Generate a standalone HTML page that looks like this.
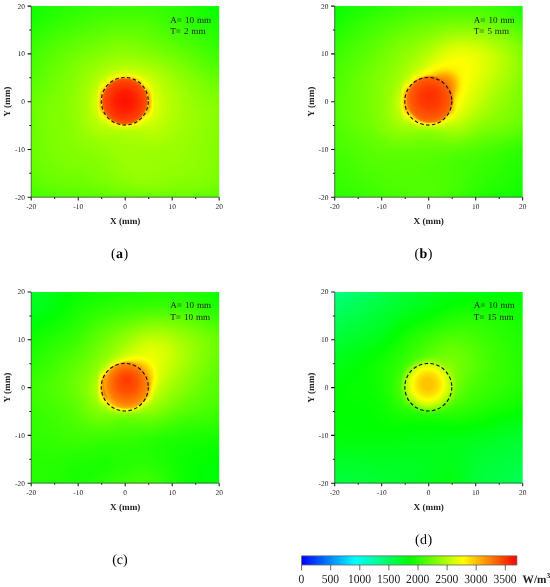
<!DOCTYPE html>
<html><head><meta charset="utf-8"><title>Figure</title>
<style>
html,body{margin:0;padding:0;background:#fff}
svg{display:block}
text{font-family:"Liberation Serif","DejaVu Serif",serif;fill:#222;text-rendering:geometricPrecision}
.tk text{font-size:7.4px}
.ax{font-size:9.2px;font-weight:bold}
.an{font-size:9.1px;word-spacing:0.65px}
.cap{font-size:14px;fill:#000;letter-spacing:0.5px}
.cbt text{font-size:12.4px}
.cbu{font-size:11.3px;font-weight:bold}
</style></head><body>
<svg width="550" height="587" viewBox="0 0 550 587">
<defs><filter id="cm" x="-20" y="-20" width="240" height="240" filterUnits="userSpaceOnUse" color-interpolation-filters="sRGB">
<feComponentTransfer>
<feFuncR type="table" tableValues="0 0 0 0 0 0 0 0 0 0 0 0 0 0 0 0 0 0 0 0.02703 0.05405 0.08108 0.1081 0.1351 0.1622 0.1892 0.2162 0.2432 0.2703 0.2973 0.3243 0.3514 0.3784 0.4054 0.4324 0.4595 0.4865 0.5135 0.5405 0.5676 0.5946 0.6216 0.6486 0.6757 0.7027 0.7297 0.7568 0.7838 0.8108 0.8378 0.8649 0.8919 0.9189 0.9459 0.973 1 1 1 1 1 1 1 1 1 1 1 1 1 1 1 1 1 1 1 1 1 1 1 1 1 1 1 1 1 1 1 1 1 1 1 1 1 1"/>
<feFuncG type="table" tableValues="1 1 1 1 1 1 1 1 1 1 1 1 1 1 1 1 1 1 1 1 1 1 1 1 1 1 1 1 1 1 1 1 1 1 1 1 1 1 1 1 1 1 1 1 1 1 1 1 1 1 1 1 1 1 1 1 0.973 0.9459 0.9189 0.8919 0.8649 0.8378 0.8108 0.7838 0.7568 0.7297 0.7027 0.6757 0.6486 0.6216 0.5946 0.5676 0.5405 0.5135 0.4865 0.4595 0.4324 0.4054 0.3784 0.3514 0.3243 0.2973 0.2703 0.2432 0.2162 0.1892 0.1622 0.1351 0.1081 0.08108 0.05405 0.02703 0"/>
<feFuncB type="table" tableValues="0.4865 0.4595 0.4324 0.4054 0.3784 0.3514 0.3243 0.2973 0.2703 0.2432 0.2162 0.1892 0.1622 0.1351 0.1081 0.08108 0.05405 0.02703 0 0 0 0 0 0 0 0 0 0 0 0 0 0 0 0 0 0 0 0 0 0 0 0 0 0 0 0 0 0 0 0 0 0 0 0 0 0 0 0 0 0 0 0 0 0 0 0 0 0 0 0 0 0 0 0 0 0 0 0 0 0 0 0 0 0 0 0 0 0 0 0 0 0 0"/>
</feComponentTransfer></filter>
<filter id="bl" x="-20" y="-20" width="240" height="240" filterUnits="userSpaceOnUse" color-interpolation-filters="sRGB"><feGaussianBlur stdDeviation="0 3"/></filter>
</defs>
<rect width="550" height="587" fill="#fff"/>
<defs><linearGradient id="g7" gradientUnits="userSpaceOnUse" x1="-9.4" x2="197.4" y1="0" y2="0"><stop offset="0" stop-color="#353535"/><stop offset="0.04545" stop-color="#353535"/><stop offset="0.09091" stop-color="#3a3a3a"/><stop offset="0.1364" stop-color="#3d3d3d"/><stop offset="0.1818" stop-color="#3f3f3f"/><stop offset="0.2273" stop-color="#414141"/><stop offset="0.2727" stop-color="#434343"/><stop offset="0.3182" stop-color="#444444"/><stop offset="0.3636" stop-color="#454545"/><stop offset="0.4091" stop-color="#474747"/><stop offset="0.4545" stop-color="#484848"/><stop offset="0.5" stop-color="#484848"/><stop offset="0.5455" stop-color="#484848"/><stop offset="0.5909" stop-color="#464646"/><stop offset="0.6364" stop-color="#454545"/><stop offset="0.6818" stop-color="#444444"/><stop offset="0.7273" stop-color="#434343"/><stop offset="0.7727" stop-color="#404040"/><stop offset="0.8182" stop-color="#3d3d3d"/><stop offset="0.8636" stop-color="#393939"/><stop offset="0.9091" stop-color="#363636"/><stop offset="0.9545" stop-color="#333333"/><stop offset="1" stop-color="#333333"/></linearGradient><linearGradient id="g8" gradientUnits="userSpaceOnUse" x1="-9.4" x2="197.4" y1="0" y2="0"><stop offset="0" stop-color="#363636"/><stop offset="0.04545" stop-color="#363636"/><stop offset="0.09091" stop-color="#3a3a3a"/><stop offset="0.1364" stop-color="#3e3e3e"/><stop offset="0.1818" stop-color="#404040"/><stop offset="0.2273" stop-color="#424242"/><stop offset="0.2727" stop-color="#444444"/><stop offset="0.3182" stop-color="#454545"/><stop offset="0.3636" stop-color="#474747"/><stop offset="0.4091" stop-color="#484848"/><stop offset="0.4545" stop-color="#494949"/><stop offset="0.5" stop-color="#4a4a4a"/><stop offset="0.5455" stop-color="#494949"/><stop offset="0.5909" stop-color="#484848"/><stop offset="0.6364" stop-color="#474747"/><stop offset="0.6818" stop-color="#464646"/><stop offset="0.7273" stop-color="#444444"/><stop offset="0.7727" stop-color="#414141"/><stop offset="0.8182" stop-color="#3e3e3e"/><stop offset="0.8636" stop-color="#3a3a3a"/><stop offset="0.9091" stop-color="#373737"/><stop offset="0.9545" stop-color="#343434"/><stop offset="1" stop-color="#343434"/></linearGradient><linearGradient id="g9" gradientUnits="userSpaceOnUse" x1="-9.4" x2="197.4" y1="0" y2="0"><stop offset="0" stop-color="#383838"/><stop offset="0.04545" stop-color="#383838"/><stop offset="0.09091" stop-color="#3c3c3c"/><stop offset="0.1364" stop-color="#3f3f3f"/><stop offset="0.1818" stop-color="#424242"/><stop offset="0.2273" stop-color="#444444"/><stop offset="0.2727" stop-color="#464646"/><stop offset="0.3182" stop-color="#484848"/><stop offset="0.3636" stop-color="#4a4a4a"/><stop offset="0.4091" stop-color="#4b4b4b"/><stop offset="0.4545" stop-color="#4c4c4c"/><stop offset="0.5" stop-color="#4d4d4d"/><stop offset="0.5455" stop-color="#4d4d4d"/><stop offset="0.5909" stop-color="#4c4c4c"/><stop offset="0.6364" stop-color="#4b4b4b"/><stop offset="0.6818" stop-color="#484848"/><stop offset="0.7273" stop-color="#464646"/><stop offset="0.7727" stop-color="#434343"/><stop offset="0.8182" stop-color="#404040"/><stop offset="0.8636" stop-color="#3d3d3d"/><stop offset="0.9091" stop-color="#3a3a3a"/><stop offset="0.9545" stop-color="#373737"/><stop offset="1" stop-color="#373737"/></linearGradient><linearGradient id="g10" gradientUnits="userSpaceOnUse" x1="-9.4" x2="197.4" y1="0" y2="0"><stop offset="0" stop-color="#3b3b3b"/><stop offset="0.04545" stop-color="#3b3b3b"/><stop offset="0.09091" stop-color="#3e3e3e"/><stop offset="0.1364" stop-color="#424242"/><stop offset="0.1818" stop-color="#444444"/><stop offset="0.2273" stop-color="#474747"/><stop offset="0.2727" stop-color="#494949"/><stop offset="0.3182" stop-color="#4b4b4b"/><stop offset="0.3636" stop-color="#4d4d4d"/><stop offset="0.4091" stop-color="#4f4f4f"/><stop offset="0.4545" stop-color="#505050"/><stop offset="0.5" stop-color="#505050"/><stop offset="0.5455" stop-color="#505050"/><stop offset="0.5909" stop-color="#4f4f4f"/><stop offset="0.6364" stop-color="#4e4e4e"/><stop offset="0.6818" stop-color="#4b4b4b"/><stop offset="0.7273" stop-color="#484848"/><stop offset="0.7727" stop-color="#454545"/><stop offset="0.8182" stop-color="#424242"/><stop offset="0.8636" stop-color="#3f3f3f"/><stop offset="0.9091" stop-color="#3c3c3c"/><stop offset="0.9545" stop-color="#393939"/><stop offset="1" stop-color="#393939"/></linearGradient><linearGradient id="g11" gradientUnits="userSpaceOnUse" x1="-9.4" x2="197.4" y1="0" y2="0"><stop offset="0" stop-color="#3d3d3d"/><stop offset="0.04545" stop-color="#3d3d3d"/><stop offset="0.09091" stop-color="#414141"/><stop offset="0.1364" stop-color="#444444"/><stop offset="0.1818" stop-color="#474747"/><stop offset="0.2273" stop-color="#494949"/><stop offset="0.2727" stop-color="#4c4c4c"/><stop offset="0.3182" stop-color="#4e4e4e"/><stop offset="0.3636" stop-color="#505050"/><stop offset="0.4091" stop-color="#525252"/><stop offset="0.4545" stop-color="#535353"/><stop offset="0.5" stop-color="#545454"/><stop offset="0.5455" stop-color="#545454"/><stop offset="0.5909" stop-color="#535353"/><stop offset="0.6364" stop-color="#505050"/><stop offset="0.6818" stop-color="#4d4d4d"/><stop offset="0.7273" stop-color="#4a4a4a"/><stop offset="0.7727" stop-color="#474747"/><stop offset="0.8182" stop-color="#444444"/><stop offset="0.8636" stop-color="#414141"/><stop offset="0.9091" stop-color="#3f3f3f"/><stop offset="0.9545" stop-color="#3b3b3b"/><stop offset="1" stop-color="#3b3b3b"/></linearGradient><linearGradient id="g12" gradientUnits="userSpaceOnUse" x1="-9.4" x2="197.4" y1="0" y2="0"><stop offset="0" stop-color="#404040"/><stop offset="0.04545" stop-color="#404040"/><stop offset="0.09091" stop-color="#434343"/><stop offset="0.1364" stop-color="#474747"/><stop offset="0.1818" stop-color="#4a4a4a"/><stop offset="0.2273" stop-color="#4c4c4c"/><stop offset="0.2727" stop-color="#4f4f4f"/><stop offset="0.3182" stop-color="#515151"/><stop offset="0.3636" stop-color="#535353"/><stop offset="0.4091" stop-color="#555555"/><stop offset="0.4545" stop-color="#575757"/><stop offset="0.5" stop-color="#585858"/><stop offset="0.5455" stop-color="#575757"/><stop offset="0.5909" stop-color="#565656"/><stop offset="0.6364" stop-color="#535353"/><stop offset="0.6818" stop-color="#505050"/><stop offset="0.7273" stop-color="#4d4d4d"/><stop offset="0.7727" stop-color="#4a4a4a"/><stop offset="0.8182" stop-color="#474747"/><stop offset="0.8636" stop-color="#444444"/><stop offset="0.9091" stop-color="#414141"/><stop offset="0.9545" stop-color="#3e3e3e"/><stop offset="1" stop-color="#3e3e3e"/></linearGradient><linearGradient id="g13" gradientUnits="userSpaceOnUse" x1="-9.4" x2="197.4" y1="0" y2="0"><stop offset="0" stop-color="#424242"/><stop offset="0.04545" stop-color="#424242"/><stop offset="0.09091" stop-color="#464646"/><stop offset="0.1364" stop-color="#4a4a4a"/><stop offset="0.1818" stop-color="#4d4d4d"/><stop offset="0.2273" stop-color="#505050"/><stop offset="0.2727" stop-color="#525252"/><stop offset="0.3182" stop-color="#555555"/><stop offset="0.3636" stop-color="#575757"/><stop offset="0.4091" stop-color="#595959"/><stop offset="0.4545" stop-color="#5b5b5b"/><stop offset="0.5" stop-color="#5b5b5b"/><stop offset="0.5455" stop-color="#5b5b5b"/><stop offset="0.5909" stop-color="#595959"/><stop offset="0.6364" stop-color="#565656"/><stop offset="0.6818" stop-color="#535353"/><stop offset="0.7273" stop-color="#505050"/><stop offset="0.7727" stop-color="#4c4c4c"/><stop offset="0.8182" stop-color="#494949"/><stop offset="0.8636" stop-color="#464646"/><stop offset="0.9091" stop-color="#434343"/><stop offset="0.9545" stop-color="#404040"/><stop offset="1" stop-color="#404040"/></linearGradient><linearGradient id="g14" gradientUnits="userSpaceOnUse" x1="-9.4" x2="197.4" y1="0" y2="0"><stop offset="0" stop-color="#454545"/><stop offset="0.04545" stop-color="#454545"/><stop offset="0.09091" stop-color="#494949"/><stop offset="0.1364" stop-color="#4d4d4d"/><stop offset="0.1818" stop-color="#505050"/><stop offset="0.2273" stop-color="#535353"/><stop offset="0.2727" stop-color="#565656"/><stop offset="0.3182" stop-color="#585858"/><stop offset="0.3636" stop-color="#5a5a5a"/><stop offset="0.4091" stop-color="#5d5d5d"/><stop offset="0.4545" stop-color="#5f5f5f"/><stop offset="0.5" stop-color="#5f5f5f"/><stop offset="0.5455" stop-color="#5e5e5e"/><stop offset="0.5909" stop-color="#5c5c5c"/><stop offset="0.6364" stop-color="#595959"/><stop offset="0.6818" stop-color="#565656"/><stop offset="0.7273" stop-color="#535353"/><stop offset="0.7727" stop-color="#4f4f4f"/><stop offset="0.8182" stop-color="#4c4c4c"/><stop offset="0.8636" stop-color="#484848"/><stop offset="0.9091" stop-color="#454545"/><stop offset="0.9545" stop-color="#424242"/><stop offset="1" stop-color="#424242"/></linearGradient><linearGradient id="g15" gradientUnits="userSpaceOnUse" x1="-9.4" x2="197.4" y1="0" y2="0"><stop offset="0" stop-color="#474747"/><stop offset="0.04545" stop-color="#474747"/><stop offset="0.09091" stop-color="#4b4b4b"/><stop offset="0.1364" stop-color="#4f4f4f"/><stop offset="0.1818" stop-color="#535353"/><stop offset="0.2273" stop-color="#565656"/><stop offset="0.2727" stop-color="#595959"/><stop offset="0.3182" stop-color="#5b5b5b"/><stop offset="0.3636" stop-color="#5e5e5e"/><stop offset="0.4091" stop-color="#606060"/><stop offset="0.4545" stop-color="#636363"/><stop offset="0.5" stop-color="#646464"/><stop offset="0.5455" stop-color="#626262"/><stop offset="0.5909" stop-color="#606060"/><stop offset="0.6364" stop-color="#5d5d5d"/><stop offset="0.6818" stop-color="#5a5a5a"/><stop offset="0.7273" stop-color="#565656"/><stop offset="0.7727" stop-color="#535353"/><stop offset="0.8182" stop-color="#4f4f4f"/><stop offset="0.8636" stop-color="#4b4b4b"/><stop offset="0.9091" stop-color="#474747"/><stop offset="0.9545" stop-color="#444444"/><stop offset="1" stop-color="#444444"/></linearGradient><linearGradient id="g16" gradientUnits="userSpaceOnUse" x1="-9.4" x2="197.4" y1="0" y2="0"><stop offset="0" stop-color="#494949"/><stop offset="0.04545" stop-color="#494949"/><stop offset="0.09091" stop-color="#4e4e4e"/><stop offset="0.1364" stop-color="#525252"/><stop offset="0.1818" stop-color="#565656"/><stop offset="0.2273" stop-color="#595959"/><stop offset="0.2727" stop-color="#5c5c5c"/><stop offset="0.3182" stop-color="#5f5f5f"/><stop offset="0.3636" stop-color="#626262"/><stop offset="0.4091" stop-color="#646464"/><stop offset="0.4545" stop-color="#676767"/><stop offset="0.5" stop-color="#686868"/><stop offset="0.5455" stop-color="#676767"/><stop offset="0.5909" stop-color="#646464"/><stop offset="0.6364" stop-color="#616161"/><stop offset="0.6818" stop-color="#5d5d5d"/><stop offset="0.7273" stop-color="#5a5a5a"/><stop offset="0.7727" stop-color="#565656"/><stop offset="0.8182" stop-color="#525252"/><stop offset="0.8636" stop-color="#4e4e4e"/><stop offset="0.9091" stop-color="#4a4a4a"/><stop offset="0.9545" stop-color="#464646"/><stop offset="1" stop-color="#464646"/></linearGradient><linearGradient id="g17" gradientUnits="userSpaceOnUse" x1="-9.4" x2="197.4" y1="0" y2="0"><stop offset="0" stop-color="#4b4b4b"/><stop offset="0.04545" stop-color="#4b4b4b"/><stop offset="0.09091" stop-color="#505050"/><stop offset="0.1364" stop-color="#545454"/><stop offset="0.1818" stop-color="#585858"/><stop offset="0.2273" stop-color="#5c5c5c"/><stop offset="0.2727" stop-color="#5f5f5f"/><stop offset="0.3182" stop-color="#626262"/><stop offset="0.3636" stop-color="#656565"/><stop offset="0.4091" stop-color="#686868"/><stop offset="0.4545" stop-color="#6b6b6b"/><stop offset="0.5" stop-color="#6c6c6c"/><stop offset="0.5455" stop-color="#6b6b6b"/><stop offset="0.5909" stop-color="#686868"/><stop offset="0.6364" stop-color="#656565"/><stop offset="0.6818" stop-color="#626262"/><stop offset="0.7273" stop-color="#5e5e5e"/><stop offset="0.7727" stop-color="#5a5a5a"/><stop offset="0.8182" stop-color="#555555"/><stop offset="0.8636" stop-color="#515151"/><stop offset="0.9091" stop-color="#4d4d4d"/><stop offset="0.9545" stop-color="#494949"/><stop offset="1" stop-color="#494949"/></linearGradient><linearGradient id="g18" gradientUnits="userSpaceOnUse" x1="-9.4" x2="197.4" y1="0" y2="0"><stop offset="0" stop-color="#4d4d4d"/><stop offset="0.04545" stop-color="#4d4d4d"/><stop offset="0.09091" stop-color="#525252"/><stop offset="0.1364" stop-color="#565656"/><stop offset="0.1818" stop-color="#5a5a5a"/><stop offset="0.2273" stop-color="#5e5e5e"/><stop offset="0.2727" stop-color="#626262"/><stop offset="0.3182" stop-color="#666666"/><stop offset="0.3636" stop-color="#696969"/><stop offset="0.4091" stop-color="#6d6d6d"/><stop offset="0.4545" stop-color="#707070"/><stop offset="0.5" stop-color="#717171"/><stop offset="0.5455" stop-color="#707070"/><stop offset="0.5909" stop-color="#6e6e6e"/><stop offset="0.6364" stop-color="#6a6a6a"/><stop offset="0.6818" stop-color="#676767"/><stop offset="0.7273" stop-color="#626262"/><stop offset="0.7727" stop-color="#5e5e5e"/><stop offset="0.8182" stop-color="#595959"/><stop offset="0.8636" stop-color="#545454"/><stop offset="0.9091" stop-color="#505050"/><stop offset="0.9545" stop-color="#4c4c4c"/><stop offset="1" stop-color="#4c4c4c"/></linearGradient><linearGradient id="g19" gradientUnits="userSpaceOnUse" x1="-9.4" x2="197.4" y1="0" y2="0"><stop offset="0" stop-color="#4f4f4f"/><stop offset="0.04545" stop-color="#4f4f4f"/><stop offset="0.09091" stop-color="#545454"/><stop offset="0.1364" stop-color="#585858"/><stop offset="0.1818" stop-color="#5c5c5c"/><stop offset="0.2273" stop-color="#606060"/><stop offset="0.2727" stop-color="#656565"/><stop offset="0.3182" stop-color="#696969"/><stop offset="0.3636" stop-color="#6d6d6d"/><stop offset="0.4091" stop-color="#717171"/><stop offset="0.4545" stop-color="#757575"/><stop offset="0.5" stop-color="#777777"/><stop offset="0.5455" stop-color="#767676"/><stop offset="0.5909" stop-color="#747474"/><stop offset="0.6364" stop-color="#707070"/><stop offset="0.6818" stop-color="#6c6c6c"/><stop offset="0.7273" stop-color="#676767"/><stop offset="0.7727" stop-color="#626262"/><stop offset="0.8182" stop-color="#5d5d5d"/><stop offset="0.8636" stop-color="#585858"/><stop offset="0.9091" stop-color="#535353"/><stop offset="0.9545" stop-color="#4f4f4f"/><stop offset="1" stop-color="#4f4f4f"/></linearGradient><linearGradient id="g20" gradientUnits="userSpaceOnUse" x1="-9.4" x2="197.4" y1="0" y2="0"><stop offset="0" stop-color="#505050"/><stop offset="0.04545" stop-color="#505050"/><stop offset="0.09091" stop-color="#555555"/><stop offset="0.1364" stop-color="#5a5a5a"/><stop offset="0.1818" stop-color="#5e5e5e"/><stop offset="0.2273" stop-color="#626262"/><stop offset="0.2727" stop-color="#676767"/><stop offset="0.3182" stop-color="#6c6c6c"/><stop offset="0.3636" stop-color="#717171"/><stop offset="0.4091" stop-color="#767676"/><stop offset="0.4545" stop-color="#7b7b7b"/><stop offset="0.5" stop-color="#7d7d7d"/><stop offset="0.5455" stop-color="#7d7d7d"/><stop offset="0.5909" stop-color="#7a7a7a"/><stop offset="0.6364" stop-color="#767676"/><stop offset="0.6818" stop-color="#717171"/><stop offset="0.7273" stop-color="#6b6b6b"/><stop offset="0.7727" stop-color="#666666"/><stop offset="0.8182" stop-color="#606060"/><stop offset="0.8636" stop-color="#5b5b5b"/><stop offset="0.9091" stop-color="#565656"/><stop offset="0.9545" stop-color="#525252"/><stop offset="1" stop-color="#525252"/></linearGradient><linearGradient id="g21" gradientUnits="userSpaceOnUse" x1="-9.4" x2="197.4" y1="0" y2="0"><stop offset="0" stop-color="#525252"/><stop offset="0.04545" stop-color="#525252"/><stop offset="0.09091" stop-color="#565656"/><stop offset="0.1364" stop-color="#5b5b5b"/><stop offset="0.1818" stop-color="#5f5f5f"/><stop offset="0.2273" stop-color="#646464"/><stop offset="0.2727" stop-color="#696969"/><stop offset="0.3182" stop-color="#6f6f6f"/><stop offset="0.3636" stop-color="#757575"/><stop offset="0.4091" stop-color="#7b7b7b"/><stop offset="0.4545" stop-color="#848484"/><stop offset="0.5" stop-color="#8a8a8a"/><stop offset="0.5455" stop-color="#868686"/><stop offset="0.5909" stop-color="#818181"/><stop offset="0.6364" stop-color="#7b7b7b"/><stop offset="0.6818" stop-color="#757575"/><stop offset="0.7273" stop-color="#6f6f6f"/><stop offset="0.7727" stop-color="#696969"/><stop offset="0.8182" stop-color="#646464"/><stop offset="0.8636" stop-color="#5f5f5f"/><stop offset="0.9091" stop-color="#5a5a5a"/><stop offset="0.9545" stop-color="#565656"/><stop offset="1" stop-color="#565656"/></linearGradient><linearGradient id="g22" gradientUnits="userSpaceOnUse" x1="-9.4" x2="197.4" y1="0" y2="0"><stop offset="0" stop-color="#535353"/><stop offset="0.04545" stop-color="#535353"/><stop offset="0.09091" stop-color="#585858"/><stop offset="0.1364" stop-color="#5c5c5c"/><stop offset="0.1818" stop-color="#616161"/><stop offset="0.2273" stop-color="#656565"/><stop offset="0.2727" stop-color="#6b6b6b"/><stop offset="0.3182" stop-color="#717171"/><stop offset="0.3636" stop-color="#787878"/><stop offset="0.4091" stop-color="#848484"/><stop offset="0.4545" stop-color="#9d9d9d"/><stop offset="0.5" stop-color="#b3b3b3"/><stop offset="0.5455" stop-color="#9e9e9e"/><stop offset="0.5909" stop-color="#898989"/><stop offset="0.6364" stop-color="#808080"/><stop offset="0.6818" stop-color="#797979"/><stop offset="0.7273" stop-color="#737373"/><stop offset="0.7727" stop-color="#6d6d6d"/><stop offset="0.8182" stop-color="#676767"/><stop offset="0.8636" stop-color="#626262"/><stop offset="0.9091" stop-color="#5d5d5d"/><stop offset="0.9545" stop-color="#595959"/><stop offset="1" stop-color="#595959"/></linearGradient><linearGradient id="g23" gradientUnits="userSpaceOnUse" x1="-9.4" x2="197.4" y1="0" y2="0"><stop offset="0" stop-color="#555555"/><stop offset="0.04545" stop-color="#555555"/><stop offset="0.09091" stop-color="#5a5a5a"/><stop offset="0.1364" stop-color="#5e5e5e"/><stop offset="0.1818" stop-color="#626262"/><stop offset="0.2273" stop-color="#666666"/><stop offset="0.2727" stop-color="#6c6c6c"/><stop offset="0.3182" stop-color="#737373"/><stop offset="0.3636" stop-color="#7c7c7c"/><stop offset="0.4091" stop-color="#949494"/><stop offset="0.4545" stop-color="#f4f4f4"/><stop offset="0.5" stop-color="#f5f5f5"/><stop offset="0.5455" stop-color="#f1f1f1"/><stop offset="0.5909" stop-color="#979797"/><stop offset="0.6364" stop-color="#848484"/><stop offset="0.6818" stop-color="#7c7c7c"/><stop offset="0.7273" stop-color="#757575"/><stop offset="0.7727" stop-color="#6f6f6f"/><stop offset="0.8182" stop-color="#6a6a6a"/><stop offset="0.8636" stop-color="#656565"/><stop offset="0.9091" stop-color="#606060"/><stop offset="0.9545" stop-color="#5d5d5d"/><stop offset="1" stop-color="#5d5d5d"/></linearGradient><linearGradient id="g24" gradientUnits="userSpaceOnUse" x1="-9.4" x2="197.4" y1="0" y2="0"><stop offset="0" stop-color="#575757"/><stop offset="0.04545" stop-color="#575757"/><stop offset="0.09091" stop-color="#5b5b5b"/><stop offset="0.1364" stop-color="#5f5f5f"/><stop offset="0.1818" stop-color="#636363"/><stop offset="0.2273" stop-color="#676767"/><stop offset="0.2727" stop-color="#6d6d6d"/><stop offset="0.3182" stop-color="#757575"/><stop offset="0.3636" stop-color="#818181"/><stop offset="0.4091" stop-color="#b8b8b8"/><stop offset="0.4545" stop-color="#f5f5f5"/><stop offset="0.5" stop-color="#f6f6f6"/><stop offset="0.5455" stop-color="#f8f8f8"/><stop offset="0.5909" stop-color="#b4b4b4"/><stop offset="0.6364" stop-color="#888888"/><stop offset="0.6818" stop-color="#7e7e7e"/><stop offset="0.7273" stop-color="#777777"/><stop offset="0.7727" stop-color="#717171"/><stop offset="0.8182" stop-color="#6c6c6c"/><stop offset="0.8636" stop-color="#676767"/><stop offset="0.9091" stop-color="#636363"/><stop offset="0.9545" stop-color="#606060"/><stop offset="1" stop-color="#606060"/></linearGradient><linearGradient id="g25" gradientUnits="userSpaceOnUse" x1="-9.4" x2="197.4" y1="0" y2="0"><stop offset="0" stop-color="#595959"/><stop offset="0.04545" stop-color="#595959"/><stop offset="0.09091" stop-color="#5d5d5d"/><stop offset="0.1364" stop-color="#616161"/><stop offset="0.1818" stop-color="#646464"/><stop offset="0.2273" stop-color="#686868"/><stop offset="0.2727" stop-color="#6e6e6e"/><stop offset="0.3182" stop-color="#767676"/><stop offset="0.3636" stop-color="#858585"/><stop offset="0.4091" stop-color="#f4f4f4"/><stop offset="0.4545" stop-color="#f6f6f6"/><stop offset="0.5" stop-color="#f7f7f7"/><stop offset="0.5455" stop-color="#f9f9f9"/><stop offset="0.5909" stop-color="#e4e4e4"/><stop offset="0.6364" stop-color="#8c8c8c"/><stop offset="0.6818" stop-color="#808080"/><stop offset="0.7273" stop-color="#797979"/><stop offset="0.7727" stop-color="#737373"/><stop offset="0.8182" stop-color="#6e6e6e"/><stop offset="0.8636" stop-color="#696969"/><stop offset="0.9091" stop-color="#666666"/><stop offset="0.9545" stop-color="#636363"/><stop offset="1" stop-color="#636363"/></linearGradient><linearGradient id="g26" gradientUnits="userSpaceOnUse" x1="-9.4" x2="197.4" y1="0" y2="0"><stop offset="0" stop-color="#5a5a5a"/><stop offset="0.04545" stop-color="#5a5a5a"/><stop offset="0.09091" stop-color="#5f5f5f"/><stop offset="0.1364" stop-color="#626262"/><stop offset="0.1818" stop-color="#656565"/><stop offset="0.2273" stop-color="#696969"/><stop offset="0.2727" stop-color="#6f6f6f"/><stop offset="0.3182" stop-color="#777777"/><stop offset="0.3636" stop-color="#898989"/><stop offset="0.4091" stop-color="#f6f6f6"/><stop offset="0.4545" stop-color="#f7f7f7"/><stop offset="0.5" stop-color="#f8f8f8"/><stop offset="0.5455" stop-color="#fafafa"/><stop offset="0.5909" stop-color="#fbfbfb"/><stop offset="0.6364" stop-color="#8f8f8f"/><stop offset="0.6818" stop-color="#818181"/><stop offset="0.7273" stop-color="#7a7a7a"/><stop offset="0.7727" stop-color="#747474"/><stop offset="0.8182" stop-color="#6f6f6f"/><stop offset="0.8636" stop-color="#6b6b6b"/><stop offset="0.9091" stop-color="#686868"/><stop offset="0.9545" stop-color="#656565"/><stop offset="1" stop-color="#656565"/></linearGradient><linearGradient id="g27" gradientUnits="userSpaceOnUse" x1="-9.4" x2="197.4" y1="0" y2="0"><stop offset="0" stop-color="#5b5b5b"/><stop offset="0.04545" stop-color="#5b5b5b"/><stop offset="0.09091" stop-color="#606060"/><stop offset="0.1364" stop-color="#636363"/><stop offset="0.1818" stop-color="#656565"/><stop offset="0.2273" stop-color="#696969"/><stop offset="0.2727" stop-color="#6f6f6f"/><stop offset="0.3182" stop-color="#787878"/><stop offset="0.3636" stop-color="#8b8b8b"/><stop offset="0.4091" stop-color="#f7f7f7"/><stop offset="0.4545" stop-color="#f7f7f7"/><stop offset="0.5" stop-color="#dedede"/><stop offset="0.5455" stop-color="#f9f9f9"/><stop offset="0.5909" stop-color="#fbfbfb"/><stop offset="0.6364" stop-color="#909090"/><stop offset="0.6818" stop-color="#828282"/><stop offset="0.7273" stop-color="#7a7a7a"/><stop offset="0.7727" stop-color="#747474"/><stop offset="0.8182" stop-color="#707070"/><stop offset="0.8636" stop-color="#6c6c6c"/><stop offset="0.9091" stop-color="#696969"/><stop offset="0.9545" stop-color="#676767"/><stop offset="1" stop-color="#676767"/></linearGradient><linearGradient id="g28" gradientUnits="userSpaceOnUse" x1="-9.4" x2="197.4" y1="0" y2="0"><stop offset="0" stop-color="#5c5c5c"/><stop offset="0.04545" stop-color="#5c5c5c"/><stop offset="0.09091" stop-color="#606060"/><stop offset="0.1364" stop-color="#636363"/><stop offset="0.1818" stop-color="#666666"/><stop offset="0.2273" stop-color="#696969"/><stop offset="0.2727" stop-color="#6f6f6f"/><stop offset="0.3182" stop-color="#787878"/><stop offset="0.3636" stop-color="#888888"/><stop offset="0.4091" stop-color="#f5f5f5"/><stop offset="0.4545" stop-color="#efefef"/><stop offset="0.5" stop-color="#dedede"/><stop offset="0.5455" stop-color="#f2f2f2"/><stop offset="0.5909" stop-color="#e7e7e7"/><stop offset="0.6364" stop-color="#8e8e8e"/><stop offset="0.6818" stop-color="#828282"/><stop offset="0.7273" stop-color="#7a7a7a"/><stop offset="0.7727" stop-color="#757575"/><stop offset="0.8182" stop-color="#717171"/><stop offset="0.8636" stop-color="#6d6d6d"/><stop offset="0.9091" stop-color="#6b6b6b"/><stop offset="0.9545" stop-color="#686868"/><stop offset="1" stop-color="#686868"/></linearGradient><linearGradient id="g29" gradientUnits="userSpaceOnUse" x1="-9.4" x2="197.4" y1="0" y2="0"><stop offset="0" stop-color="#5c5c5c"/><stop offset="0.04545" stop-color="#5c5c5c"/><stop offset="0.09091" stop-color="#616161"/><stop offset="0.1364" stop-color="#646464"/><stop offset="0.1818" stop-color="#666666"/><stop offset="0.2273" stop-color="#6a6a6a"/><stop offset="0.2727" stop-color="#6f6f6f"/><stop offset="0.3182" stop-color="#787878"/><stop offset="0.3636" stop-color="#848484"/><stop offset="0.4091" stop-color="#bababa"/><stop offset="0.4545" stop-color="#e9e9e9"/><stop offset="0.5" stop-color="#e0e0e0"/><stop offset="0.5455" stop-color="#ececec"/><stop offset="0.5909" stop-color="#b4b4b4"/><stop offset="0.6364" stop-color="#8a8a8a"/><stop offset="0.6818" stop-color="#818181"/><stop offset="0.7273" stop-color="#7a7a7a"/><stop offset="0.7727" stop-color="#757575"/><stop offset="0.8182" stop-color="#717171"/><stop offset="0.8636" stop-color="#6e6e6e"/><stop offset="0.9091" stop-color="#6b6b6b"/><stop offset="0.9545" stop-color="#686868"/><stop offset="1" stop-color="#686868"/></linearGradient><linearGradient id="g30" gradientUnits="userSpaceOnUse" x1="-9.4" x2="197.4" y1="0" y2="0"><stop offset="0" stop-color="#5c5c5c"/><stop offset="0.04545" stop-color="#5c5c5c"/><stop offset="0.09091" stop-color="#616161"/><stop offset="0.1364" stop-color="#646464"/><stop offset="0.1818" stop-color="#666666"/><stop offset="0.2273" stop-color="#696969"/><stop offset="0.2727" stop-color="#6f6f6f"/><stop offset="0.3182" stop-color="#777777"/><stop offset="0.3636" stop-color="#808080"/><stop offset="0.4091" stop-color="#949494"/><stop offset="0.4545" stop-color="#e7e7e7"/><stop offset="0.5" stop-color="#e1e1e1"/><stop offset="0.5455" stop-color="#eaeaea"/><stop offset="0.5909" stop-color="#959595"/><stop offset="0.6364" stop-color="#878787"/><stop offset="0.6818" stop-color="#808080"/><stop offset="0.7273" stop-color="#797979"/><stop offset="0.7727" stop-color="#747474"/><stop offset="0.8182" stop-color="#717171"/><stop offset="0.8636" stop-color="#6e6e6e"/><stop offset="0.9091" stop-color="#6b6b6b"/><stop offset="0.9545" stop-color="#686868"/><stop offset="1" stop-color="#686868"/></linearGradient><linearGradient id="g31" gradientUnits="userSpaceOnUse" x1="-9.4" x2="197.4" y1="0" y2="0"><stop offset="0" stop-color="#5c5c5c"/><stop offset="0.04545" stop-color="#5c5c5c"/><stop offset="0.09091" stop-color="#616161"/><stop offset="0.1364" stop-color="#646464"/><stop offset="0.1818" stop-color="#666666"/><stop offset="0.2273" stop-color="#696969"/><stop offset="0.2727" stop-color="#6e6e6e"/><stop offset="0.3182" stop-color="#757575"/><stop offset="0.3636" stop-color="#7c7c7c"/><stop offset="0.4091" stop-color="#838383"/><stop offset="0.4545" stop-color="#959595"/><stop offset="0.5" stop-color="#a8a8a8"/><stop offset="0.5455" stop-color="#959595"/><stop offset="0.5909" stop-color="#878787"/><stop offset="0.6364" stop-color="#838383"/><stop offset="0.6818" stop-color="#7e7e7e"/><stop offset="0.7273" stop-color="#787878"/><stop offset="0.7727" stop-color="#747474"/><stop offset="0.8182" stop-color="#707070"/><stop offset="0.8636" stop-color="#6e6e6e"/><stop offset="0.9091" stop-color="#6b6b6b"/><stop offset="0.9545" stop-color="#686868"/><stop offset="1" stop-color="#686868"/></linearGradient><linearGradient id="g32" gradientUnits="userSpaceOnUse" x1="-9.4" x2="197.4" y1="0" y2="0"><stop offset="0" stop-color="#5c5c5c"/><stop offset="0.04545" stop-color="#5c5c5c"/><stop offset="0.09091" stop-color="#616161"/><stop offset="0.1364" stop-color="#646464"/><stop offset="0.1818" stop-color="#666666"/><stop offset="0.2273" stop-color="#696969"/><stop offset="0.2727" stop-color="#6d6d6d"/><stop offset="0.3182" stop-color="#737373"/><stop offset="0.3636" stop-color="#797979"/><stop offset="0.4091" stop-color="#7b7b7b"/><stop offset="0.4545" stop-color="#7d7d7d"/><stop offset="0.5" stop-color="#808080"/><stop offset="0.5455" stop-color="#7f7f7f"/><stop offset="0.5909" stop-color="#808080"/><stop offset="0.6364" stop-color="#7f7f7f"/><stop offset="0.6818" stop-color="#7c7c7c"/><stop offset="0.7273" stop-color="#777777"/><stop offset="0.7727" stop-color="#737373"/><stop offset="0.8182" stop-color="#707070"/><stop offset="0.8636" stop-color="#6d6d6d"/><stop offset="0.9091" stop-color="#6b6b6b"/><stop offset="0.9545" stop-color="#686868"/><stop offset="1" stop-color="#686868"/></linearGradient><linearGradient id="g33" gradientUnits="userSpaceOnUse" x1="-9.4" x2="197.4" y1="0" y2="0"><stop offset="0" stop-color="#5c5c5c"/><stop offset="0.04545" stop-color="#5c5c5c"/><stop offset="0.09091" stop-color="#616161"/><stop offset="0.1364" stop-color="#636363"/><stop offset="0.1818" stop-color="#666666"/><stop offset="0.2273" stop-color="#686868"/><stop offset="0.2727" stop-color="#6c6c6c"/><stop offset="0.3182" stop-color="#717171"/><stop offset="0.3636" stop-color="#757575"/><stop offset="0.4091" stop-color="#777777"/><stop offset="0.4545" stop-color="#777777"/><stop offset="0.5" stop-color="#777777"/><stop offset="0.5455" stop-color="#797979"/><stop offset="0.5909" stop-color="#7b7b7b"/><stop offset="0.6364" stop-color="#7c7c7c"/><stop offset="0.6818" stop-color="#797979"/><stop offset="0.7273" stop-color="#757575"/><stop offset="0.7727" stop-color="#727272"/><stop offset="0.8182" stop-color="#6f6f6f"/><stop offset="0.8636" stop-color="#6d6d6d"/><stop offset="0.9091" stop-color="#6a6a6a"/><stop offset="0.9545" stop-color="#686868"/><stop offset="1" stop-color="#686868"/></linearGradient><linearGradient id="g34" gradientUnits="userSpaceOnUse" x1="-9.4" x2="197.4" y1="0" y2="0"><stop offset="0" stop-color="#5c5c5c"/><stop offset="0.04545" stop-color="#5c5c5c"/><stop offset="0.09091" stop-color="#606060"/><stop offset="0.1364" stop-color="#636363"/><stop offset="0.1818" stop-color="#666666"/><stop offset="0.2273" stop-color="#686868"/><stop offset="0.2727" stop-color="#6b6b6b"/><stop offset="0.3182" stop-color="#6e6e6e"/><stop offset="0.3636" stop-color="#727272"/><stop offset="0.4091" stop-color="#747474"/><stop offset="0.4545" stop-color="#747474"/><stop offset="0.5" stop-color="#757575"/><stop offset="0.5455" stop-color="#767676"/><stop offset="0.5909" stop-color="#787878"/><stop offset="0.6364" stop-color="#787878"/><stop offset="0.6818" stop-color="#767676"/><stop offset="0.7273" stop-color="#747474"/><stop offset="0.7727" stop-color="#717171"/><stop offset="0.8182" stop-color="#6f6f6f"/><stop offset="0.8636" stop-color="#6c6c6c"/><stop offset="0.9091" stop-color="#6a6a6a"/><stop offset="0.9545" stop-color="#676767"/><stop offset="1" stop-color="#676767"/></linearGradient><linearGradient id="g35" gradientUnits="userSpaceOnUse" x1="-9.4" x2="197.4" y1="0" y2="0"><stop offset="0" stop-color="#5c5c5c"/><stop offset="0.04545" stop-color="#5c5c5c"/><stop offset="0.09091" stop-color="#606060"/><stop offset="0.1364" stop-color="#636363"/><stop offset="0.1818" stop-color="#656565"/><stop offset="0.2273" stop-color="#676767"/><stop offset="0.2727" stop-color="#6a6a6a"/><stop offset="0.3182" stop-color="#6c6c6c"/><stop offset="0.3636" stop-color="#6f6f6f"/><stop offset="0.4091" stop-color="#717171"/><stop offset="0.4545" stop-color="#727272"/><stop offset="0.5" stop-color="#737373"/><stop offset="0.5455" stop-color="#747474"/><stop offset="0.5909" stop-color="#757575"/><stop offset="0.6364" stop-color="#757575"/><stop offset="0.6818" stop-color="#747474"/><stop offset="0.7273" stop-color="#727272"/><stop offset="0.7727" stop-color="#717171"/><stop offset="0.8182" stop-color="#6e6e6e"/><stop offset="0.8636" stop-color="#6c6c6c"/><stop offset="0.9091" stop-color="#696969"/><stop offset="0.9545" stop-color="#666666"/><stop offset="1" stop-color="#666666"/></linearGradient><linearGradient id="g36" gradientUnits="userSpaceOnUse" x1="-9.4" x2="197.4" y1="0" y2="0"><stop offset="0" stop-color="#5c5c5c"/><stop offset="0.04545" stop-color="#5c5c5c"/><stop offset="0.09091" stop-color="#606060"/><stop offset="0.1364" stop-color="#636363"/><stop offset="0.1818" stop-color="#656565"/><stop offset="0.2273" stop-color="#676767"/><stop offset="0.2727" stop-color="#686868"/><stop offset="0.3182" stop-color="#6a6a6a"/><stop offset="0.3636" stop-color="#6c6c6c"/><stop offset="0.4091" stop-color="#6e6e6e"/><stop offset="0.4545" stop-color="#717171"/><stop offset="0.5" stop-color="#727272"/><stop offset="0.5455" stop-color="#737373"/><stop offset="0.5909" stop-color="#737373"/><stop offset="0.6364" stop-color="#727272"/><stop offset="0.6818" stop-color="#727272"/><stop offset="0.7273" stop-color="#717171"/><stop offset="0.7727" stop-color="#707070"/><stop offset="0.8182" stop-color="#6e6e6e"/><stop offset="0.8636" stop-color="#6b6b6b"/><stop offset="0.9091" stop-color="#696969"/><stop offset="0.9545" stop-color="#666666"/><stop offset="1" stop-color="#666666"/></linearGradient><linearGradient id="g37" gradientUnits="userSpaceOnUse" x1="-9.4" x2="197.4" y1="0" y2="0"><stop offset="0" stop-color="#5c5c5c"/><stop offset="0.04545" stop-color="#5c5c5c"/><stop offset="0.09091" stop-color="#606060"/><stop offset="0.1364" stop-color="#626262"/><stop offset="0.1818" stop-color="#646464"/><stop offset="0.2273" stop-color="#666666"/><stop offset="0.2727" stop-color="#676767"/><stop offset="0.3182" stop-color="#686868"/><stop offset="0.3636" stop-color="#6a6a6a"/><stop offset="0.4091" stop-color="#6c6c6c"/><stop offset="0.4545" stop-color="#6f6f6f"/><stop offset="0.5" stop-color="#727272"/><stop offset="0.5455" stop-color="#727272"/><stop offset="0.5909" stop-color="#717171"/><stop offset="0.6364" stop-color="#717171"/><stop offset="0.6818" stop-color="#717171"/><stop offset="0.7273" stop-color="#707070"/><stop offset="0.7727" stop-color="#6f6f6f"/><stop offset="0.8182" stop-color="#6d6d6d"/><stop offset="0.8636" stop-color="#6b6b6b"/><stop offset="0.9091" stop-color="#696969"/><stop offset="0.9545" stop-color="#666666"/><stop offset="1" stop-color="#666666"/></linearGradient><linearGradient id="g38" gradientUnits="userSpaceOnUse" x1="-9.4" x2="197.4" y1="0" y2="0"><stop offset="0" stop-color="#5b5b5b"/><stop offset="0.04545" stop-color="#5b5b5b"/><stop offset="0.09091" stop-color="#5f5f5f"/><stop offset="0.1364" stop-color="#626262"/><stop offset="0.1818" stop-color="#646464"/><stop offset="0.2273" stop-color="#656565"/><stop offset="0.2727" stop-color="#666666"/><stop offset="0.3182" stop-color="#676767"/><stop offset="0.3636" stop-color="#686868"/><stop offset="0.4091" stop-color="#6b6b6b"/><stop offset="0.4545" stop-color="#6e6e6e"/><stop offset="0.5" stop-color="#717171"/><stop offset="0.5455" stop-color="#727272"/><stop offset="0.5909" stop-color="#717171"/><stop offset="0.6364" stop-color="#707070"/><stop offset="0.6818" stop-color="#707070"/><stop offset="0.7273" stop-color="#707070"/><stop offset="0.7727" stop-color="#6f6f6f"/><stop offset="0.8182" stop-color="#6d6d6d"/><stop offset="0.8636" stop-color="#6b6b6b"/><stop offset="0.9091" stop-color="#696969"/><stop offset="0.9545" stop-color="#656565"/><stop offset="1" stop-color="#656565"/></linearGradient><linearGradient id="g39" gradientUnits="userSpaceOnUse" x1="-9.4" x2="197.4" y1="0" y2="0"><stop offset="0" stop-color="#5b5b5b"/><stop offset="0.04545" stop-color="#5b5b5b"/><stop offset="0.09091" stop-color="#5e5e5e"/><stop offset="0.1364" stop-color="#616161"/><stop offset="0.1818" stop-color="#636363"/><stop offset="0.2273" stop-color="#646464"/><stop offset="0.2727" stop-color="#656565"/><stop offset="0.3182" stop-color="#666666"/><stop offset="0.3636" stop-color="#676767"/><stop offset="0.4091" stop-color="#6a6a6a"/><stop offset="0.4545" stop-color="#6d6d6d"/><stop offset="0.5" stop-color="#707070"/><stop offset="0.5455" stop-color="#717171"/><stop offset="0.5909" stop-color="#717171"/><stop offset="0.6364" stop-color="#707070"/><stop offset="0.6818" stop-color="#707070"/><stop offset="0.7273" stop-color="#6f6f6f"/><stop offset="0.7727" stop-color="#6e6e6e"/><stop offset="0.8182" stop-color="#6d6d6d"/><stop offset="0.8636" stop-color="#6b6b6b"/><stop offset="0.9091" stop-color="#696969"/><stop offset="0.9545" stop-color="#656565"/><stop offset="1" stop-color="#656565"/></linearGradient><linearGradient id="g40" gradientUnits="userSpaceOnUse" x1="-9.4" x2="197.4" y1="0" y2="0"><stop offset="0" stop-color="#5a5a5a"/><stop offset="0.04545" stop-color="#5a5a5a"/><stop offset="0.09091" stop-color="#5e5e5e"/><stop offset="0.1364" stop-color="#606060"/><stop offset="0.1818" stop-color="#616161"/><stop offset="0.2273" stop-color="#626262"/><stop offset="0.2727" stop-color="#636363"/><stop offset="0.3182" stop-color="#646464"/><stop offset="0.3636" stop-color="#666666"/><stop offset="0.4091" stop-color="#696969"/><stop offset="0.4545" stop-color="#6c6c6c"/><stop offset="0.5" stop-color="#6f6f6f"/><stop offset="0.5455" stop-color="#717171"/><stop offset="0.5909" stop-color="#717171"/><stop offset="0.6364" stop-color="#707070"/><stop offset="0.6818" stop-color="#6f6f6f"/><stop offset="0.7273" stop-color="#6e6e6e"/><stop offset="0.7727" stop-color="#6d6d6d"/><stop offset="0.8182" stop-color="#6c6c6c"/><stop offset="0.8636" stop-color="#6b6b6b"/><stop offset="0.9091" stop-color="#686868"/><stop offset="0.9545" stop-color="#656565"/><stop offset="1" stop-color="#656565"/></linearGradient><linearGradient id="g41" gradientUnits="userSpaceOnUse" x1="-9.4" x2="197.4" y1="0" y2="0"><stop offset="0" stop-color="#595959"/><stop offset="0.04545" stop-color="#595959"/><stop offset="0.09091" stop-color="#5c5c5c"/><stop offset="0.1364" stop-color="#5f5f5f"/><stop offset="0.1818" stop-color="#606060"/><stop offset="0.2273" stop-color="#616161"/><stop offset="0.2727" stop-color="#616161"/><stop offset="0.3182" stop-color="#636363"/><stop offset="0.3636" stop-color="#656565"/><stop offset="0.4091" stop-color="#676767"/><stop offset="0.4545" stop-color="#6b6b6b"/><stop offset="0.5" stop-color="#6e6e6e"/><stop offset="0.5455" stop-color="#6f6f6f"/><stop offset="0.5909" stop-color="#707070"/><stop offset="0.6364" stop-color="#6f6f6f"/><stop offset="0.6818" stop-color="#6e6e6e"/><stop offset="0.7273" stop-color="#6d6d6d"/><stop offset="0.7727" stop-color="#6c6c6c"/><stop offset="0.8182" stop-color="#6b6b6b"/><stop offset="0.8636" stop-color="#6a6a6a"/><stop offset="0.9091" stop-color="#686868"/><stop offset="0.9545" stop-color="#646464"/><stop offset="1" stop-color="#646464"/></linearGradient><linearGradient id="g42" gradientUnits="userSpaceOnUse" x1="-9.4" x2="197.4" y1="0" y2="0"><stop offset="0" stop-color="#575757"/><stop offset="0.04545" stop-color="#575757"/><stop offset="0.09091" stop-color="#5b5b5b"/><stop offset="0.1364" stop-color="#5d5d5d"/><stop offset="0.1818" stop-color="#5e5e5e"/><stop offset="0.2273" stop-color="#5f5f5f"/><stop offset="0.2727" stop-color="#606060"/><stop offset="0.3182" stop-color="#616161"/><stop offset="0.3636" stop-color="#636363"/><stop offset="0.4091" stop-color="#666666"/><stop offset="0.4545" stop-color="#696969"/><stop offset="0.5" stop-color="#6b6b6b"/><stop offset="0.5455" stop-color="#6e6e6e"/><stop offset="0.5909" stop-color="#6f6f6f"/><stop offset="0.6364" stop-color="#6e6e6e"/><stop offset="0.6818" stop-color="#6d6d6d"/><stop offset="0.7273" stop-color="#6b6b6b"/><stop offset="0.7727" stop-color="#6a6a6a"/><stop offset="0.8182" stop-color="#696969"/><stop offset="0.8636" stop-color="#686868"/><stop offset="0.9091" stop-color="#666666"/><stop offset="0.9545" stop-color="#626262"/><stop offset="1" stop-color="#626262"/></linearGradient><linearGradient id="g43" gradientUnits="userSpaceOnUse" x1="-9.4" x2="197.4" y1="0" y2="0"><stop offset="0" stop-color="#555555"/><stop offset="0.04545" stop-color="#555555"/><stop offset="0.09091" stop-color="#585858"/><stop offset="0.1364" stop-color="#5a5a5a"/><stop offset="0.1818" stop-color="#5c5c5c"/><stop offset="0.2273" stop-color="#5c5c5c"/><stop offset="0.2727" stop-color="#5d5d5d"/><stop offset="0.3182" stop-color="#5f5f5f"/><stop offset="0.3636" stop-color="#616161"/><stop offset="0.4091" stop-color="#636363"/><stop offset="0.4545" stop-color="#666666"/><stop offset="0.5" stop-color="#686868"/><stop offset="0.5455" stop-color="#6b6b6b"/><stop offset="0.5909" stop-color="#6c6c6c"/><stop offset="0.6364" stop-color="#6c6c6c"/><stop offset="0.6818" stop-color="#6a6a6a"/><stop offset="0.7273" stop-color="#686868"/><stop offset="0.7727" stop-color="#676767"/><stop offset="0.8182" stop-color="#676767"/><stop offset="0.8636" stop-color="#666666"/><stop offset="0.9091" stop-color="#646464"/><stop offset="0.9545" stop-color="#616161"/><stop offset="1" stop-color="#616161"/></linearGradient><linearGradient id="g44" gradientUnits="userSpaceOnUse" x1="-9.4" x2="197.4" y1="0" y2="0"><stop offset="0" stop-color="#525252"/><stop offset="0.04545" stop-color="#525252"/><stop offset="0.09091" stop-color="#565656"/><stop offset="0.1364" stop-color="#585858"/><stop offset="0.1818" stop-color="#595959"/><stop offset="0.2273" stop-color="#5a5a5a"/><stop offset="0.2727" stop-color="#5b5b5b"/><stop offset="0.3182" stop-color="#5c5c5c"/><stop offset="0.3636" stop-color="#5e5e5e"/><stop offset="0.4091" stop-color="#606060"/><stop offset="0.4545" stop-color="#626262"/><stop offset="0.5" stop-color="#646464"/><stop offset="0.5455" stop-color="#666666"/><stop offset="0.5909" stop-color="#686868"/><stop offset="0.6364" stop-color="#686868"/><stop offset="0.6818" stop-color="#676767"/><stop offset="0.7273" stop-color="#656565"/><stop offset="0.7727" stop-color="#646464"/><stop offset="0.8182" stop-color="#646464"/><stop offset="0.8636" stop-color="#636363"/><stop offset="0.9091" stop-color="#616161"/><stop offset="0.9545" stop-color="#5e5e5e"/><stop offset="1" stop-color="#5e5e5e"/></linearGradient><linearGradient id="g45" gradientUnits="userSpaceOnUse" x1="-9.4" x2="197.4" y1="0" y2="0"><stop offset="0" stop-color="#4f4f4f"/><stop offset="0.04545" stop-color="#4f4f4f"/><stop offset="0.09091" stop-color="#525252"/><stop offset="0.1364" stop-color="#545454"/><stop offset="0.1818" stop-color="#565656"/><stop offset="0.2273" stop-color="#575757"/><stop offset="0.2727" stop-color="#585858"/><stop offset="0.3182" stop-color="#595959"/><stop offset="0.3636" stop-color="#5a5a5a"/><stop offset="0.4091" stop-color="#5c5c5c"/><stop offset="0.4545" stop-color="#5d5d5d"/><stop offset="0.5" stop-color="#5f5f5f"/><stop offset="0.5455" stop-color="#606060"/><stop offset="0.5909" stop-color="#626262"/><stop offset="0.6364" stop-color="#626262"/><stop offset="0.6818" stop-color="#626262"/><stop offset="0.7273" stop-color="#616161"/><stop offset="0.7727" stop-color="#606060"/><stop offset="0.8182" stop-color="#606060"/><stop offset="0.8636" stop-color="#5f5f5f"/><stop offset="0.9091" stop-color="#5d5d5d"/><stop offset="0.9545" stop-color="#5b5b5b"/><stop offset="1" stop-color="#5b5b5b"/></linearGradient><linearGradient id="g46" gradientUnits="userSpaceOnUse" x1="-9.4" x2="197.4" y1="0" y2="0"><stop offset="0" stop-color="#4c4c4c"/><stop offset="0.04545" stop-color="#4c4c4c"/><stop offset="0.09091" stop-color="#4f4f4f"/><stop offset="0.1364" stop-color="#515151"/><stop offset="0.1818" stop-color="#535353"/><stop offset="0.2273" stop-color="#545454"/><stop offset="0.2727" stop-color="#555555"/><stop offset="0.3182" stop-color="#565656"/><stop offset="0.3636" stop-color="#575757"/><stop offset="0.4091" stop-color="#585858"/><stop offset="0.4545" stop-color="#595959"/><stop offset="0.5" stop-color="#5a5a5a"/><stop offset="0.5455" stop-color="#5b5b5b"/><stop offset="0.5909" stop-color="#5c5c5c"/><stop offset="0.6364" stop-color="#5c5c5c"/><stop offset="0.6818" stop-color="#5d5d5d"/><stop offset="0.7273" stop-color="#5d5d5d"/><stop offset="0.7727" stop-color="#5d5d5d"/><stop offset="0.8182" stop-color="#5c5c5c"/><stop offset="0.8636" stop-color="#5b5b5b"/><stop offset="0.9091" stop-color="#5a5a5a"/><stop offset="0.9545" stop-color="#585858"/><stop offset="1" stop-color="#585858"/></linearGradient><linearGradient id="g47" gradientUnits="userSpaceOnUse" x1="-9.4" x2="197.4" y1="0" y2="0"><stop offset="0" stop-color="#4c4c4c"/><stop offset="0.04545" stop-color="#4c4c4c"/><stop offset="0.09091" stop-color="#4f4f4f"/><stop offset="0.1364" stop-color="#515151"/><stop offset="0.1818" stop-color="#535353"/><stop offset="0.2273" stop-color="#545454"/><stop offset="0.2727" stop-color="#555555"/><stop offset="0.3182" stop-color="#565656"/><stop offset="0.3636" stop-color="#575757"/><stop offset="0.4091" stop-color="#585858"/><stop offset="0.4545" stop-color="#595959"/><stop offset="0.5" stop-color="#5a5a5a"/><stop offset="0.5455" stop-color="#5b5b5b"/><stop offset="0.5909" stop-color="#5c5c5c"/><stop offset="0.6364" stop-color="#5c5c5c"/><stop offset="0.6818" stop-color="#5d5d5d"/><stop offset="0.7273" stop-color="#5d5d5d"/><stop offset="0.7727" stop-color="#5d5d5d"/><stop offset="0.8182" stop-color="#5c5c5c"/><stop offset="0.8636" stop-color="#5b5b5b"/><stop offset="0.9091" stop-color="#5a5a5a"/><stop offset="0.9545" stop-color="#585858"/><stop offset="1" stop-color="#585858"/></linearGradient><linearGradient id="g48" gradientUnits="userSpaceOnUse" x1="-9.4" x2="197.4" y1="0" y2="0"><stop offset="0" stop-color="#4c4c4c"/><stop offset="0.04545" stop-color="#4c4c4c"/><stop offset="0.09091" stop-color="#4f4f4f"/><stop offset="0.1364" stop-color="#515151"/><stop offset="0.1818" stop-color="#535353"/><stop offset="0.2273" stop-color="#545454"/><stop offset="0.2727" stop-color="#555555"/><stop offset="0.3182" stop-color="#565656"/><stop offset="0.3636" stop-color="#575757"/><stop offset="0.4091" stop-color="#585858"/><stop offset="0.4545" stop-color="#595959"/><stop offset="0.5" stop-color="#5a5a5a"/><stop offset="0.5455" stop-color="#5b5b5b"/><stop offset="0.5909" stop-color="#5c5c5c"/><stop offset="0.6364" stop-color="#5c5c5c"/><stop offset="0.6818" stop-color="#5d5d5d"/><stop offset="0.7273" stop-color="#5d5d5d"/><stop offset="0.7727" stop-color="#5d5d5d"/><stop offset="0.8182" stop-color="#5c5c5c"/><stop offset="0.8636" stop-color="#5b5b5b"/><stop offset="0.9091" stop-color="#5a5a5a"/><stop offset="0.9545" stop-color="#585858"/><stop offset="1" stop-color="#585858"/></linearGradient><linearGradient id="eda" x1="0" x2="0" y1="0" y2="1"><stop offset="0" stop-color="#535353" stop-opacity="0"/><stop offset="0.55" stop-color="#535353" stop-opacity="0.15"/><stop offset="1" stop-color="#535353" stop-opacity="0.5"/></linearGradient><radialGradient id="g1"><stop offset="0" stop-color="#f9f9f9" stop-opacity="1"/><stop offset="0.411523" stop-color="#f2f2f2" stop-opacity="1"/><stop offset="0.781893" stop-color="#e5e5e5" stop-opacity="1"/><stop offset="0.90535" stop-color="#dcdcdc" stop-opacity="1"/><stop offset="0.946502" stop-color="#bababa" stop-opacity="1"/><stop offset="0.975309" stop-color="#999999" stop-opacity="0.9"/><stop offset="1" stop-color="#999999" stop-opacity="0"/></radialGradient><clipPath id="cpa"><rect x="0" y="0" width="188" height="191.1"/></clipPath></defs>
<g transform="translate(31.2 6.1)"><g clip-path="url(#cpa)"><g filter="url(#cm)">
<g filter="url(#bl)">
<rect x="-9.4" y="-5" width="206.8" height="5.6" fill="url(#g7)"/>
<rect x="-9.4" y="0" width="206.8" height="5.6" fill="url(#g8)"/>
<rect x="-9.4" y="5" width="206.8" height="5.6" fill="url(#g9)"/>
<rect x="-9.4" y="10" width="206.8" height="5.6" fill="url(#g10)"/>
<rect x="-9.4" y="15" width="206.8" height="5.6" fill="url(#g11)"/>
<rect x="-9.4" y="20" width="206.8" height="5.6" fill="url(#g12)"/>
<rect x="-9.4" y="25" width="206.8" height="5.6" fill="url(#g13)"/>
<rect x="-9.4" y="30" width="206.8" height="5.6" fill="url(#g14)"/>
<rect x="-9.4" y="35" width="206.8" height="5.6" fill="url(#g15)"/>
<rect x="-9.4" y="40" width="206.8" height="5.6" fill="url(#g16)"/>
<rect x="-9.4" y="45" width="206.8" height="5.6" fill="url(#g17)"/>
<rect x="-9.4" y="50" width="206.8" height="5.6" fill="url(#g18)"/>
<rect x="-9.4" y="55" width="206.8" height="5.6" fill="url(#g19)"/>
<rect x="-9.4" y="60" width="206.8" height="5.6" fill="url(#g20)"/>
<rect x="-9.4" y="65" width="206.8" height="5.6" fill="url(#g21)"/>
<rect x="-9.4" y="70" width="206.8" height="5.6" fill="url(#g22)"/>
<rect x="-9.4" y="75" width="206.8" height="5.6" fill="url(#g23)"/>
<rect x="-9.4" y="80" width="206.8" height="5.6" fill="url(#g24)"/>
<rect x="-9.4" y="85" width="206.8" height="5.6" fill="url(#g25)"/>
<rect x="-9.4" y="90" width="206.8" height="5.6" fill="url(#g26)"/>
<rect x="-9.4" y="95" width="206.8" height="5.6" fill="url(#g27)"/>
<rect x="-9.4" y="100" width="206.8" height="5.6" fill="url(#g28)"/>
<rect x="-9.4" y="105" width="206.8" height="5.6" fill="url(#g29)"/>
<rect x="-9.4" y="110" width="206.8" height="5.6" fill="url(#g30)"/>
<rect x="-9.4" y="115" width="206.8" height="5.6" fill="url(#g31)"/>
<rect x="-9.4" y="120" width="206.8" height="5.6" fill="url(#g32)"/>
<rect x="-9.4" y="125" width="206.8" height="5.6" fill="url(#g33)"/>
<rect x="-9.4" y="130" width="206.8" height="5.6" fill="url(#g34)"/>
<rect x="-9.4" y="135" width="206.8" height="5.6" fill="url(#g35)"/>
<rect x="-9.4" y="140" width="206.8" height="5.6" fill="url(#g36)"/>
<rect x="-9.4" y="145" width="206.8" height="5.6" fill="url(#g37)"/>
<rect x="-9.4" y="150" width="206.8" height="5.6" fill="url(#g38)"/>
<rect x="-9.4" y="155" width="206.8" height="5.6" fill="url(#g39)"/>
<rect x="-9.4" y="160" width="206.8" height="5.6" fill="url(#g40)"/>
<rect x="-9.4" y="165" width="206.8" height="5.6" fill="url(#g41)"/>
<rect x="-9.4" y="170" width="206.8" height="5.6" fill="url(#g42)"/>
<rect x="-9.4" y="175" width="206.8" height="5.6" fill="url(#g43)"/>
<rect x="-9.4" y="180" width="206.8" height="5.6" fill="url(#g44)"/>
<rect x="-9.4" y="185" width="206.8" height="5.6" fill="url(#g45)"/>
<rect x="-9.4" y="190" width="206.8" height="5.6" fill="url(#g46)"/>
<rect x="-9.4" y="195" width="206.8" height="5.6" fill="url(#g47)"/>
<rect x="-9.4" y="200" width="206.8" height="5.6" fill="url(#g48)"/>
</g>
<rect x="-5" y="182.6" width="198" height="9" fill="url(#eda)"/>
<ellipse cx="93.6" cy="95.15" rx="24.3" ry="24.6" fill="url(#g1)"/>
</g></g>
<ellipse cx="93.6" cy="95.15" rx="23.5" ry="23.8" fill="none" stroke="#141414" stroke-width="1.15" stroke-dasharray="3.6 2.34"/>
</g>
<g stroke="#151515" stroke-width="1.05" fill="none">
<path stroke-width="0.6" d="M31.2 6.1V197.2H219.2"/>
<path d="M31.2 6.1h-3.6M31.2 197.2v3.2M31.2 29.987h-1.9M54.7 197.2v1.7M31.2 53.875h-3.6M78.2 197.2v3.2M31.2 77.762h-1.9M101.7 197.2v1.7M31.2 101.65h-3.6M125.2 197.2v3.2M31.2 125.54h-1.9M148.7 197.2v1.7M31.2 149.42h-3.6M172.2 197.2v3.2M31.2 173.31h-1.9M195.7 197.2v1.7M31.2 197.2h-3.6M219.2 197.2v3.2"/>
</g>
<g class="tk">
<text x="24.9" y="8.5" text-anchor="end">20</text>
<text x="24.9" y="56.275" text-anchor="end">10</text>
<text x="24.9" y="104.05" text-anchor="end">0</text>
<text x="24.9" y="151.82" text-anchor="end">-10</text>
<text x="24.9" y="199.6" text-anchor="end">-20</text>
<text x="31.2" y="209.2" text-anchor="middle">-20</text>
<text x="78.2" y="209.2" text-anchor="middle">-10</text>
<text x="125.2" y="209.2" text-anchor="middle">0</text>
<text x="172.2" y="209.2" text-anchor="middle">10</text>
<text x="219.2" y="209.2" text-anchor="middle">20</text>
</g>
<text class="ax" x="125.2" y="223.75" text-anchor="middle">X (mm)</text>
<text class="ax" x="10.2" y="101.65" text-anchor="middle" transform="rotate(-90 10.2 101.65)">Y (mm)</text>
<text class="an" x="170.3" y="22.5">A= 10 mm</text>
<text class="an" x="170.3" y="34.1">T= 2 mm</text>
<text class="cap" x="119.8" y="257.5" text-anchor="middle">(<tspan font-weight="bold">a</tspan>)</text>
<defs><linearGradient id="g49" gradientUnits="userSpaceOnUse" x1="-9.4" x2="197.4" y1="0" y2="0"><stop offset="0" stop-color="#333333"/><stop offset="0.04545" stop-color="#333333"/><stop offset="0.09091" stop-color="#373737"/><stop offset="0.1364" stop-color="#3a3a3a"/><stop offset="0.1818" stop-color="#3c3c3c"/><stop offset="0.2273" stop-color="#3e3e3e"/><stop offset="0.2727" stop-color="#404040"/><stop offset="0.3182" stop-color="#434343"/><stop offset="0.3636" stop-color="#454545"/><stop offset="0.4091" stop-color="#474747"/><stop offset="0.4545" stop-color="#484848"/><stop offset="0.5" stop-color="#494949"/><stop offset="0.5455" stop-color="#4b4b4b"/><stop offset="0.5909" stop-color="#4c4c4c"/><stop offset="0.6364" stop-color="#4d4d4d"/><stop offset="0.6818" stop-color="#4d4d4d"/><stop offset="0.7273" stop-color="#4c4c4c"/><stop offset="0.7727" stop-color="#4b4b4b"/><stop offset="0.8182" stop-color="#494949"/><stop offset="0.8636" stop-color="#454545"/><stop offset="0.9091" stop-color="#414141"/><stop offset="0.9545" stop-color="#3b3b3b"/><stop offset="1" stop-color="#3b3b3b"/></linearGradient><linearGradient id="g50" gradientUnits="userSpaceOnUse" x1="-9.4" x2="197.4" y1="0" y2="0"><stop offset="0" stop-color="#343434"/><stop offset="0.04545" stop-color="#343434"/><stop offset="0.09091" stop-color="#383838"/><stop offset="0.1364" stop-color="#3b3b3b"/><stop offset="0.1818" stop-color="#3e3e3e"/><stop offset="0.2273" stop-color="#404040"/><stop offset="0.2727" stop-color="#434343"/><stop offset="0.3182" stop-color="#454545"/><stop offset="0.3636" stop-color="#474747"/><stop offset="0.4091" stop-color="#494949"/><stop offset="0.4545" stop-color="#4b4b4b"/><stop offset="0.5" stop-color="#4c4c4c"/><stop offset="0.5455" stop-color="#4d4d4d"/><stop offset="0.5909" stop-color="#4e4e4e"/><stop offset="0.6364" stop-color="#4f4f4f"/><stop offset="0.6818" stop-color="#4f4f4f"/><stop offset="0.7273" stop-color="#4e4e4e"/><stop offset="0.7727" stop-color="#4d4d4d"/><stop offset="0.8182" stop-color="#4a4a4a"/><stop offset="0.8636" stop-color="#474747"/><stop offset="0.9091" stop-color="#424242"/><stop offset="0.9545" stop-color="#3c3c3c"/><stop offset="1" stop-color="#3c3c3c"/></linearGradient><linearGradient id="g51" gradientUnits="userSpaceOnUse" x1="-9.4" x2="197.4" y1="0" y2="0"><stop offset="0" stop-color="#353535"/><stop offset="0.04545" stop-color="#353535"/><stop offset="0.09091" stop-color="#3a3a3a"/><stop offset="0.1364" stop-color="#3d3d3d"/><stop offset="0.1818" stop-color="#414141"/><stop offset="0.2273" stop-color="#444444"/><stop offset="0.2727" stop-color="#474747"/><stop offset="0.3182" stop-color="#494949"/><stop offset="0.3636" stop-color="#4c4c4c"/><stop offset="0.4091" stop-color="#4e4e4e"/><stop offset="0.4545" stop-color="#505050"/><stop offset="0.5" stop-color="#515151"/><stop offset="0.5455" stop-color="#525252"/><stop offset="0.5909" stop-color="#535353"/><stop offset="0.6364" stop-color="#535353"/><stop offset="0.6818" stop-color="#535353"/><stop offset="0.7273" stop-color="#535353"/><stop offset="0.7727" stop-color="#515151"/><stop offset="0.8182" stop-color="#4e4e4e"/><stop offset="0.8636" stop-color="#4b4b4b"/><stop offset="0.9091" stop-color="#464646"/><stop offset="0.9545" stop-color="#404040"/><stop offset="1" stop-color="#404040"/></linearGradient><linearGradient id="g52" gradientUnits="userSpaceOnUse" x1="-9.4" x2="197.4" y1="0" y2="0"><stop offset="0" stop-color="#373737"/><stop offset="0.04545" stop-color="#373737"/><stop offset="0.09091" stop-color="#3c3c3c"/><stop offset="0.1364" stop-color="#404040"/><stop offset="0.1818" stop-color="#444444"/><stop offset="0.2273" stop-color="#474747"/><stop offset="0.2727" stop-color="#4b4b4b"/><stop offset="0.3182" stop-color="#4d4d4d"/><stop offset="0.3636" stop-color="#505050"/><stop offset="0.4091" stop-color="#525252"/><stop offset="0.4545" stop-color="#555555"/><stop offset="0.5" stop-color="#575757"/><stop offset="0.5455" stop-color="#585858"/><stop offset="0.5909" stop-color="#595959"/><stop offset="0.6364" stop-color="#5a5a5a"/><stop offset="0.6818" stop-color="#5a5a5a"/><stop offset="0.7273" stop-color="#595959"/><stop offset="0.7727" stop-color="#575757"/><stop offset="0.8182" stop-color="#545454"/><stop offset="0.8636" stop-color="#505050"/><stop offset="0.9091" stop-color="#4b4b4b"/><stop offset="0.9545" stop-color="#454545"/><stop offset="1" stop-color="#454545"/></linearGradient><linearGradient id="g53" gradientUnits="userSpaceOnUse" x1="-9.4" x2="197.4" y1="0" y2="0"><stop offset="0" stop-color="#3a3a3a"/><stop offset="0.04545" stop-color="#3a3a3a"/><stop offset="0.09091" stop-color="#3e3e3e"/><stop offset="0.1364" stop-color="#434343"/><stop offset="0.1818" stop-color="#474747"/><stop offset="0.2273" stop-color="#4b4b4b"/><stop offset="0.2727" stop-color="#4e4e4e"/><stop offset="0.3182" stop-color="#515151"/><stop offset="0.3636" stop-color="#545454"/><stop offset="0.4091" stop-color="#575757"/><stop offset="0.4545" stop-color="#5a5a5a"/><stop offset="0.5" stop-color="#5c5c5c"/><stop offset="0.5455" stop-color="#5e5e5e"/><stop offset="0.5909" stop-color="#606060"/><stop offset="0.6364" stop-color="#616161"/><stop offset="0.6818" stop-color="#616161"/><stop offset="0.7273" stop-color="#606060"/><stop offset="0.7727" stop-color="#5e5e5e"/><stop offset="0.8182" stop-color="#5b5b5b"/><stop offset="0.8636" stop-color="#565656"/><stop offset="0.9091" stop-color="#515151"/><stop offset="0.9545" stop-color="#4a4a4a"/><stop offset="1" stop-color="#4a4a4a"/></linearGradient><linearGradient id="g54" gradientUnits="userSpaceOnUse" x1="-9.4" x2="197.4" y1="0" y2="0"><stop offset="0" stop-color="#3c3c3c"/><stop offset="0.04545" stop-color="#3c3c3c"/><stop offset="0.09091" stop-color="#414141"/><stop offset="0.1364" stop-color="#454545"/><stop offset="0.1818" stop-color="#494949"/><stop offset="0.2273" stop-color="#4d4d4d"/><stop offset="0.2727" stop-color="#515151"/><stop offset="0.3182" stop-color="#555555"/><stop offset="0.3636" stop-color="#585858"/><stop offset="0.4091" stop-color="#5b5b5b"/><stop offset="0.4545" stop-color="#5e5e5e"/><stop offset="0.5" stop-color="#616161"/><stop offset="0.5455" stop-color="#646464"/><stop offset="0.5909" stop-color="#676767"/><stop offset="0.6364" stop-color="#696969"/><stop offset="0.6818" stop-color="#696969"/><stop offset="0.7273" stop-color="#686868"/><stop offset="0.7727" stop-color="#666666"/><stop offset="0.8182" stop-color="#626262"/><stop offset="0.8636" stop-color="#5d5d5d"/><stop offset="0.9091" stop-color="#575757"/><stop offset="0.9545" stop-color="#4f4f4f"/><stop offset="1" stop-color="#4f4f4f"/></linearGradient><linearGradient id="g55" gradientUnits="userSpaceOnUse" x1="-9.4" x2="197.4" y1="0" y2="0"><stop offset="0" stop-color="#3f3f3f"/><stop offset="0.04545" stop-color="#3f3f3f"/><stop offset="0.09091" stop-color="#434343"/><stop offset="0.1364" stop-color="#484848"/><stop offset="0.1818" stop-color="#4c4c4c"/><stop offset="0.2273" stop-color="#505050"/><stop offset="0.2727" stop-color="#545454"/><stop offset="0.3182" stop-color="#585858"/><stop offset="0.3636" stop-color="#5c5c5c"/><stop offset="0.4091" stop-color="#5f5f5f"/><stop offset="0.4545" stop-color="#636363"/><stop offset="0.5" stop-color="#666666"/><stop offset="0.5455" stop-color="#6b6b6b"/><stop offset="0.5909" stop-color="#6f6f6f"/><stop offset="0.6364" stop-color="#727272"/><stop offset="0.6818" stop-color="#727272"/><stop offset="0.7273" stop-color="#717171"/><stop offset="0.7727" stop-color="#6e6e6e"/><stop offset="0.8182" stop-color="#696969"/><stop offset="0.8636" stop-color="#646464"/><stop offset="0.9091" stop-color="#5d5d5d"/><stop offset="0.9545" stop-color="#555555"/><stop offset="1" stop-color="#555555"/></linearGradient><linearGradient id="g56" gradientUnits="userSpaceOnUse" x1="-9.4" x2="197.4" y1="0" y2="0"><stop offset="0" stop-color="#424242"/><stop offset="0.04545" stop-color="#424242"/><stop offset="0.09091" stop-color="#464646"/><stop offset="0.1364" stop-color="#4a4a4a"/><stop offset="0.1818" stop-color="#4e4e4e"/><stop offset="0.2273" stop-color="#535353"/><stop offset="0.2727" stop-color="#575757"/><stop offset="0.3182" stop-color="#5b5b5b"/><stop offset="0.3636" stop-color="#606060"/><stop offset="0.4091" stop-color="#636363"/><stop offset="0.4545" stop-color="#676767"/><stop offset="0.5" stop-color="#6c6c6c"/><stop offset="0.5455" stop-color="#717171"/><stop offset="0.5909" stop-color="#777777"/><stop offset="0.6364" stop-color="#7a7a7a"/><stop offset="0.6818" stop-color="#7b7b7b"/><stop offset="0.7273" stop-color="#797979"/><stop offset="0.7727" stop-color="#767676"/><stop offset="0.8182" stop-color="#717171"/><stop offset="0.8636" stop-color="#6b6b6b"/><stop offset="0.9091" stop-color="#636363"/><stop offset="0.9545" stop-color="#5a5a5a"/><stop offset="1" stop-color="#5a5a5a"/></linearGradient><linearGradient id="g57" gradientUnits="userSpaceOnUse" x1="-9.4" x2="197.4" y1="0" y2="0"><stop offset="0" stop-color="#444444"/><stop offset="0.04545" stop-color="#444444"/><stop offset="0.09091" stop-color="#494949"/><stop offset="0.1364" stop-color="#4d4d4d"/><stop offset="0.1818" stop-color="#515151"/><stop offset="0.2273" stop-color="#555555"/><stop offset="0.2727" stop-color="#595959"/><stop offset="0.3182" stop-color="#5e5e5e"/><stop offset="0.3636" stop-color="#636363"/><stop offset="0.4091" stop-color="#676767"/><stop offset="0.4545" stop-color="#6c6c6c"/><stop offset="0.5" stop-color="#717171"/><stop offset="0.5455" stop-color="#787878"/><stop offset="0.5909" stop-color="#7f7f7f"/><stop offset="0.6364" stop-color="#838383"/><stop offset="0.6818" stop-color="#848484"/><stop offset="0.7273" stop-color="#818181"/><stop offset="0.7727" stop-color="#7d7d7d"/><stop offset="0.8182" stop-color="#777777"/><stop offset="0.8636" stop-color="#717171"/><stop offset="0.9091" stop-color="#696969"/><stop offset="0.9545" stop-color="#5f5f5f"/><stop offset="1" stop-color="#5f5f5f"/></linearGradient><linearGradient id="g58" gradientUnits="userSpaceOnUse" x1="-9.4" x2="197.4" y1="0" y2="0"><stop offset="0" stop-color="#474747"/><stop offset="0.04545" stop-color="#474747"/><stop offset="0.09091" stop-color="#4b4b4b"/><stop offset="0.1364" stop-color="#4f4f4f"/><stop offset="0.1818" stop-color="#535353"/><stop offset="0.2273" stop-color="#575757"/><stop offset="0.2727" stop-color="#5c5c5c"/><stop offset="0.3182" stop-color="#616161"/><stop offset="0.3636" stop-color="#666666"/><stop offset="0.4091" stop-color="#6b6b6b"/><stop offset="0.4545" stop-color="#707070"/><stop offset="0.5" stop-color="#777777"/><stop offset="0.5455" stop-color="#7f7f7f"/><stop offset="0.5909" stop-color="#868686"/><stop offset="0.6364" stop-color="#8b8b8b"/><stop offset="0.6818" stop-color="#8b8b8b"/><stop offset="0.7273" stop-color="#888888"/><stop offset="0.7727" stop-color="#838383"/><stop offset="0.8182" stop-color="#7d7d7d"/><stop offset="0.8636" stop-color="#767676"/><stop offset="0.9091" stop-color="#6d6d6d"/><stop offset="0.9545" stop-color="#636363"/><stop offset="1" stop-color="#636363"/></linearGradient><linearGradient id="g59" gradientUnits="userSpaceOnUse" x1="-9.4" x2="197.4" y1="0" y2="0"><stop offset="0" stop-color="#494949"/><stop offset="0.04545" stop-color="#494949"/><stop offset="0.09091" stop-color="#4d4d4d"/><stop offset="0.1364" stop-color="#515151"/><stop offset="0.1818" stop-color="#555555"/><stop offset="0.2273" stop-color="#595959"/><stop offset="0.2727" stop-color="#5e5e5e"/><stop offset="0.3182" stop-color="#636363"/><stop offset="0.3636" stop-color="#696969"/><stop offset="0.4091" stop-color="#6e6e6e"/><stop offset="0.4545" stop-color="#747474"/><stop offset="0.5" stop-color="#7c7c7c"/><stop offset="0.5455" stop-color="#858585"/><stop offset="0.5909" stop-color="#8d8d8d"/><stop offset="0.6364" stop-color="#929292"/><stop offset="0.6818" stop-color="#919191"/><stop offset="0.7273" stop-color="#8e8e8e"/><stop offset="0.7727" stop-color="#888888"/><stop offset="0.8182" stop-color="#818181"/><stop offset="0.8636" stop-color="#797979"/><stop offset="0.9091" stop-color="#707070"/><stop offset="0.9545" stop-color="#666666"/><stop offset="1" stop-color="#666666"/></linearGradient><linearGradient id="g60" gradientUnits="userSpaceOnUse" x1="-9.4" x2="197.4" y1="0" y2="0"><stop offset="0" stop-color="#4b4b4b"/><stop offset="0.04545" stop-color="#4b4b4b"/><stop offset="0.09091" stop-color="#4f4f4f"/><stop offset="0.1364" stop-color="#535353"/><stop offset="0.1818" stop-color="#575757"/><stop offset="0.2273" stop-color="#5c5c5c"/><stop offset="0.2727" stop-color="#606060"/><stop offset="0.3182" stop-color="#656565"/><stop offset="0.3636" stop-color="#6b6b6b"/><stop offset="0.4091" stop-color="#717171"/><stop offset="0.4545" stop-color="#797979"/><stop offset="0.5" stop-color="#818181"/><stop offset="0.5455" stop-color="#8a8a8a"/><stop offset="0.5909" stop-color="#929292"/><stop offset="0.6364" stop-color="#969696"/><stop offset="0.6818" stop-color="#969696"/><stop offset="0.7273" stop-color="#919191"/><stop offset="0.7727" stop-color="#8a8a8a"/><stop offset="0.8182" stop-color="#838383"/><stop offset="0.8636" stop-color="#7b7b7b"/><stop offset="0.9091" stop-color="#727272"/><stop offset="0.9545" stop-color="#676767"/><stop offset="1" stop-color="#676767"/></linearGradient><linearGradient id="g61" gradientUnits="userSpaceOnUse" x1="-9.4" x2="197.4" y1="0" y2="0"><stop offset="0" stop-color="#4d4d4d"/><stop offset="0.04545" stop-color="#4d4d4d"/><stop offset="0.09091" stop-color="#515151"/><stop offset="0.1364" stop-color="#555555"/><stop offset="0.1818" stop-color="#595959"/><stop offset="0.2273" stop-color="#5e5e5e"/><stop offset="0.2727" stop-color="#626262"/><stop offset="0.3182" stop-color="#686868"/><stop offset="0.3636" stop-color="#6d6d6d"/><stop offset="0.4091" stop-color="#747474"/><stop offset="0.4545" stop-color="#7d7d7d"/><stop offset="0.5" stop-color="#878787"/><stop offset="0.5455" stop-color="#909090"/><stop offset="0.5909" stop-color="#979797"/><stop offset="0.6364" stop-color="#9a9a9a"/><stop offset="0.6818" stop-color="#989898"/><stop offset="0.7273" stop-color="#929292"/><stop offset="0.7727" stop-color="#8b8b8b"/><stop offset="0.8182" stop-color="#838383"/><stop offset="0.8636" stop-color="#7b7b7b"/><stop offset="0.9091" stop-color="#737373"/><stop offset="0.9545" stop-color="#686868"/><stop offset="1" stop-color="#686868"/></linearGradient><linearGradient id="g62" gradientUnits="userSpaceOnUse" x1="-9.4" x2="197.4" y1="0" y2="0"><stop offset="0" stop-color="#4e4e4e"/><stop offset="0.04545" stop-color="#4e4e4e"/><stop offset="0.09091" stop-color="#525252"/><stop offset="0.1364" stop-color="#565656"/><stop offset="0.1818" stop-color="#5b5b5b"/><stop offset="0.2273" stop-color="#606060"/><stop offset="0.2727" stop-color="#646464"/><stop offset="0.3182" stop-color="#696969"/><stop offset="0.3636" stop-color="#707070"/><stop offset="0.4091" stop-color="#787878"/><stop offset="0.4545" stop-color="#828282"/><stop offset="0.5" stop-color="#8d8d8d"/><stop offset="0.5455" stop-color="#959595"/><stop offset="0.5909" stop-color="#9a9a9a"/><stop offset="0.6364" stop-color="#9b9b9b"/><stop offset="0.6818" stop-color="#989898"/><stop offset="0.7273" stop-color="#929292"/><stop offset="0.7727" stop-color="#8a8a8a"/><stop offset="0.8182" stop-color="#838383"/><stop offset="0.8636" stop-color="#7b7b7b"/><stop offset="0.9091" stop-color="#727272"/><stop offset="0.9545" stop-color="#686868"/><stop offset="1" stop-color="#686868"/></linearGradient><linearGradient id="g63" gradientUnits="userSpaceOnUse" x1="-9.4" x2="197.4" y1="0" y2="0"><stop offset="0" stop-color="#4f4f4f"/><stop offset="0.04545" stop-color="#4f4f4f"/><stop offset="0.09091" stop-color="#535353"/><stop offset="0.1364" stop-color="#585858"/><stop offset="0.1818" stop-color="#5c5c5c"/><stop offset="0.2273" stop-color="#616161"/><stop offset="0.2727" stop-color="#666666"/><stop offset="0.3182" stop-color="#6b6b6b"/><stop offset="0.3636" stop-color="#727272"/><stop offset="0.4091" stop-color="#7c7c7c"/><stop offset="0.4545" stop-color="#8b8b8b"/><stop offset="0.5" stop-color="#999999"/><stop offset="0.5455" stop-color="#9d9d9d"/><stop offset="0.5909" stop-color="#9d9d9d"/><stop offset="0.6364" stop-color="#9c9c9c"/><stop offset="0.6818" stop-color="#989898"/><stop offset="0.7273" stop-color="#919191"/><stop offset="0.7727" stop-color="#898989"/><stop offset="0.8182" stop-color="#818181"/><stop offset="0.8636" stop-color="#797979"/><stop offset="0.9091" stop-color="#717171"/><stop offset="0.9545" stop-color="#676767"/><stop offset="1" stop-color="#676767"/></linearGradient><linearGradient id="g64" gradientUnits="userSpaceOnUse" x1="-9.4" x2="197.4" y1="0" y2="0"><stop offset="0" stop-color="#505050"/><stop offset="0.04545" stop-color="#505050"/><stop offset="0.09091" stop-color="#545454"/><stop offset="0.1364" stop-color="#595959"/><stop offset="0.1818" stop-color="#5d5d5d"/><stop offset="0.2273" stop-color="#626262"/><stop offset="0.2727" stop-color="#676767"/><stop offset="0.3182" stop-color="#6d6d6d"/><stop offset="0.3636" stop-color="#757575"/><stop offset="0.4091" stop-color="#848484"/><stop offset="0.4545" stop-color="#a4a4a4"/><stop offset="0.5" stop-color="#c2c2c2"/><stop offset="0.5455" stop-color="#b3b3b3"/><stop offset="0.5909" stop-color="#a2a2a2"/><stop offset="0.6364" stop-color="#9c9c9c"/><stop offset="0.6818" stop-color="#969696"/><stop offset="0.7273" stop-color="#8f8f8f"/><stop offset="0.7727" stop-color="#868686"/><stop offset="0.8182" stop-color="#7e7e7e"/><stop offset="0.8636" stop-color="#777777"/><stop offset="0.9091" stop-color="#6f6f6f"/><stop offset="0.9545" stop-color="#666666"/><stop offset="1" stop-color="#666666"/></linearGradient><linearGradient id="g65" gradientUnits="userSpaceOnUse" x1="-9.4" x2="197.4" y1="0" y2="0"><stop offset="0" stop-color="#515151"/><stop offset="0.04545" stop-color="#515151"/><stop offset="0.09091" stop-color="#555555"/><stop offset="0.1364" stop-color="#5a5a5a"/><stop offset="0.1818" stop-color="#5e5e5e"/><stop offset="0.2273" stop-color="#636363"/><stop offset="0.2727" stop-color="#686868"/><stop offset="0.3182" stop-color="#6e6e6e"/><stop offset="0.3636" stop-color="#787878"/><stop offset="0.4091" stop-color="#949494"/><stop offset="0.4545" stop-color="#f9f9f9"/><stop offset="0.5" stop-color="#ffffff"/><stop offset="0.5455" stop-color="#ffffff"/><stop offset="0.5909" stop-color="#adadad"/><stop offset="0.6364" stop-color="#9c9c9c"/><stop offset="0.6818" stop-color="#959595"/><stop offset="0.7273" stop-color="#8d8d8d"/><stop offset="0.7727" stop-color="#848484"/><stop offset="0.8182" stop-color="#7c7c7c"/><stop offset="0.8636" stop-color="#757575"/><stop offset="0.9091" stop-color="#6d6d6d"/><stop offset="0.9545" stop-color="#656565"/><stop offset="1" stop-color="#656565"/></linearGradient><linearGradient id="g66" gradientUnits="userSpaceOnUse" x1="-9.4" x2="197.4" y1="0" y2="0"><stop offset="0" stop-color="#515151"/><stop offset="0.04545" stop-color="#515151"/><stop offset="0.09091" stop-color="#565656"/><stop offset="0.1364" stop-color="#5a5a5a"/><stop offset="0.1818" stop-color="#5f5f5f"/><stop offset="0.2273" stop-color="#636363"/><stop offset="0.2727" stop-color="#696969"/><stop offset="0.3182" stop-color="#707070"/><stop offset="0.3636" stop-color="#7d7d7d"/><stop offset="0.4091" stop-color="#b7b7b7"/><stop offset="0.4545" stop-color="#fafafa"/><stop offset="0.5" stop-color="#ffffff"/><stop offset="0.5455" stop-color="#ffffff"/><stop offset="0.5909" stop-color="#c7c7c7"/><stop offset="0.6364" stop-color="#9d9d9d"/><stop offset="0.6818" stop-color="#939393"/><stop offset="0.7273" stop-color="#8b8b8b"/><stop offset="0.7727" stop-color="#828282"/><stop offset="0.8182" stop-color="#7a7a7a"/><stop offset="0.8636" stop-color="#727272"/><stop offset="0.9091" stop-color="#6b6b6b"/><stop offset="0.9545" stop-color="#646464"/><stop offset="1" stop-color="#646464"/></linearGradient><linearGradient id="g67" gradientUnits="userSpaceOnUse" x1="-9.4" x2="197.4" y1="0" y2="0"><stop offset="0" stop-color="#525252"/><stop offset="0.04545" stop-color="#525252"/><stop offset="0.09091" stop-color="#575757"/><stop offset="0.1364" stop-color="#5b5b5b"/><stop offset="0.1818" stop-color="#5f5f5f"/><stop offset="0.2273" stop-color="#636363"/><stop offset="0.2727" stop-color="#696969"/><stop offset="0.3182" stop-color="#717171"/><stop offset="0.3636" stop-color="#828282"/><stop offset="0.4091" stop-color="#f4f4f4"/><stop offset="0.4545" stop-color="#fafafa"/><stop offset="0.5" stop-color="#ffffff"/><stop offset="0.5455" stop-color="#ffffff"/><stop offset="0.5909" stop-color="#f5f5f5"/><stop offset="0.6364" stop-color="#9d9d9d"/><stop offset="0.6818" stop-color="#919191"/><stop offset="0.7273" stop-color="#888888"/><stop offset="0.7727" stop-color="#808080"/><stop offset="0.8182" stop-color="#777777"/><stop offset="0.8636" stop-color="#707070"/><stop offset="0.9091" stop-color="#696969"/><stop offset="0.9545" stop-color="#636363"/><stop offset="1" stop-color="#636363"/></linearGradient><linearGradient id="g68" gradientUnits="userSpaceOnUse" x1="-9.4" x2="197.4" y1="0" y2="0"><stop offset="0" stop-color="#525252"/><stop offset="0.04545" stop-color="#525252"/><stop offset="0.09091" stop-color="#575757"/><stop offset="0.1364" stop-color="#5b5b5b"/><stop offset="0.1818" stop-color="#5f5f5f"/><stop offset="0.2273" stop-color="#636363"/><stop offset="0.2727" stop-color="#696969"/><stop offset="0.3182" stop-color="#727272"/><stop offset="0.3636" stop-color="#868686"/><stop offset="0.4091" stop-color="#f5f5f5"/><stop offset="0.4545" stop-color="#fafafa"/><stop offset="0.5" stop-color="#ffffff"/><stop offset="0.5455" stop-color="#ffffff"/><stop offset="0.5909" stop-color="#ffffff"/><stop offset="0.6364" stop-color="#9d9d9d"/><stop offset="0.6818" stop-color="#8f8f8f"/><stop offset="0.7273" stop-color="#868686"/><stop offset="0.7727" stop-color="#7d7d7d"/><stop offset="0.8182" stop-color="#757575"/><stop offset="0.8636" stop-color="#6e6e6e"/><stop offset="0.9091" stop-color="#686868"/><stop offset="0.9545" stop-color="#626262"/><stop offset="1" stop-color="#626262"/></linearGradient><linearGradient id="g69" gradientUnits="userSpaceOnUse" x1="-9.4" x2="197.4" y1="0" y2="0"><stop offset="0" stop-color="#525252"/><stop offset="0.04545" stop-color="#525252"/><stop offset="0.09091" stop-color="#585858"/><stop offset="0.1364" stop-color="#5b5b5b"/><stop offset="0.1818" stop-color="#5f5f5f"/><stop offset="0.2273" stop-color="#636363"/><stop offset="0.2727" stop-color="#696969"/><stop offset="0.3182" stop-color="#737373"/><stop offset="0.3636" stop-color="#878787"/><stop offset="0.4091" stop-color="#f5f5f5"/><stop offset="0.4545" stop-color="#f8f8f8"/><stop offset="0.5" stop-color="#dfdfdf"/><stop offset="0.5455" stop-color="#ffffff"/><stop offset="0.5909" stop-color="#ffffff"/><stop offset="0.6364" stop-color="#9b9b9b"/><stop offset="0.6818" stop-color="#8c8c8c"/><stop offset="0.7273" stop-color="#838383"/><stop offset="0.7727" stop-color="#7a7a7a"/><stop offset="0.8182" stop-color="#737373"/><stop offset="0.8636" stop-color="#6c6c6c"/><stop offset="0.9091" stop-color="#666666"/><stop offset="0.9545" stop-color="#616161"/><stop offset="1" stop-color="#616161"/></linearGradient><linearGradient id="g70" gradientUnits="userSpaceOnUse" x1="-9.4" x2="197.4" y1="0" y2="0"><stop offset="0" stop-color="#525252"/><stop offset="0.04545" stop-color="#525252"/><stop offset="0.09091" stop-color="#585858"/><stop offset="0.1364" stop-color="#5b5b5b"/><stop offset="0.1818" stop-color="#5f5f5f"/><stop offset="0.2273" stop-color="#636363"/><stop offset="0.2727" stop-color="#6a6a6a"/><stop offset="0.3182" stop-color="#747474"/><stop offset="0.3636" stop-color="#858585"/><stop offset="0.4091" stop-color="#f3f3f3"/><stop offset="0.4545" stop-color="#ededed"/><stop offset="0.5" stop-color="#dcdcdc"/><stop offset="0.5455" stop-color="#f6f6f6"/><stop offset="0.5909" stop-color="#efefef"/><stop offset="0.6364" stop-color="#969696"/><stop offset="0.6818" stop-color="#898989"/><stop offset="0.7273" stop-color="#7f7f7f"/><stop offset="0.7727" stop-color="#777777"/><stop offset="0.8182" stop-color="#707070"/><stop offset="0.8636" stop-color="#6a6a6a"/><stop offset="0.9091" stop-color="#656565"/><stop offset="0.9545" stop-color="#606060"/><stop offset="1" stop-color="#606060"/></linearGradient><linearGradient id="g71" gradientUnits="userSpaceOnUse" x1="-9.4" x2="197.4" y1="0" y2="0"><stop offset="0" stop-color="#525252"/><stop offset="0.04545" stop-color="#525252"/><stop offset="0.09091" stop-color="#585858"/><stop offset="0.1364" stop-color="#5b5b5b"/><stop offset="0.1818" stop-color="#5e5e5e"/><stop offset="0.2273" stop-color="#636363"/><stop offset="0.2727" stop-color="#696969"/><stop offset="0.3182" stop-color="#737373"/><stop offset="0.3636" stop-color="#808080"/><stop offset="0.4091" stop-color="#b6b6b6"/><stop offset="0.4545" stop-color="#e4e4e4"/><stop offset="0.5" stop-color="#dbdbdb"/><stop offset="0.5455" stop-color="#ececec"/><stop offset="0.5909" stop-color="#b8b8b8"/><stop offset="0.6364" stop-color="#8f8f8f"/><stop offset="0.6818" stop-color="#848484"/><stop offset="0.7273" stop-color="#7b7b7b"/><stop offset="0.7727" stop-color="#737373"/><stop offset="0.8182" stop-color="#6d6d6d"/><stop offset="0.8636" stop-color="#686868"/><stop offset="0.9091" stop-color="#646464"/><stop offset="0.9545" stop-color="#5f5f5f"/><stop offset="1" stop-color="#5f5f5f"/></linearGradient><linearGradient id="g72" gradientUnits="userSpaceOnUse" x1="-9.4" x2="197.4" y1="0" y2="0"><stop offset="0" stop-color="#525252"/><stop offset="0.04545" stop-color="#525252"/><stop offset="0.09091" stop-color="#575757"/><stop offset="0.1364" stop-color="#5b5b5b"/><stop offset="0.1818" stop-color="#5e5e5e"/><stop offset="0.2273" stop-color="#626262"/><stop offset="0.2727" stop-color="#686868"/><stop offset="0.3182" stop-color="#717171"/><stop offset="0.3636" stop-color="#7b7b7b"/><stop offset="0.4091" stop-color="#8e8e8e"/><stop offset="0.4545" stop-color="#dfdfdf"/><stop offset="0.5" stop-color="#d9d9d9"/><stop offset="0.5455" stop-color="#e6e6e6"/><stop offset="0.5909" stop-color="#969696"/><stop offset="0.6364" stop-color="#888888"/><stop offset="0.6818" stop-color="#7f7f7f"/><stop offset="0.7273" stop-color="#767676"/><stop offset="0.7727" stop-color="#6f6f6f"/><stop offset="0.8182" stop-color="#6a6a6a"/><stop offset="0.8636" stop-color="#666666"/><stop offset="0.9091" stop-color="#626262"/><stop offset="0.9545" stop-color="#5d5d5d"/><stop offset="1" stop-color="#5d5d5d"/></linearGradient><linearGradient id="g73" gradientUnits="userSpaceOnUse" x1="-9.4" x2="197.4" y1="0" y2="0"><stop offset="0" stop-color="#515151"/><stop offset="0.04545" stop-color="#515151"/><stop offset="0.09091" stop-color="#565656"/><stop offset="0.1364" stop-color="#5a5a5a"/><stop offset="0.1818" stop-color="#5d5d5d"/><stop offset="0.2273" stop-color="#616161"/><stop offset="0.2727" stop-color="#676767"/><stop offset="0.3182" stop-color="#6f6f6f"/><stop offset="0.3636" stop-color="#767676"/><stop offset="0.4091" stop-color="#7b7b7b"/><stop offset="0.4545" stop-color="#8b8b8b"/><stop offset="0.5" stop-color="#9d9d9d"/><stop offset="0.5455" stop-color="#8e8e8e"/><stop offset="0.5909" stop-color="#838383"/><stop offset="0.6364" stop-color="#808080"/><stop offset="0.6818" stop-color="#797979"/><stop offset="0.7273" stop-color="#707070"/><stop offset="0.7727" stop-color="#6a6a6a"/><stop offset="0.8182" stop-color="#666666"/><stop offset="0.8636" stop-color="#636363"/><stop offset="0.9091" stop-color="#5f5f5f"/><stop offset="0.9545" stop-color="#5a5a5a"/><stop offset="1" stop-color="#5a5a5a"/></linearGradient><linearGradient id="g74" gradientUnits="userSpaceOnUse" x1="-9.4" x2="197.4" y1="0" y2="0"><stop offset="0" stop-color="#515151"/><stop offset="0.04545" stop-color="#515151"/><stop offset="0.09091" stop-color="#555555"/><stop offset="0.1364" stop-color="#595959"/><stop offset="0.1818" stop-color="#5c5c5c"/><stop offset="0.2273" stop-color="#5f5f5f"/><stop offset="0.2727" stop-color="#656565"/><stop offset="0.3182" stop-color="#6b6b6b"/><stop offset="0.3636" stop-color="#707070"/><stop offset="0.4091" stop-color="#717171"/><stop offset="0.4545" stop-color="#717171"/><stop offset="0.5" stop-color="#727272"/><stop offset="0.5455" stop-color="#757575"/><stop offset="0.5909" stop-color="#787878"/><stop offset="0.6364" stop-color="#787878"/><stop offset="0.6818" stop-color="#727272"/><stop offset="0.7273" stop-color="#6a6a6a"/><stop offset="0.7727" stop-color="#656565"/><stop offset="0.8182" stop-color="#616161"/><stop offset="0.8636" stop-color="#5f5f5f"/><stop offset="0.9091" stop-color="#5c5c5c"/><stop offset="0.9545" stop-color="#565656"/><stop offset="1" stop-color="#565656"/></linearGradient><linearGradient id="g75" gradientUnits="userSpaceOnUse" x1="-9.4" x2="197.4" y1="0" y2="0"><stop offset="0" stop-color="#505050"/><stop offset="0.04545" stop-color="#505050"/><stop offset="0.09091" stop-color="#545454"/><stop offset="0.1364" stop-color="#575757"/><stop offset="0.1818" stop-color="#5a5a5a"/><stop offset="0.2273" stop-color="#5d5d5d"/><stop offset="0.2727" stop-color="#626262"/><stop offset="0.3182" stop-color="#676767"/><stop offset="0.3636" stop-color="#6a6a6a"/><stop offset="0.4091" stop-color="#6a6a6a"/><stop offset="0.4545" stop-color="#686868"/><stop offset="0.5" stop-color="#676767"/><stop offset="0.5455" stop-color="#6a6a6a"/><stop offset="0.5909" stop-color="#6f6f6f"/><stop offset="0.6364" stop-color="#6f6f6f"/><stop offset="0.6818" stop-color="#6a6a6a"/><stop offset="0.7273" stop-color="#646464"/><stop offset="0.7727" stop-color="#5f5f5f"/><stop offset="0.8182" stop-color="#5c5c5c"/><stop offset="0.8636" stop-color="#5a5a5a"/><stop offset="0.9091" stop-color="#575757"/><stop offset="0.9545" stop-color="#525252"/><stop offset="1" stop-color="#525252"/></linearGradient><linearGradient id="g76" gradientUnits="userSpaceOnUse" x1="-9.4" x2="197.4" y1="0" y2="0"><stop offset="0" stop-color="#4f4f4f"/><stop offset="0.04545" stop-color="#4f4f4f"/><stop offset="0.09091" stop-color="#525252"/><stop offset="0.1364" stop-color="#555555"/><stop offset="0.1818" stop-color="#585858"/><stop offset="0.2273" stop-color="#5b5b5b"/><stop offset="0.2727" stop-color="#5f5f5f"/><stop offset="0.3182" stop-color="#626262"/><stop offset="0.3636" stop-color="#646464"/><stop offset="0.4091" stop-color="#646464"/><stop offset="0.4545" stop-color="#626262"/><stop offset="0.5" stop-color="#616161"/><stop offset="0.5455" stop-color="#636363"/><stop offset="0.5909" stop-color="#666666"/><stop offset="0.6364" stop-color="#666666"/><stop offset="0.6818" stop-color="#626262"/><stop offset="0.7273" stop-color="#5d5d5d"/><stop offset="0.7727" stop-color="#595959"/><stop offset="0.8182" stop-color="#575757"/><stop offset="0.8636" stop-color="#545454"/><stop offset="0.9091" stop-color="#525252"/><stop offset="0.9545" stop-color="#4d4d4d"/><stop offset="1" stop-color="#4d4d4d"/></linearGradient><linearGradient id="g77" gradientUnits="userSpaceOnUse" x1="-9.4" x2="197.4" y1="0" y2="0"><stop offset="0" stop-color="#4f4f4f"/><stop offset="0.04545" stop-color="#4f4f4f"/><stop offset="0.09091" stop-color="#515151"/><stop offset="0.1364" stop-color="#545454"/><stop offset="0.1818" stop-color="#565656"/><stop offset="0.2273" stop-color="#595959"/><stop offset="0.2727" stop-color="#5c5c5c"/><stop offset="0.3182" stop-color="#5e5e5e"/><stop offset="0.3636" stop-color="#5f5f5f"/><stop offset="0.4091" stop-color="#5f5f5f"/><stop offset="0.4545" stop-color="#5d5d5d"/><stop offset="0.5" stop-color="#5d5d5d"/><stop offset="0.5455" stop-color="#5d5d5d"/><stop offset="0.5909" stop-color="#5e5e5e"/><stop offset="0.6364" stop-color="#5d5d5d"/><stop offset="0.6818" stop-color="#5b5b5b"/><stop offset="0.7273" stop-color="#585858"/><stop offset="0.7727" stop-color="#545454"/><stop offset="0.8182" stop-color="#525252"/><stop offset="0.8636" stop-color="#4f4f4f"/><stop offset="0.9091" stop-color="#4c4c4c"/><stop offset="0.9545" stop-color="#494949"/><stop offset="1" stop-color="#494949"/></linearGradient><linearGradient id="g78" gradientUnits="userSpaceOnUse" x1="-9.4" x2="197.4" y1="0" y2="0"><stop offset="0" stop-color="#4e4e4e"/><stop offset="0.04545" stop-color="#4e4e4e"/><stop offset="0.09091" stop-color="#505050"/><stop offset="0.1364" stop-color="#525252"/><stop offset="0.1818" stop-color="#555555"/><stop offset="0.2273" stop-color="#575757"/><stop offset="0.2727" stop-color="#595959"/><stop offset="0.3182" stop-color="#5a5a5a"/><stop offset="0.3636" stop-color="#5b5b5b"/><stop offset="0.4091" stop-color="#5a5a5a"/><stop offset="0.4545" stop-color="#5a5a5a"/><stop offset="0.5" stop-color="#595959"/><stop offset="0.5455" stop-color="#595959"/><stop offset="0.5909" stop-color="#585858"/><stop offset="0.6364" stop-color="#575757"/><stop offset="0.6818" stop-color="#555555"/><stop offset="0.7273" stop-color="#535353"/><stop offset="0.7727" stop-color="#505050"/><stop offset="0.8182" stop-color="#4d4d4d"/><stop offset="0.8636" stop-color="#4b4b4b"/><stop offset="0.9091" stop-color="#484848"/><stop offset="0.9545" stop-color="#454545"/><stop offset="1" stop-color="#454545"/></linearGradient><linearGradient id="g79" gradientUnits="userSpaceOnUse" x1="-9.4" x2="197.4" y1="0" y2="0"><stop offset="0" stop-color="#4d4d4d"/><stop offset="0.04545" stop-color="#4d4d4d"/><stop offset="0.09091" stop-color="#4f4f4f"/><stop offset="0.1364" stop-color="#515151"/><stop offset="0.1818" stop-color="#535353"/><stop offset="0.2273" stop-color="#555555"/><stop offset="0.2727" stop-color="#575757"/><stop offset="0.3182" stop-color="#575757"/><stop offset="0.3636" stop-color="#575757"/><stop offset="0.4091" stop-color="#575757"/><stop offset="0.4545" stop-color="#575757"/><stop offset="0.5" stop-color="#565656"/><stop offset="0.5455" stop-color="#555555"/><stop offset="0.5909" stop-color="#545454"/><stop offset="0.6364" stop-color="#525252"/><stop offset="0.6818" stop-color="#515151"/><stop offset="0.7273" stop-color="#4f4f4f"/><stop offset="0.7727" stop-color="#4d4d4d"/><stop offset="0.8182" stop-color="#4a4a4a"/><stop offset="0.8636" stop-color="#474747"/><stop offset="0.9091" stop-color="#454545"/><stop offset="0.9545" stop-color="#424242"/><stop offset="1" stop-color="#424242"/></linearGradient><linearGradient id="g80" gradientUnits="userSpaceOnUse" x1="-9.4" x2="197.4" y1="0" y2="0"><stop offset="0" stop-color="#4c4c4c"/><stop offset="0.04545" stop-color="#4c4c4c"/><stop offset="0.09091" stop-color="#4d4d4d"/><stop offset="0.1364" stop-color="#505050"/><stop offset="0.1818" stop-color="#525252"/><stop offset="0.2273" stop-color="#545454"/><stop offset="0.2727" stop-color="#555555"/><stop offset="0.3182" stop-color="#565656"/><stop offset="0.3636" stop-color="#555555"/><stop offset="0.4091" stop-color="#555555"/><stop offset="0.4545" stop-color="#555555"/><stop offset="0.5" stop-color="#555555"/><stop offset="0.5455" stop-color="#535353"/><stop offset="0.5909" stop-color="#515151"/><stop offset="0.6364" stop-color="#4f4f4f"/><stop offset="0.6818" stop-color="#4e4e4e"/><stop offset="0.7273" stop-color="#4d4d4d"/><stop offset="0.7727" stop-color="#4a4a4a"/><stop offset="0.8182" stop-color="#484848"/><stop offset="0.8636" stop-color="#454545"/><stop offset="0.9091" stop-color="#424242"/><stop offset="0.9545" stop-color="#414141"/><stop offset="1" stop-color="#414141"/></linearGradient><linearGradient id="g81" gradientUnits="userSpaceOnUse" x1="-9.4" x2="197.4" y1="0" y2="0"><stop offset="0" stop-color="#4b4b4b"/><stop offset="0.04545" stop-color="#4b4b4b"/><stop offset="0.09091" stop-color="#4c4c4c"/><stop offset="0.1364" stop-color="#4e4e4e"/><stop offset="0.1818" stop-color="#515151"/><stop offset="0.2273" stop-color="#535353"/><stop offset="0.2727" stop-color="#545454"/><stop offset="0.3182" stop-color="#545454"/><stop offset="0.3636" stop-color="#545454"/><stop offset="0.4091" stop-color="#545454"/><stop offset="0.4545" stop-color="#545454"/><stop offset="0.5" stop-color="#535353"/><stop offset="0.5455" stop-color="#525252"/><stop offset="0.5909" stop-color="#505050"/><stop offset="0.6364" stop-color="#4e4e4e"/><stop offset="0.6818" stop-color="#4d4d4d"/><stop offset="0.7273" stop-color="#4b4b4b"/><stop offset="0.7727" stop-color="#494949"/><stop offset="0.8182" stop-color="#464646"/><stop offset="0.8636" stop-color="#434343"/><stop offset="0.9091" stop-color="#414141"/><stop offset="0.9545" stop-color="#3f3f3f"/><stop offset="1" stop-color="#3f3f3f"/></linearGradient><linearGradient id="g82" gradientUnits="userSpaceOnUse" x1="-9.4" x2="197.4" y1="0" y2="0"><stop offset="0" stop-color="#4a4a4a"/><stop offset="0.04545" stop-color="#4a4a4a"/><stop offset="0.09091" stop-color="#4c4c4c"/><stop offset="0.1364" stop-color="#4e4e4e"/><stop offset="0.1818" stop-color="#505050"/><stop offset="0.2273" stop-color="#525252"/><stop offset="0.2727" stop-color="#535353"/><stop offset="0.3182" stop-color="#535353"/><stop offset="0.3636" stop-color="#535353"/><stop offset="0.4091" stop-color="#535353"/><stop offset="0.4545" stop-color="#535353"/><stop offset="0.5" stop-color="#525252"/><stop offset="0.5455" stop-color="#515151"/><stop offset="0.5909" stop-color="#4f4f4f"/><stop offset="0.6364" stop-color="#4e4e4e"/><stop offset="0.6818" stop-color="#4c4c4c"/><stop offset="0.7273" stop-color="#4a4a4a"/><stop offset="0.7727" stop-color="#474747"/><stop offset="0.8182" stop-color="#454545"/><stop offset="0.8636" stop-color="#424242"/><stop offset="0.9091" stop-color="#404040"/><stop offset="0.9545" stop-color="#3f3f3f"/><stop offset="1" stop-color="#3f3f3f"/></linearGradient><linearGradient id="g83" gradientUnits="userSpaceOnUse" x1="-9.4" x2="197.4" y1="0" y2="0"><stop offset="0" stop-color="#494949"/><stop offset="0.04545" stop-color="#494949"/><stop offset="0.09091" stop-color="#4b4b4b"/><stop offset="0.1364" stop-color="#4d4d4d"/><stop offset="0.1818" stop-color="#4f4f4f"/><stop offset="0.2273" stop-color="#505050"/><stop offset="0.2727" stop-color="#525252"/><stop offset="0.3182" stop-color="#535353"/><stop offset="0.3636" stop-color="#535353"/><stop offset="0.4091" stop-color="#535353"/><stop offset="0.4545" stop-color="#535353"/><stop offset="0.5" stop-color="#525252"/><stop offset="0.5455" stop-color="#515151"/><stop offset="0.5909" stop-color="#505050"/><stop offset="0.6364" stop-color="#4e4e4e"/><stop offset="0.6818" stop-color="#4c4c4c"/><stop offset="0.7273" stop-color="#494949"/><stop offset="0.7727" stop-color="#464646"/><stop offset="0.8182" stop-color="#444444"/><stop offset="0.8636" stop-color="#414141"/><stop offset="0.9091" stop-color="#3f3f3f"/><stop offset="0.9545" stop-color="#3e3e3e"/><stop offset="1" stop-color="#3e3e3e"/></linearGradient><linearGradient id="g84" gradientUnits="userSpaceOnUse" x1="-9.4" x2="197.4" y1="0" y2="0"><stop offset="0" stop-color="#484848"/><stop offset="0.04545" stop-color="#484848"/><stop offset="0.09091" stop-color="#4a4a4a"/><stop offset="0.1364" stop-color="#4b4b4b"/><stop offset="0.1818" stop-color="#4d4d4d"/><stop offset="0.2273" stop-color="#4f4f4f"/><stop offset="0.2727" stop-color="#515151"/><stop offset="0.3182" stop-color="#525252"/><stop offset="0.3636" stop-color="#535353"/><stop offset="0.4091" stop-color="#535353"/><stop offset="0.4545" stop-color="#535353"/><stop offset="0.5" stop-color="#525252"/><stop offset="0.5455" stop-color="#515151"/><stop offset="0.5909" stop-color="#505050"/><stop offset="0.6364" stop-color="#4e4e4e"/><stop offset="0.6818" stop-color="#4b4b4b"/><stop offset="0.7273" stop-color="#484848"/><stop offset="0.7727" stop-color="#454545"/><stop offset="0.8182" stop-color="#434343"/><stop offset="0.8636" stop-color="#404040"/><stop offset="0.9091" stop-color="#3f3f3f"/><stop offset="0.9545" stop-color="#3d3d3d"/><stop offset="1" stop-color="#3d3d3d"/></linearGradient><linearGradient id="g85" gradientUnits="userSpaceOnUse" x1="-9.4" x2="197.4" y1="0" y2="0"><stop offset="0" stop-color="#474747"/><stop offset="0.04545" stop-color="#474747"/><stop offset="0.09091" stop-color="#484848"/><stop offset="0.1364" stop-color="#4a4a4a"/><stop offset="0.1818" stop-color="#4c4c4c"/><stop offset="0.2273" stop-color="#4e4e4e"/><stop offset="0.2727" stop-color="#505050"/><stop offset="0.3182" stop-color="#515151"/><stop offset="0.3636" stop-color="#525252"/><stop offset="0.4091" stop-color="#535353"/><stop offset="0.4545" stop-color="#535353"/><stop offset="0.5" stop-color="#525252"/><stop offset="0.5455" stop-color="#515151"/><stop offset="0.5909" stop-color="#505050"/><stop offset="0.6364" stop-color="#4e4e4e"/><stop offset="0.6818" stop-color="#4b4b4b"/><stop offset="0.7273" stop-color="#474747"/><stop offset="0.7727" stop-color="#444444"/><stop offset="0.8182" stop-color="#414141"/><stop offset="0.8636" stop-color="#3f3f3f"/><stop offset="0.9091" stop-color="#3e3e3e"/><stop offset="0.9545" stop-color="#3c3c3c"/><stop offset="1" stop-color="#3c3c3c"/></linearGradient><linearGradient id="g86" gradientUnits="userSpaceOnUse" x1="-9.4" x2="197.4" y1="0" y2="0"><stop offset="0" stop-color="#454545"/><stop offset="0.04545" stop-color="#454545"/><stop offset="0.09091" stop-color="#474747"/><stop offset="0.1364" stop-color="#494949"/><stop offset="0.1818" stop-color="#4b4b4b"/><stop offset="0.2273" stop-color="#4d4d4d"/><stop offset="0.2727" stop-color="#4f4f4f"/><stop offset="0.3182" stop-color="#505050"/><stop offset="0.3636" stop-color="#515151"/><stop offset="0.4091" stop-color="#525252"/><stop offset="0.4545" stop-color="#535353"/><stop offset="0.5" stop-color="#535353"/><stop offset="0.5455" stop-color="#525252"/><stop offset="0.5909" stop-color="#505050"/><stop offset="0.6364" stop-color="#4d4d4d"/><stop offset="0.6818" stop-color="#494949"/><stop offset="0.7273" stop-color="#454545"/><stop offset="0.7727" stop-color="#424242"/><stop offset="0.8182" stop-color="#404040"/><stop offset="0.8636" stop-color="#3e3e3e"/><stop offset="0.9091" stop-color="#3c3c3c"/><stop offset="0.9545" stop-color="#3a3a3a"/><stop offset="1" stop-color="#3a3a3a"/></linearGradient><linearGradient id="g87" gradientUnits="userSpaceOnUse" x1="-9.4" x2="197.4" y1="0" y2="0"><stop offset="0" stop-color="#444444"/><stop offset="0.04545" stop-color="#444444"/><stop offset="0.09091" stop-color="#454545"/><stop offset="0.1364" stop-color="#474747"/><stop offset="0.1818" stop-color="#494949"/><stop offset="0.2273" stop-color="#4b4b4b"/><stop offset="0.2727" stop-color="#4d4d4d"/><stop offset="0.3182" stop-color="#4e4e4e"/><stop offset="0.3636" stop-color="#505050"/><stop offset="0.4091" stop-color="#515151"/><stop offset="0.4545" stop-color="#535353"/><stop offset="0.5" stop-color="#535353"/><stop offset="0.5455" stop-color="#515151"/><stop offset="0.5909" stop-color="#4e4e4e"/><stop offset="0.6364" stop-color="#4b4b4b"/><stop offset="0.6818" stop-color="#474747"/><stop offset="0.7273" stop-color="#434343"/><stop offset="0.7727" stop-color="#404040"/><stop offset="0.8182" stop-color="#3d3d3d"/><stop offset="0.8636" stop-color="#3b3b3b"/><stop offset="0.9091" stop-color="#393939"/><stop offset="0.9545" stop-color="#383838"/><stop offset="1" stop-color="#383838"/></linearGradient><linearGradient id="g88" gradientUnits="userSpaceOnUse" x1="-9.4" x2="197.4" y1="0" y2="0"><stop offset="0" stop-color="#434343"/><stop offset="0.04545" stop-color="#434343"/><stop offset="0.09091" stop-color="#444444"/><stop offset="0.1364" stop-color="#464646"/><stop offset="0.1818" stop-color="#484848"/><stop offset="0.2273" stop-color="#4a4a4a"/><stop offset="0.2727" stop-color="#4b4b4b"/><stop offset="0.3182" stop-color="#4c4c4c"/><stop offset="0.3636" stop-color="#4e4e4e"/><stop offset="0.4091" stop-color="#505050"/><stop offset="0.4545" stop-color="#525252"/><stop offset="0.5" stop-color="#535353"/><stop offset="0.5455" stop-color="#515151"/><stop offset="0.5909" stop-color="#4d4d4d"/><stop offset="0.6364" stop-color="#484848"/><stop offset="0.6818" stop-color="#444444"/><stop offset="0.7273" stop-color="#404040"/><stop offset="0.7727" stop-color="#3d3d3d"/><stop offset="0.8182" stop-color="#3b3b3b"/><stop offset="0.8636" stop-color="#393939"/><stop offset="0.9091" stop-color="#373737"/><stop offset="0.9545" stop-color="#353535"/><stop offset="1" stop-color="#353535"/></linearGradient><linearGradient id="g89" gradientUnits="userSpaceOnUse" x1="-9.4" x2="197.4" y1="0" y2="0"><stop offset="0" stop-color="#434343"/><stop offset="0.04545" stop-color="#434343"/><stop offset="0.09091" stop-color="#444444"/><stop offset="0.1364" stop-color="#464646"/><stop offset="0.1818" stop-color="#484848"/><stop offset="0.2273" stop-color="#4a4a4a"/><stop offset="0.2727" stop-color="#4b4b4b"/><stop offset="0.3182" stop-color="#4c4c4c"/><stop offset="0.3636" stop-color="#4e4e4e"/><stop offset="0.4091" stop-color="#505050"/><stop offset="0.4545" stop-color="#525252"/><stop offset="0.5" stop-color="#535353"/><stop offset="0.5455" stop-color="#515151"/><stop offset="0.5909" stop-color="#4d4d4d"/><stop offset="0.6364" stop-color="#484848"/><stop offset="0.6818" stop-color="#444444"/><stop offset="0.7273" stop-color="#404040"/><stop offset="0.7727" stop-color="#3d3d3d"/><stop offset="0.8182" stop-color="#3b3b3b"/><stop offset="0.8636" stop-color="#393939"/><stop offset="0.9091" stop-color="#373737"/><stop offset="0.9545" stop-color="#353535"/><stop offset="1" stop-color="#353535"/></linearGradient><linearGradient id="g90" gradientUnits="userSpaceOnUse" x1="-9.4" x2="197.4" y1="0" y2="0"><stop offset="0" stop-color="#434343"/><stop offset="0.04545" stop-color="#434343"/><stop offset="0.09091" stop-color="#444444"/><stop offset="0.1364" stop-color="#464646"/><stop offset="0.1818" stop-color="#484848"/><stop offset="0.2273" stop-color="#4a4a4a"/><stop offset="0.2727" stop-color="#4b4b4b"/><stop offset="0.3182" stop-color="#4c4c4c"/><stop offset="0.3636" stop-color="#4e4e4e"/><stop offset="0.4091" stop-color="#505050"/><stop offset="0.4545" stop-color="#525252"/><stop offset="0.5" stop-color="#535353"/><stop offset="0.5455" stop-color="#515151"/><stop offset="0.5909" stop-color="#4d4d4d"/><stop offset="0.6364" stop-color="#484848"/><stop offset="0.6818" stop-color="#444444"/><stop offset="0.7273" stop-color="#404040"/><stop offset="0.7727" stop-color="#3d3d3d"/><stop offset="0.8182" stop-color="#3b3b3b"/><stop offset="0.8636" stop-color="#393939"/><stop offset="0.9091" stop-color="#373737"/><stop offset="0.9545" stop-color="#353535"/><stop offset="1" stop-color="#353535"/></linearGradient><radialGradient id="g2"><stop offset="0" stop-color="#d5d5d5" stop-opacity="1"/><stop offset="0.35" stop-color="#cdcdcd" stop-opacity="1"/><stop offset="0.475" stop-color="#c0c0c0" stop-opacity="1"/><stop offset="0.6" stop-color="#adadad" stop-opacity="0.9"/><stop offset="0.7" stop-color="#a1a1a1" stop-opacity="0.7"/><stop offset="0.875" stop-color="#999999" stop-opacity="0.3"/><stop offset="1" stop-color="#979797" stop-opacity="0"/></radialGradient><radialGradient id="g3" fx="0.479" fy="0.428"><stop offset="0" stop-color="#ededed" stop-opacity="1"/><stop offset="0.416667" stop-color="#e7e7e7" stop-opacity="1"/><stop offset="0.791667" stop-color="#dbdbdb" stop-opacity="1"/><stop offset="0.908333" stop-color="#d3d3d3" stop-opacity="1"/><stop offset="0.95" stop-color="#d0d0d0" stop-opacity="0.8"/><stop offset="0.979167" stop-color="#cecece" stop-opacity="0.35"/><stop offset="1" stop-color="#cdcdcd" stop-opacity="0"/></radialGradient><clipPath id="cpb"><rect x="0" y="0" width="188" height="191.1"/></clipPath></defs>
<g transform="translate(334.7 6.1)"><g clip-path="url(#cpb)"><g filter="url(#cm)">
<g filter="url(#bl)">
<rect x="-9.4" y="-5" width="206.8" height="5.6" fill="url(#g49)"/>
<rect x="-9.4" y="0" width="206.8" height="5.6" fill="url(#g50)"/>
<rect x="-9.4" y="5" width="206.8" height="5.6" fill="url(#g51)"/>
<rect x="-9.4" y="10" width="206.8" height="5.6" fill="url(#g52)"/>
<rect x="-9.4" y="15" width="206.8" height="5.6" fill="url(#g53)"/>
<rect x="-9.4" y="20" width="206.8" height="5.6" fill="url(#g54)"/>
<rect x="-9.4" y="25" width="206.8" height="5.6" fill="url(#g55)"/>
<rect x="-9.4" y="30" width="206.8" height="5.6" fill="url(#g56)"/>
<rect x="-9.4" y="35" width="206.8" height="5.6" fill="url(#g57)"/>
<rect x="-9.4" y="40" width="206.8" height="5.6" fill="url(#g58)"/>
<rect x="-9.4" y="45" width="206.8" height="5.6" fill="url(#g59)"/>
<rect x="-9.4" y="50" width="206.8" height="5.6" fill="url(#g60)"/>
<rect x="-9.4" y="55" width="206.8" height="5.6" fill="url(#g61)"/>
<rect x="-9.4" y="60" width="206.8" height="5.6" fill="url(#g62)"/>
<rect x="-9.4" y="65" width="206.8" height="5.6" fill="url(#g63)"/>
<rect x="-9.4" y="70" width="206.8" height="5.6" fill="url(#g64)"/>
<rect x="-9.4" y="75" width="206.8" height="5.6" fill="url(#g65)"/>
<rect x="-9.4" y="80" width="206.8" height="5.6" fill="url(#g66)"/>
<rect x="-9.4" y="85" width="206.8" height="5.6" fill="url(#g67)"/>
<rect x="-9.4" y="90" width="206.8" height="5.6" fill="url(#g68)"/>
<rect x="-9.4" y="95" width="206.8" height="5.6" fill="url(#g69)"/>
<rect x="-9.4" y="100" width="206.8" height="5.6" fill="url(#g70)"/>
<rect x="-9.4" y="105" width="206.8" height="5.6" fill="url(#g71)"/>
<rect x="-9.4" y="110" width="206.8" height="5.6" fill="url(#g72)"/>
<rect x="-9.4" y="115" width="206.8" height="5.6" fill="url(#g73)"/>
<rect x="-9.4" y="120" width="206.8" height="5.6" fill="url(#g74)"/>
<rect x="-9.4" y="125" width="206.8" height="5.6" fill="url(#g75)"/>
<rect x="-9.4" y="130" width="206.8" height="5.6" fill="url(#g76)"/>
<rect x="-9.4" y="135" width="206.8" height="5.6" fill="url(#g77)"/>
<rect x="-9.4" y="140" width="206.8" height="5.6" fill="url(#g78)"/>
<rect x="-9.4" y="145" width="206.8" height="5.6" fill="url(#g79)"/>
<rect x="-9.4" y="150" width="206.8" height="5.6" fill="url(#g80)"/>
<rect x="-9.4" y="155" width="206.8" height="5.6" fill="url(#g81)"/>
<rect x="-9.4" y="160" width="206.8" height="5.6" fill="url(#g82)"/>
<rect x="-9.4" y="165" width="206.8" height="5.6" fill="url(#g83)"/>
<rect x="-9.4" y="170" width="206.8" height="5.6" fill="url(#g84)"/>
<rect x="-9.4" y="175" width="206.8" height="5.6" fill="url(#g85)"/>
<rect x="-9.4" y="180" width="206.8" height="5.6" fill="url(#g86)"/>
<rect x="-9.4" y="185" width="206.8" height="5.6" fill="url(#g87)"/>
<rect x="-9.4" y="190" width="206.8" height="5.6" fill="url(#g88)"/>
<rect x="-9.4" y="195" width="206.8" height="5.6" fill="url(#g89)"/>
<rect x="-9.4" y="200" width="206.8" height="5.6" fill="url(#g90)"/>
</g>
<ellipse cx="102.6" cy="86.15" rx="40" ry="27.5" fill="url(#g2)" transform="rotate(-45 102.6 86.15)"/>
<ellipse cx="95.4" cy="93.35" rx="24" ry="24.3" fill="url(#g3)"/>
</g></g>
<ellipse cx="93.6" cy="95.15" rx="23.5" ry="23.8" fill="none" stroke="#141414" stroke-width="1.15" stroke-dasharray="3.6 2.34"/>
</g>
<g stroke="#151515" stroke-width="1.05" fill="none">
<path stroke-width="0.6" d="M334.7 6.1V197.2H522.7"/>
<path d="M334.7 6.1h-3.6M334.7 197.2v3.2M334.7 29.987h-1.9M358.2 197.2v1.7M334.7 53.875h-3.6M381.7 197.2v3.2M334.7 77.762h-1.9M405.2 197.2v1.7M334.7 101.65h-3.6M428.7 197.2v3.2M334.7 125.54h-1.9M452.2 197.2v1.7M334.7 149.42h-3.6M475.7 197.2v3.2M334.7 173.31h-1.9M499.2 197.2v1.7M334.7 197.2h-3.6M522.7 197.2v3.2"/>
</g>
<g class="tk">
<text x="328.4" y="8.5" text-anchor="end">20</text>
<text x="328.4" y="56.275" text-anchor="end">10</text>
<text x="328.4" y="104.05" text-anchor="end">0</text>
<text x="328.4" y="151.82" text-anchor="end">-10</text>
<text x="328.4" y="199.6" text-anchor="end">-20</text>
<text x="334.7" y="209.2" text-anchor="middle">-20</text>
<text x="381.7" y="209.2" text-anchor="middle">-10</text>
<text x="428.7" y="209.2" text-anchor="middle">0</text>
<text x="475.7" y="209.2" text-anchor="middle">10</text>
<text x="522.7" y="209.2" text-anchor="middle">20</text>
</g>
<text class="ax" x="428.7" y="223.75" text-anchor="middle">X (mm)</text>
<text class="ax" x="313.7" y="101.65" text-anchor="middle" transform="rotate(-90 313.7 101.65)">Y (mm)</text>
<text class="an" x="473.8" y="22.5">A= 10 mm</text>
<text class="an" x="473.8" y="34.1">T= 5 mm</text>
<text class="cap" x="423.7" y="257.5" text-anchor="middle">(<tspan font-weight="bold">b</tspan>)</text>
<defs><linearGradient id="g91" gradientUnits="userSpaceOnUse" x1="-9.4" x2="197.4" y1="0" y2="0"><stop offset="0" stop-color="#212121"/><stop offset="0.04545" stop-color="#212121"/><stop offset="0.09091" stop-color="#252525"/><stop offset="0.1364" stop-color="#282828"/><stop offset="0.1818" stop-color="#2c2c2c"/><stop offset="0.2273" stop-color="#303030"/><stop offset="0.2727" stop-color="#333333"/><stop offset="0.3182" stop-color="#363636"/><stop offset="0.3636" stop-color="#393939"/><stop offset="0.4091" stop-color="#3b3b3b"/><stop offset="0.4545" stop-color="#3d3d3d"/><stop offset="0.5" stop-color="#3e3e3e"/><stop offset="0.5455" stop-color="#3f3f3f"/><stop offset="0.5909" stop-color="#404040"/><stop offset="0.6364" stop-color="#414141"/><stop offset="0.6818" stop-color="#414141"/><stop offset="0.7273" stop-color="#404040"/><stop offset="0.7727" stop-color="#3f3f3f"/><stop offset="0.8182" stop-color="#3e3e3e"/><stop offset="0.8636" stop-color="#3c3c3c"/><stop offset="0.9091" stop-color="#3a3a3a"/><stop offset="0.9545" stop-color="#373737"/><stop offset="1" stop-color="#373737"/></linearGradient><linearGradient id="g92" gradientUnits="userSpaceOnUse" x1="-9.4" x2="197.4" y1="0" y2="0"><stop offset="0" stop-color="#222222"/><stop offset="0.04545" stop-color="#222222"/><stop offset="0.09091" stop-color="#252525"/><stop offset="0.1364" stop-color="#292929"/><stop offset="0.1818" stop-color="#2d2d2d"/><stop offset="0.2273" stop-color="#313131"/><stop offset="0.2727" stop-color="#343434"/><stop offset="0.3182" stop-color="#373737"/><stop offset="0.3636" stop-color="#393939"/><stop offset="0.4091" stop-color="#3b3b3b"/><stop offset="0.4545" stop-color="#3d3d3d"/><stop offset="0.5" stop-color="#3e3e3e"/><stop offset="0.5455" stop-color="#3f3f3f"/><stop offset="0.5909" stop-color="#404040"/><stop offset="0.6364" stop-color="#404040"/><stop offset="0.6818" stop-color="#414141"/><stop offset="0.7273" stop-color="#404040"/><stop offset="0.7727" stop-color="#404040"/><stop offset="0.8182" stop-color="#3e3e3e"/><stop offset="0.8636" stop-color="#3c3c3c"/><stop offset="0.9091" stop-color="#3a3a3a"/><stop offset="0.9545" stop-color="#373737"/><stop offset="1" stop-color="#373737"/></linearGradient><linearGradient id="g93" gradientUnits="userSpaceOnUse" x1="-9.4" x2="197.4" y1="0" y2="0"><stop offset="0" stop-color="#232323"/><stop offset="0.04545" stop-color="#232323"/><stop offset="0.09091" stop-color="#262626"/><stop offset="0.1364" stop-color="#2a2a2a"/><stop offset="0.1818" stop-color="#2e2e2e"/><stop offset="0.2273" stop-color="#333333"/><stop offset="0.2727" stop-color="#373737"/><stop offset="0.3182" stop-color="#393939"/><stop offset="0.3636" stop-color="#3c3c3c"/><stop offset="0.4091" stop-color="#3d3d3d"/><stop offset="0.4545" stop-color="#3f3f3f"/><stop offset="0.5" stop-color="#404040"/><stop offset="0.5455" stop-color="#414141"/><stop offset="0.5909" stop-color="#414141"/><stop offset="0.6364" stop-color="#424242"/><stop offset="0.6818" stop-color="#424242"/><stop offset="0.7273" stop-color="#434343"/><stop offset="0.7727" stop-color="#424242"/><stop offset="0.8182" stop-color="#414141"/><stop offset="0.8636" stop-color="#3f3f3f"/><stop offset="0.9091" stop-color="#3c3c3c"/><stop offset="0.9545" stop-color="#393939"/><stop offset="1" stop-color="#393939"/></linearGradient><linearGradient id="g94" gradientUnits="userSpaceOnUse" x1="-9.4" x2="197.4" y1="0" y2="0"><stop offset="0" stop-color="#242424"/><stop offset="0.04545" stop-color="#242424"/><stop offset="0.09091" stop-color="#272727"/><stop offset="0.1364" stop-color="#2b2b2b"/><stop offset="0.1818" stop-color="#303030"/><stop offset="0.2273" stop-color="#353535"/><stop offset="0.2727" stop-color="#393939"/><stop offset="0.3182" stop-color="#3c3c3c"/><stop offset="0.3636" stop-color="#3e3e3e"/><stop offset="0.4091" stop-color="#404040"/><stop offset="0.4545" stop-color="#424242"/><stop offset="0.5" stop-color="#444444"/><stop offset="0.5455" stop-color="#454545"/><stop offset="0.5909" stop-color="#454545"/><stop offset="0.6364" stop-color="#464646"/><stop offset="0.6818" stop-color="#474747"/><stop offset="0.7273" stop-color="#474747"/><stop offset="0.7727" stop-color="#464646"/><stop offset="0.8182" stop-color="#454545"/><stop offset="0.8636" stop-color="#424242"/><stop offset="0.9091" stop-color="#3f3f3f"/><stop offset="0.9545" stop-color="#3b3b3b"/><stop offset="1" stop-color="#3b3b3b"/></linearGradient><linearGradient id="g95" gradientUnits="userSpaceOnUse" x1="-9.4" x2="197.4" y1="0" y2="0"><stop offset="0" stop-color="#272727"/><stop offset="0.04545" stop-color="#272727"/><stop offset="0.09091" stop-color="#2a2a2a"/><stop offset="0.1364" stop-color="#2e2e2e"/><stop offset="0.1818" stop-color="#323232"/><stop offset="0.2273" stop-color="#373737"/><stop offset="0.2727" stop-color="#3b3b3b"/><stop offset="0.3182" stop-color="#3f3f3f"/><stop offset="0.3636" stop-color="#424242"/><stop offset="0.4091" stop-color="#444444"/><stop offset="0.4545" stop-color="#464646"/><stop offset="0.5" stop-color="#484848"/><stop offset="0.5455" stop-color="#4a4a4a"/><stop offset="0.5909" stop-color="#4c4c4c"/><stop offset="0.6364" stop-color="#4d4d4d"/><stop offset="0.6818" stop-color="#4d4d4d"/><stop offset="0.7273" stop-color="#4d4d4d"/><stop offset="0.7727" stop-color="#4c4c4c"/><stop offset="0.8182" stop-color="#4a4a4a"/><stop offset="0.8636" stop-color="#474747"/><stop offset="0.9091" stop-color="#434343"/><stop offset="0.9545" stop-color="#404040"/><stop offset="1" stop-color="#404040"/></linearGradient><linearGradient id="g96" gradientUnits="userSpaceOnUse" x1="-9.4" x2="197.4" y1="0" y2="0"><stop offset="0" stop-color="#292929"/><stop offset="0.04545" stop-color="#292929"/><stop offset="0.09091" stop-color="#2c2c2c"/><stop offset="0.1364" stop-color="#303030"/><stop offset="0.1818" stop-color="#343434"/><stop offset="0.2273" stop-color="#393939"/><stop offset="0.2727" stop-color="#3d3d3d"/><stop offset="0.3182" stop-color="#424242"/><stop offset="0.3636" stop-color="#454545"/><stop offset="0.4091" stop-color="#484848"/><stop offset="0.4545" stop-color="#4b4b4b"/><stop offset="0.5" stop-color="#4e4e4e"/><stop offset="0.5455" stop-color="#515151"/><stop offset="0.5909" stop-color="#535353"/><stop offset="0.6364" stop-color="#555555"/><stop offset="0.6818" stop-color="#555555"/><stop offset="0.7273" stop-color="#545454"/><stop offset="0.7727" stop-color="#525252"/><stop offset="0.8182" stop-color="#505050"/><stop offset="0.8636" stop-color="#4c4c4c"/><stop offset="0.9091" stop-color="#494949"/><stop offset="0.9545" stop-color="#444444"/><stop offset="1" stop-color="#444444"/></linearGradient><linearGradient id="g97" gradientUnits="userSpaceOnUse" x1="-9.4" x2="197.4" y1="0" y2="0"><stop offset="0" stop-color="#2c2c2c"/><stop offset="0.04545" stop-color="#2c2c2c"/><stop offset="0.09091" stop-color="#2f2f2f"/><stop offset="0.1364" stop-color="#333333"/><stop offset="0.1818" stop-color="#373737"/><stop offset="0.2273" stop-color="#3b3b3b"/><stop offset="0.2727" stop-color="#404040"/><stop offset="0.3182" stop-color="#444444"/><stop offset="0.3636" stop-color="#494949"/><stop offset="0.4091" stop-color="#4d4d4d"/><stop offset="0.4545" stop-color="#515151"/><stop offset="0.5" stop-color="#555555"/><stop offset="0.5455" stop-color="#585858"/><stop offset="0.5909" stop-color="#5c5c5c"/><stop offset="0.6364" stop-color="#5e5e5e"/><stop offset="0.6818" stop-color="#5e5e5e"/><stop offset="0.7273" stop-color="#5c5c5c"/><stop offset="0.7727" stop-color="#5a5a5a"/><stop offset="0.8182" stop-color="#565656"/><stop offset="0.8636" stop-color="#525252"/><stop offset="0.9091" stop-color="#4e4e4e"/><stop offset="0.9545" stop-color="#4a4a4a"/><stop offset="1" stop-color="#4a4a4a"/></linearGradient><linearGradient id="g98" gradientUnits="userSpaceOnUse" x1="-9.4" x2="197.4" y1="0" y2="0"><stop offset="0" stop-color="#2f2f2f"/><stop offset="0.04545" stop-color="#2f2f2f"/><stop offset="0.09091" stop-color="#333333"/><stop offset="0.1364" stop-color="#363636"/><stop offset="0.1818" stop-color="#3a3a3a"/><stop offset="0.2273" stop-color="#3e3e3e"/><stop offset="0.2727" stop-color="#424242"/><stop offset="0.3182" stop-color="#474747"/><stop offset="0.3636" stop-color="#4d4d4d"/><stop offset="0.4091" stop-color="#525252"/><stop offset="0.4545" stop-color="#575757"/><stop offset="0.5" stop-color="#5b5b5b"/><stop offset="0.5455" stop-color="#606060"/><stop offset="0.5909" stop-color="#656565"/><stop offset="0.6364" stop-color="#676767"/><stop offset="0.6818" stop-color="#676767"/><stop offset="0.7273" stop-color="#646464"/><stop offset="0.7727" stop-color="#616161"/><stop offset="0.8182" stop-color="#5d5d5d"/><stop offset="0.8636" stop-color="#585858"/><stop offset="0.9091" stop-color="#535353"/><stop offset="0.9545" stop-color="#4f4f4f"/><stop offset="1" stop-color="#4f4f4f"/></linearGradient><linearGradient id="g99" gradientUnits="userSpaceOnUse" x1="-9.4" x2="197.4" y1="0" y2="0"><stop offset="0" stop-color="#323232"/><stop offset="0.04545" stop-color="#323232"/><stop offset="0.09091" stop-color="#363636"/><stop offset="0.1364" stop-color="#393939"/><stop offset="0.1818" stop-color="#3c3c3c"/><stop offset="0.2273" stop-color="#404040"/><stop offset="0.2727" stop-color="#454545"/><stop offset="0.3182" stop-color="#4a4a4a"/><stop offset="0.3636" stop-color="#515151"/><stop offset="0.4091" stop-color="#575757"/><stop offset="0.4545" stop-color="#5c5c5c"/><stop offset="0.5" stop-color="#626262"/><stop offset="0.5455" stop-color="#686868"/><stop offset="0.5909" stop-color="#6e6e6e"/><stop offset="0.6364" stop-color="#707070"/><stop offset="0.6818" stop-color="#707070"/><stop offset="0.7273" stop-color="#6c6c6c"/><stop offset="0.7727" stop-color="#686868"/><stop offset="0.8182" stop-color="#636363"/><stop offset="0.8636" stop-color="#5e5e5e"/><stop offset="0.9091" stop-color="#585858"/><stop offset="0.9545" stop-color="#545454"/><stop offset="1" stop-color="#545454"/></linearGradient><linearGradient id="g100" gradientUnits="userSpaceOnUse" x1="-9.4" x2="197.4" y1="0" y2="0"><stop offset="0" stop-color="#353535"/><stop offset="0.04545" stop-color="#353535"/><stop offset="0.09091" stop-color="#393939"/><stop offset="0.1364" stop-color="#3c3c3c"/><stop offset="0.1818" stop-color="#3f3f3f"/><stop offset="0.2273" stop-color="#434343"/><stop offset="0.2727" stop-color="#474747"/><stop offset="0.3182" stop-color="#4e4e4e"/><stop offset="0.3636" stop-color="#555555"/><stop offset="0.4091" stop-color="#5b5b5b"/><stop offset="0.4545" stop-color="#626262"/><stop offset="0.5" stop-color="#696969"/><stop offset="0.5455" stop-color="#707070"/><stop offset="0.5909" stop-color="#767676"/><stop offset="0.6364" stop-color="#797979"/><stop offset="0.6818" stop-color="#787878"/><stop offset="0.7273" stop-color="#747474"/><stop offset="0.7727" stop-color="#6e6e6e"/><stop offset="0.8182" stop-color="#686868"/><stop offset="0.8636" stop-color="#626262"/><stop offset="0.9091" stop-color="#5d5d5d"/><stop offset="0.9545" stop-color="#585858"/><stop offset="1" stop-color="#585858"/></linearGradient><linearGradient id="g101" gradientUnits="userSpaceOnUse" x1="-9.4" x2="197.4" y1="0" y2="0"><stop offset="0" stop-color="#373737"/><stop offset="0.04545" stop-color="#373737"/><stop offset="0.09091" stop-color="#3b3b3b"/><stop offset="0.1364" stop-color="#3f3f3f"/><stop offset="0.1818" stop-color="#424242"/><stop offset="0.2273" stop-color="#454545"/><stop offset="0.2727" stop-color="#4a4a4a"/><stop offset="0.3182" stop-color="#515151"/><stop offset="0.3636" stop-color="#585858"/><stop offset="0.4091" stop-color="#5f5f5f"/><stop offset="0.4545" stop-color="#676767"/><stop offset="0.5" stop-color="#6f6f6f"/><stop offset="0.5455" stop-color="#777777"/><stop offset="0.5909" stop-color="#7e7e7e"/><stop offset="0.6364" stop-color="#818181"/><stop offset="0.6818" stop-color="#7f7f7f"/><stop offset="0.7273" stop-color="#7a7a7a"/><stop offset="0.7727" stop-color="#737373"/><stop offset="0.8182" stop-color="#6c6c6c"/><stop offset="0.8636" stop-color="#666666"/><stop offset="0.9091" stop-color="#606060"/><stop offset="0.9545" stop-color="#5b5b5b"/><stop offset="1" stop-color="#5b5b5b"/></linearGradient><linearGradient id="g102" gradientUnits="userSpaceOnUse" x1="-9.4" x2="197.4" y1="0" y2="0"><stop offset="0" stop-color="#393939"/><stop offset="0.04545" stop-color="#393939"/><stop offset="0.09091" stop-color="#3e3e3e"/><stop offset="0.1364" stop-color="#414141"/><stop offset="0.1818" stop-color="#444444"/><stop offset="0.2273" stop-color="#484848"/><stop offset="0.2727" stop-color="#4d4d4d"/><stop offset="0.3182" stop-color="#545454"/><stop offset="0.3636" stop-color="#5b5b5b"/><stop offset="0.4091" stop-color="#636363"/><stop offset="0.4545" stop-color="#6b6b6b"/><stop offset="0.5" stop-color="#747474"/><stop offset="0.5455" stop-color="#7d7d7d"/><stop offset="0.5909" stop-color="#858585"/><stop offset="0.6364" stop-color="#878787"/><stop offset="0.6818" stop-color="#848484"/><stop offset="0.7273" stop-color="#7e7e7e"/><stop offset="0.7727" stop-color="#777777"/><stop offset="0.8182" stop-color="#6f6f6f"/><stop offset="0.8636" stop-color="#686868"/><stop offset="0.9091" stop-color="#626262"/><stop offset="0.9545" stop-color="#5c5c5c"/><stop offset="1" stop-color="#5c5c5c"/></linearGradient><linearGradient id="g103" gradientUnits="userSpaceOnUse" x1="-9.4" x2="197.4" y1="0" y2="0"><stop offset="0" stop-color="#3b3b3b"/><stop offset="0.04545" stop-color="#3b3b3b"/><stop offset="0.09091" stop-color="#404040"/><stop offset="0.1364" stop-color="#434343"/><stop offset="0.1818" stop-color="#474747"/><stop offset="0.2273" stop-color="#4b4b4b"/><stop offset="0.2727" stop-color="#505050"/><stop offset="0.3182" stop-color="#575757"/><stop offset="0.3636" stop-color="#5e5e5e"/><stop offset="0.4091" stop-color="#666666"/><stop offset="0.4545" stop-color="#707070"/><stop offset="0.5" stop-color="#7a7a7a"/><stop offset="0.5455" stop-color="#838383"/><stop offset="0.5909" stop-color="#8a8a8a"/><stop offset="0.6364" stop-color="#8c8c8c"/><stop offset="0.6818" stop-color="#888888"/><stop offset="0.7273" stop-color="#818181"/><stop offset="0.7727" stop-color="#797979"/><stop offset="0.8182" stop-color="#717171"/><stop offset="0.8636" stop-color="#696969"/><stop offset="0.9091" stop-color="#626262"/><stop offset="0.9545" stop-color="#5c5c5c"/><stop offset="1" stop-color="#5c5c5c"/></linearGradient><linearGradient id="g104" gradientUnits="userSpaceOnUse" x1="-9.4" x2="197.4" y1="0" y2="0"><stop offset="0" stop-color="#3d3d3d"/><stop offset="0.04545" stop-color="#3d3d3d"/><stop offset="0.09091" stop-color="#414141"/><stop offset="0.1364" stop-color="#454545"/><stop offset="0.1818" stop-color="#4a4a4a"/><stop offset="0.2273" stop-color="#4e4e4e"/><stop offset="0.2727" stop-color="#535353"/><stop offset="0.3182" stop-color="#5a5a5a"/><stop offset="0.3636" stop-color="#616161"/><stop offset="0.4091" stop-color="#6a6a6a"/><stop offset="0.4545" stop-color="#757575"/><stop offset="0.5" stop-color="#808080"/><stop offset="0.5455" stop-color="#8a8a8a"/><stop offset="0.5909" stop-color="#8f8f8f"/><stop offset="0.6364" stop-color="#8f8f8f"/><stop offset="0.6818" stop-color="#8a8a8a"/><stop offset="0.7273" stop-color="#828282"/><stop offset="0.7727" stop-color="#797979"/><stop offset="0.8182" stop-color="#717171"/><stop offset="0.8636" stop-color="#696969"/><stop offset="0.9091" stop-color="#616161"/><stop offset="0.9545" stop-color="#5b5b5b"/><stop offset="1" stop-color="#5b5b5b"/></linearGradient><linearGradient id="g105" gradientUnits="userSpaceOnUse" x1="-9.4" x2="197.4" y1="0" y2="0"><stop offset="0" stop-color="#3f3f3f"/><stop offset="0.04545" stop-color="#3f3f3f"/><stop offset="0.09091" stop-color="#434343"/><stop offset="0.1364" stop-color="#474747"/><stop offset="0.1818" stop-color="#4c4c4c"/><stop offset="0.2273" stop-color="#515151"/><stop offset="0.2727" stop-color="#565656"/><stop offset="0.3182" stop-color="#5c5c5c"/><stop offset="0.3636" stop-color="#646464"/><stop offset="0.4091" stop-color="#6f6f6f"/><stop offset="0.4545" stop-color="#7e7e7e"/><stop offset="0.5" stop-color="#8d8d8d"/><stop offset="0.5455" stop-color="#939393"/><stop offset="0.5909" stop-color="#949494"/><stop offset="0.6364" stop-color="#919191"/><stop offset="0.6818" stop-color="#8a8a8a"/><stop offset="0.7273" stop-color="#828282"/><stop offset="0.7727" stop-color="#797979"/><stop offset="0.8182" stop-color="#707070"/><stop offset="0.8636" stop-color="#686868"/><stop offset="0.9091" stop-color="#606060"/><stop offset="0.9545" stop-color="#5a5a5a"/><stop offset="1" stop-color="#5a5a5a"/></linearGradient><linearGradient id="g106" gradientUnits="userSpaceOnUse" x1="-9.4" x2="197.4" y1="0" y2="0"><stop offset="0" stop-color="#414141"/><stop offset="0.04545" stop-color="#414141"/><stop offset="0.09091" stop-color="#454545"/><stop offset="0.1364" stop-color="#494949"/><stop offset="0.1818" stop-color="#4e4e4e"/><stop offset="0.2273" stop-color="#545454"/><stop offset="0.2727" stop-color="#595959"/><stop offset="0.3182" stop-color="#5f5f5f"/><stop offset="0.3636" stop-color="#686868"/><stop offset="0.4091" stop-color="#777777"/><stop offset="0.4545" stop-color="#979797"/><stop offset="0.5" stop-color="#b7b7b7"/><stop offset="0.5455" stop-color="#aaaaaa"/><stop offset="0.5909" stop-color="#9a9a9a"/><stop offset="0.6364" stop-color="#929292"/><stop offset="0.6818" stop-color="#8a8a8a"/><stop offset="0.7273" stop-color="#808080"/><stop offset="0.7727" stop-color="#777777"/><stop offset="0.8182" stop-color="#6e6e6e"/><stop offset="0.8636" stop-color="#666666"/><stop offset="0.9091" stop-color="#5f5f5f"/><stop offset="0.9545" stop-color="#585858"/><stop offset="1" stop-color="#585858"/></linearGradient><linearGradient id="g107" gradientUnits="userSpaceOnUse" x1="-9.4" x2="197.4" y1="0" y2="0"><stop offset="0" stop-color="#434343"/><stop offset="0.04545" stop-color="#434343"/><stop offset="0.09091" stop-color="#474747"/><stop offset="0.1364" stop-color="#4b4b4b"/><stop offset="0.1818" stop-color="#505050"/><stop offset="0.2273" stop-color="#565656"/><stop offset="0.2727" stop-color="#5b5b5b"/><stop offset="0.3182" stop-color="#626262"/><stop offset="0.3636" stop-color="#6c6c6c"/><stop offset="0.4091" stop-color="#878787"/><stop offset="0.4545" stop-color="#eeeeee"/><stop offset="0.5" stop-color="#f9f9f9"/><stop offset="0.5455" stop-color="#fcfcfc"/><stop offset="0.5909" stop-color="#a6a6a6"/><stop offset="0.6364" stop-color="#929292"/><stop offset="0.6818" stop-color="#888888"/><stop offset="0.7273" stop-color="#7e7e7e"/><stop offset="0.7727" stop-color="#757575"/><stop offset="0.8182" stop-color="#6c6c6c"/><stop offset="0.8636" stop-color="#646464"/><stop offset="0.9091" stop-color="#5d5d5d"/><stop offset="0.9545" stop-color="#575757"/><stop offset="1" stop-color="#575757"/></linearGradient><linearGradient id="g108" gradientUnits="userSpaceOnUse" x1="-9.4" x2="197.4" y1="0" y2="0"><stop offset="0" stop-color="#454545"/><stop offset="0.04545" stop-color="#454545"/><stop offset="0.09091" stop-color="#494949"/><stop offset="0.1364" stop-color="#4d4d4d"/><stop offset="0.1818" stop-color="#525252"/><stop offset="0.2273" stop-color="#575757"/><stop offset="0.2727" stop-color="#5d5d5d"/><stop offset="0.3182" stop-color="#646464"/><stop offset="0.3636" stop-color="#717171"/><stop offset="0.4091" stop-color="#acacac"/><stop offset="0.4545" stop-color="#f0f0f0"/><stop offset="0.5" stop-color="#fbfbfb"/><stop offset="0.5455" stop-color="#ffffff"/><stop offset="0.5909" stop-color="#c0c0c0"/><stop offset="0.6364" stop-color="#929292"/><stop offset="0.6818" stop-color="#858585"/><stop offset="0.7273" stop-color="#7b7b7b"/><stop offset="0.7727" stop-color="#727272"/><stop offset="0.8182" stop-color="#6a6a6a"/><stop offset="0.8636" stop-color="#626262"/><stop offset="0.9091" stop-color="#5b5b5b"/><stop offset="0.9545" stop-color="#565656"/><stop offset="1" stop-color="#565656"/></linearGradient><linearGradient id="g109" gradientUnits="userSpaceOnUse" x1="-9.4" x2="197.4" y1="0" y2="0"><stop offset="0" stop-color="#474747"/><stop offset="0.04545" stop-color="#474747"/><stop offset="0.09091" stop-color="#4b4b4b"/><stop offset="0.1364" stop-color="#4f4f4f"/><stop offset="0.1818" stop-color="#535353"/><stop offset="0.2273" stop-color="#585858"/><stop offset="0.2727" stop-color="#5f5f5f"/><stop offset="0.3182" stop-color="#666666"/><stop offset="0.3636" stop-color="#767676"/><stop offset="0.4091" stop-color="#e9e9e9"/><stop offset="0.4545" stop-color="#f2f2f2"/><stop offset="0.5" stop-color="#fbfbfb"/><stop offset="0.5455" stop-color="#ffffff"/><stop offset="0.5909" stop-color="#ececec"/><stop offset="0.6364" stop-color="#919191"/><stop offset="0.6818" stop-color="#828282"/><stop offset="0.7273" stop-color="#787878"/><stop offset="0.7727" stop-color="#6f6f6f"/><stop offset="0.8182" stop-color="#676767"/><stop offset="0.8636" stop-color="#606060"/><stop offset="0.9091" stop-color="#595959"/><stop offset="0.9545" stop-color="#555555"/><stop offset="1" stop-color="#555555"/></linearGradient><linearGradient id="g110" gradientUnits="userSpaceOnUse" x1="-9.4" x2="197.4" y1="0" y2="0"><stop offset="0" stop-color="#494949"/><stop offset="0.04545" stop-color="#494949"/><stop offset="0.09091" stop-color="#4c4c4c"/><stop offset="0.1364" stop-color="#505050"/><stop offset="0.1818" stop-color="#545454"/><stop offset="0.2273" stop-color="#595959"/><stop offset="0.2727" stop-color="#5f5f5f"/><stop offset="0.3182" stop-color="#686868"/><stop offset="0.3636" stop-color="#7b7b7b"/><stop offset="0.4091" stop-color="#ebebeb"/><stop offset="0.4545" stop-color="#f3f3f3"/><stop offset="0.5" stop-color="#fafafa"/><stop offset="0.5455" stop-color="#fefefe"/><stop offset="0.5909" stop-color="#fefefe"/><stop offset="0.6364" stop-color="#8f8f8f"/><stop offset="0.6818" stop-color="#7e7e7e"/><stop offset="0.7273" stop-color="#747474"/><stop offset="0.7727" stop-color="#6c6c6c"/><stop offset="0.8182" stop-color="#646464"/><stop offset="0.8636" stop-color="#5e5e5e"/><stop offset="0.9091" stop-color="#585858"/><stop offset="0.9545" stop-color="#545454"/><stop offset="1" stop-color="#545454"/></linearGradient><linearGradient id="g111" gradientUnits="userSpaceOnUse" x1="-9.4" x2="197.4" y1="0" y2="0"><stop offset="0" stop-color="#494949"/><stop offset="0.04545" stop-color="#494949"/><stop offset="0.09091" stop-color="#4d4d4d"/><stop offset="0.1364" stop-color="#505050"/><stop offset="0.1818" stop-color="#545454"/><stop offset="0.2273" stop-color="#595959"/><stop offset="0.2727" stop-color="#5f5f5f"/><stop offset="0.3182" stop-color="#696969"/><stop offset="0.3636" stop-color="#7c7c7c"/><stop offset="0.4091" stop-color="#ececec"/><stop offset="0.4545" stop-color="#f1f1f1"/><stop offset="0.5" stop-color="#d8d8d8"/><stop offset="0.5455" stop-color="#f9f9f9"/><stop offset="0.5909" stop-color="#fafafa"/><stop offset="0.6364" stop-color="#8b8b8b"/><stop offset="0.6818" stop-color="#7a7a7a"/><stop offset="0.7273" stop-color="#717171"/><stop offset="0.7727" stop-color="#696969"/><stop offset="0.8182" stop-color="#626262"/><stop offset="0.8636" stop-color="#5b5b5b"/><stop offset="0.9091" stop-color="#565656"/><stop offset="0.9545" stop-color="#535353"/><stop offset="1" stop-color="#535353"/></linearGradient><linearGradient id="g112" gradientUnits="userSpaceOnUse" x1="-9.4" x2="197.4" y1="0" y2="0"><stop offset="0" stop-color="#494949"/><stop offset="0.04545" stop-color="#494949"/><stop offset="0.09091" stop-color="#4d4d4d"/><stop offset="0.1364" stop-color="#505050"/><stop offset="0.1818" stop-color="#535353"/><stop offset="0.2273" stop-color="#585858"/><stop offset="0.2727" stop-color="#5e5e5e"/><stop offset="0.3182" stop-color="#686868"/><stop offset="0.3636" stop-color="#797979"/><stop offset="0.4091" stop-color="#e9e9e9"/><stop offset="0.4545" stop-color="#e5e5e5"/><stop offset="0.5" stop-color="#d5d5d5"/><stop offset="0.5455" stop-color="#ececec"/><stop offset="0.5909" stop-color="#e0e0e0"/><stop offset="0.6364" stop-color="#848484"/><stop offset="0.6818" stop-color="#767676"/><stop offset="0.7273" stop-color="#6d6d6d"/><stop offset="0.7727" stop-color="#656565"/><stop offset="0.8182" stop-color="#5f5f5f"/><stop offset="0.8636" stop-color="#595959"/><stop offset="0.9091" stop-color="#555555"/><stop offset="0.9545" stop-color="#515151"/><stop offset="1" stop-color="#515151"/></linearGradient><linearGradient id="g113" gradientUnits="userSpaceOnUse" x1="-9.4" x2="197.4" y1="0" y2="0"><stop offset="0" stop-color="#484848"/><stop offset="0.04545" stop-color="#484848"/><stop offset="0.09091" stop-color="#4c4c4c"/><stop offset="0.1364" stop-color="#4f4f4f"/><stop offset="0.1818" stop-color="#525252"/><stop offset="0.2273" stop-color="#565656"/><stop offset="0.2727" stop-color="#5c5c5c"/><stop offset="0.3182" stop-color="#666666"/><stop offset="0.3636" stop-color="#747474"/><stop offset="0.4091" stop-color="#ababab"/><stop offset="0.4545" stop-color="#dbdbdb"/><stop offset="0.5" stop-color="#d1d1d1"/><stop offset="0.5455" stop-color="#e0e0e0"/><stop offset="0.5909" stop-color="#a8a8a8"/><stop offset="0.6364" stop-color="#7c7c7c"/><stop offset="0.6818" stop-color="#717171"/><stop offset="0.7273" stop-color="#686868"/><stop offset="0.7727" stop-color="#616161"/><stop offset="0.8182" stop-color="#5b5b5b"/><stop offset="0.8636" stop-color="#575757"/><stop offset="0.9091" stop-color="#535353"/><stop offset="0.9545" stop-color="#505050"/><stop offset="1" stop-color="#505050"/></linearGradient><linearGradient id="g114" gradientUnits="userSpaceOnUse" x1="-9.4" x2="197.4" y1="0" y2="0"><stop offset="0" stop-color="#474747"/><stop offset="0.04545" stop-color="#474747"/><stop offset="0.09091" stop-color="#4b4b4b"/><stop offset="0.1364" stop-color="#4d4d4d"/><stop offset="0.1818" stop-color="#505050"/><stop offset="0.2273" stop-color="#545454"/><stop offset="0.2727" stop-color="#5a5a5a"/><stop offset="0.3182" stop-color="#636363"/><stop offset="0.3636" stop-color="#6e6e6e"/><stop offset="0.4091" stop-color="#838383"/><stop offset="0.4545" stop-color="#d4d4d4"/><stop offset="0.5" stop-color="#cecece"/><stop offset="0.5455" stop-color="#d7d7d7"/><stop offset="0.5909" stop-color="#848484"/><stop offset="0.6364" stop-color="#747474"/><stop offset="0.6818" stop-color="#6b6b6b"/><stop offset="0.7273" stop-color="#636363"/><stop offset="0.7727" stop-color="#5c5c5c"/><stop offset="0.8182" stop-color="#585858"/><stop offset="0.8636" stop-color="#545454"/><stop offset="0.9091" stop-color="#515151"/><stop offset="0.9545" stop-color="#4e4e4e"/><stop offset="1" stop-color="#4e4e4e"/></linearGradient><linearGradient id="g115" gradientUnits="userSpaceOnUse" x1="-9.4" x2="197.4" y1="0" y2="0"><stop offset="0" stop-color="#464646"/><stop offset="0.04545" stop-color="#464646"/><stop offset="0.09091" stop-color="#4a4a4a"/><stop offset="0.1364" stop-color="#4c4c4c"/><stop offset="0.1818" stop-color="#4e4e4e"/><stop offset="0.2273" stop-color="#525252"/><stop offset="0.2727" stop-color="#575757"/><stop offset="0.3182" stop-color="#606060"/><stop offset="0.3636" stop-color="#686868"/><stop offset="0.4091" stop-color="#6f6f6f"/><stop offset="0.4545" stop-color="#7f7f7f"/><stop offset="0.5" stop-color="#909090"/><stop offset="0.5455" stop-color="#7e7e7e"/><stop offset="0.5909" stop-color="#707070"/><stop offset="0.6364" stop-color="#6c6c6c"/><stop offset="0.6818" stop-color="#656565"/><stop offset="0.7273" stop-color="#5d5d5d"/><stop offset="0.7727" stop-color="#585858"/><stop offset="0.8182" stop-color="#545454"/><stop offset="0.8636" stop-color="#515151"/><stop offset="0.9091" stop-color="#4f4f4f"/><stop offset="0.9545" stop-color="#4b4b4b"/><stop offset="1" stop-color="#4b4b4b"/></linearGradient><linearGradient id="g116" gradientUnits="userSpaceOnUse" x1="-9.4" x2="197.4" y1="0" y2="0"><stop offset="0" stop-color="#454545"/><stop offset="0.04545" stop-color="#454545"/><stop offset="0.09091" stop-color="#494949"/><stop offset="0.1364" stop-color="#4b4b4b"/><stop offset="0.1818" stop-color="#4d4d4d"/><stop offset="0.2273" stop-color="#505050"/><stop offset="0.2727" stop-color="#555555"/><stop offset="0.3182" stop-color="#5c5c5c"/><stop offset="0.3636" stop-color="#626262"/><stop offset="0.4091" stop-color="#646464"/><stop offset="0.4545" stop-color="#646464"/><stop offset="0.5" stop-color="#646464"/><stop offset="0.5455" stop-color="#646464"/><stop offset="0.5909" stop-color="#656565"/><stop offset="0.6364" stop-color="#646464"/><stop offset="0.6818" stop-color="#5e5e5e"/><stop offset="0.7273" stop-color="#575757"/><stop offset="0.7727" stop-color="#525252"/><stop offset="0.8182" stop-color="#4f4f4f"/><stop offset="0.8636" stop-color="#4e4e4e"/><stop offset="0.9091" stop-color="#4c4c4c"/><stop offset="0.9545" stop-color="#484848"/><stop offset="1" stop-color="#484848"/></linearGradient><linearGradient id="g117" gradientUnits="userSpaceOnUse" x1="-9.4" x2="197.4" y1="0" y2="0"><stop offset="0" stop-color="#454545"/><stop offset="0.04545" stop-color="#454545"/><stop offset="0.09091" stop-color="#484848"/><stop offset="0.1364" stop-color="#4a4a4a"/><stop offset="0.1818" stop-color="#4c4c4c"/><stop offset="0.2273" stop-color="#4f4f4f"/><stop offset="0.2727" stop-color="#535353"/><stop offset="0.3182" stop-color="#585858"/><stop offset="0.3636" stop-color="#5c5c5c"/><stop offset="0.4091" stop-color="#5d5d5d"/><stop offset="0.4545" stop-color="#5a5a5a"/><stop offset="0.5" stop-color="#585858"/><stop offset="0.5455" stop-color="#595959"/><stop offset="0.5909" stop-color="#5c5c5c"/><stop offset="0.6364" stop-color="#5b5b5b"/><stop offset="0.6818" stop-color="#575757"/><stop offset="0.7273" stop-color="#515151"/><stop offset="0.7727" stop-color="#4d4d4d"/><stop offset="0.8182" stop-color="#4b4b4b"/><stop offset="0.8636" stop-color="#494949"/><stop offset="0.9091" stop-color="#484848"/><stop offset="0.9545" stop-color="#454545"/><stop offset="1" stop-color="#454545"/></linearGradient><linearGradient id="g118" gradientUnits="userSpaceOnUse" x1="-9.4" x2="197.4" y1="0" y2="0"><stop offset="0" stop-color="#454545"/><stop offset="0.04545" stop-color="#454545"/><stop offset="0.09091" stop-color="#474747"/><stop offset="0.1364" stop-color="#494949"/><stop offset="0.1818" stop-color="#4b4b4b"/><stop offset="0.2273" stop-color="#4d4d4d"/><stop offset="0.2727" stop-color="#505050"/><stop offset="0.3182" stop-color="#545454"/><stop offset="0.3636" stop-color="#575757"/><stop offset="0.4091" stop-color="#575757"/><stop offset="0.4545" stop-color="#545454"/><stop offset="0.5" stop-color="#525252"/><stop offset="0.5455" stop-color="#535353"/><stop offset="0.5909" stop-color="#545454"/><stop offset="0.6364" stop-color="#535353"/><stop offset="0.6818" stop-color="#4f4f4f"/><stop offset="0.7273" stop-color="#4b4b4b"/><stop offset="0.7727" stop-color="#484848"/><stop offset="0.8182" stop-color="#464646"/><stop offset="0.8636" stop-color="#454545"/><stop offset="0.9091" stop-color="#444444"/><stop offset="0.9545" stop-color="#424242"/><stop offset="1" stop-color="#424242"/></linearGradient><linearGradient id="g119" gradientUnits="userSpaceOnUse" x1="-9.4" x2="197.4" y1="0" y2="0"><stop offset="0" stop-color="#454545"/><stop offset="0.04545" stop-color="#454545"/><stop offset="0.09091" stop-color="#474747"/><stop offset="0.1364" stop-color="#484848"/><stop offset="0.1818" stop-color="#4a4a4a"/><stop offset="0.2273" stop-color="#4c4c4c"/><stop offset="0.2727" stop-color="#4e4e4e"/><stop offset="0.3182" stop-color="#505050"/><stop offset="0.3636" stop-color="#515151"/><stop offset="0.4091" stop-color="#515151"/><stop offset="0.4545" stop-color="#4f4f4f"/><stop offset="0.5" stop-color="#4d4d4d"/><stop offset="0.5455" stop-color="#4d4d4d"/><stop offset="0.5909" stop-color="#4d4d4d"/><stop offset="0.6364" stop-color="#4c4c4c"/><stop offset="0.6818" stop-color="#494949"/><stop offset="0.7273" stop-color="#464646"/><stop offset="0.7727" stop-color="#434343"/><stop offset="0.8182" stop-color="#424242"/><stop offset="0.8636" stop-color="#414141"/><stop offset="0.9091" stop-color="#404040"/><stop offset="0.9545" stop-color="#3e3e3e"/><stop offset="1" stop-color="#3e3e3e"/></linearGradient><linearGradient id="g120" gradientUnits="userSpaceOnUse" x1="-9.4" x2="197.4" y1="0" y2="0"><stop offset="0" stop-color="#454545"/><stop offset="0.04545" stop-color="#454545"/><stop offset="0.09091" stop-color="#464646"/><stop offset="0.1364" stop-color="#474747"/><stop offset="0.1818" stop-color="#494949"/><stop offset="0.2273" stop-color="#4b4b4b"/><stop offset="0.2727" stop-color="#4c4c4c"/><stop offset="0.3182" stop-color="#4c4c4c"/><stop offset="0.3636" stop-color="#4c4c4c"/><stop offset="0.4091" stop-color="#4c4c4c"/><stop offset="0.4545" stop-color="#4b4b4b"/><stop offset="0.5" stop-color="#4a4a4a"/><stop offset="0.5455" stop-color="#494949"/><stop offset="0.5909" stop-color="#474747"/><stop offset="0.6364" stop-color="#464646"/><stop offset="0.6818" stop-color="#434343"/><stop offset="0.7273" stop-color="#414141"/><stop offset="0.7727" stop-color="#3f3f3f"/><stop offset="0.8182" stop-color="#3e3e3e"/><stop offset="0.8636" stop-color="#3d3d3d"/><stop offset="0.9091" stop-color="#3c3c3c"/><stop offset="0.9545" stop-color="#3b3b3b"/><stop offset="1" stop-color="#3b3b3b"/></linearGradient><linearGradient id="g121" gradientUnits="userSpaceOnUse" x1="-9.4" x2="197.4" y1="0" y2="0"><stop offset="0" stop-color="#444444"/><stop offset="0.04545" stop-color="#444444"/><stop offset="0.09091" stop-color="#454545"/><stop offset="0.1364" stop-color="#464646"/><stop offset="0.1818" stop-color="#484848"/><stop offset="0.2273" stop-color="#494949"/><stop offset="0.2727" stop-color="#494949"/><stop offset="0.3182" stop-color="#494949"/><stop offset="0.3636" stop-color="#484848"/><stop offset="0.4091" stop-color="#474747"/><stop offset="0.4545" stop-color="#474747"/><stop offset="0.5" stop-color="#474747"/><stop offset="0.5455" stop-color="#454545"/><stop offset="0.5909" stop-color="#434343"/><stop offset="0.6364" stop-color="#414141"/><stop offset="0.6818" stop-color="#3f3f3f"/><stop offset="0.7273" stop-color="#3e3e3e"/><stop offset="0.7727" stop-color="#3c3c3c"/><stop offset="0.8182" stop-color="#3b3b3b"/><stop offset="0.8636" stop-color="#3a3a3a"/><stop offset="0.9091" stop-color="#393939"/><stop offset="0.9545" stop-color="#383838"/><stop offset="1" stop-color="#383838"/></linearGradient><linearGradient id="g122" gradientUnits="userSpaceOnUse" x1="-9.4" x2="197.4" y1="0" y2="0"><stop offset="0" stop-color="#444444"/><stop offset="0.04545" stop-color="#444444"/><stop offset="0.09091" stop-color="#444444"/><stop offset="0.1364" stop-color="#454545"/><stop offset="0.1818" stop-color="#464646"/><stop offset="0.2273" stop-color="#474747"/><stop offset="0.2727" stop-color="#474747"/><stop offset="0.3182" stop-color="#464646"/><stop offset="0.3636" stop-color="#444444"/><stop offset="0.4091" stop-color="#444444"/><stop offset="0.4545" stop-color="#444444"/><stop offset="0.5" stop-color="#444444"/><stop offset="0.5455" stop-color="#434343"/><stop offset="0.5909" stop-color="#414141"/><stop offset="0.6364" stop-color="#3f3f3f"/><stop offset="0.6818" stop-color="#3d3d3d"/><stop offset="0.7273" stop-color="#3b3b3b"/><stop offset="0.7727" stop-color="#3a3a3a"/><stop offset="0.8182" stop-color="#393939"/><stop offset="0.8636" stop-color="#383838"/><stop offset="0.9091" stop-color="#373737"/><stop offset="0.9545" stop-color="#363636"/><stop offset="1" stop-color="#363636"/></linearGradient><linearGradient id="g123" gradientUnits="userSpaceOnUse" x1="-9.4" x2="197.4" y1="0" y2="0"><stop offset="0" stop-color="#434343"/><stop offset="0.04545" stop-color="#434343"/><stop offset="0.09091" stop-color="#434343"/><stop offset="0.1364" stop-color="#444444"/><stop offset="0.1818" stop-color="#444444"/><stop offset="0.2273" stop-color="#444444"/><stop offset="0.2727" stop-color="#444444"/><stop offset="0.3182" stop-color="#424242"/><stop offset="0.3636" stop-color="#414141"/><stop offset="0.4091" stop-color="#414141"/><stop offset="0.4545" stop-color="#414141"/><stop offset="0.5" stop-color="#424242"/><stop offset="0.5455" stop-color="#414141"/><stop offset="0.5909" stop-color="#404040"/><stop offset="0.6364" stop-color="#3e3e3e"/><stop offset="0.6818" stop-color="#3c3c3c"/><stop offset="0.7273" stop-color="#3a3a3a"/><stop offset="0.7727" stop-color="#383838"/><stop offset="0.8182" stop-color="#373737"/><stop offset="0.8636" stop-color="#363636"/><stop offset="0.9091" stop-color="#353535"/><stop offset="0.9545" stop-color="#343434"/><stop offset="1" stop-color="#343434"/></linearGradient><linearGradient id="g124" gradientUnits="userSpaceOnUse" x1="-9.4" x2="197.4" y1="0" y2="0"><stop offset="0" stop-color="#424242"/><stop offset="0.04545" stop-color="#424242"/><stop offset="0.09091" stop-color="#424242"/><stop offset="0.1364" stop-color="#434343"/><stop offset="0.1818" stop-color="#434343"/><stop offset="0.2273" stop-color="#424242"/><stop offset="0.2727" stop-color="#414141"/><stop offset="0.3182" stop-color="#404040"/><stop offset="0.3636" stop-color="#3f3f3f"/><stop offset="0.4091" stop-color="#3f3f3f"/><stop offset="0.4545" stop-color="#404040"/><stop offset="0.5" stop-color="#414141"/><stop offset="0.5455" stop-color="#414141"/><stop offset="0.5909" stop-color="#404040"/><stop offset="0.6364" stop-color="#3e3e3e"/><stop offset="0.6818" stop-color="#3c3c3c"/><stop offset="0.7273" stop-color="#3a3a3a"/><stop offset="0.7727" stop-color="#373737"/><stop offset="0.8182" stop-color="#363636"/><stop offset="0.8636" stop-color="#343434"/><stop offset="0.9091" stop-color="#333333"/><stop offset="0.9545" stop-color="#323232"/><stop offset="1" stop-color="#323232"/></linearGradient><linearGradient id="g125" gradientUnits="userSpaceOnUse" x1="-9.4" x2="197.4" y1="0" y2="0"><stop offset="0" stop-color="#414141"/><stop offset="0.04545" stop-color="#414141"/><stop offset="0.09091" stop-color="#424242"/><stop offset="0.1364" stop-color="#424242"/><stop offset="0.1818" stop-color="#414141"/><stop offset="0.2273" stop-color="#404040"/><stop offset="0.2727" stop-color="#3f3f3f"/><stop offset="0.3182" stop-color="#3e3e3e"/><stop offset="0.3636" stop-color="#3d3d3d"/><stop offset="0.4091" stop-color="#3d3d3d"/><stop offset="0.4545" stop-color="#3f3f3f"/><stop offset="0.5" stop-color="#404040"/><stop offset="0.5455" stop-color="#414141"/><stop offset="0.5909" stop-color="#414141"/><stop offset="0.6364" stop-color="#3f3f3f"/><stop offset="0.6818" stop-color="#3d3d3d"/><stop offset="0.7273" stop-color="#3a3a3a"/><stop offset="0.7727" stop-color="#373737"/><stop offset="0.8182" stop-color="#353535"/><stop offset="0.8636" stop-color="#333333"/><stop offset="0.9091" stop-color="#323232"/><stop offset="0.9545" stop-color="#313131"/><stop offset="1" stop-color="#313131"/></linearGradient><linearGradient id="g126" gradientUnits="userSpaceOnUse" x1="-9.4" x2="197.4" y1="0" y2="0"><stop offset="0" stop-color="#414141"/><stop offset="0.04545" stop-color="#414141"/><stop offset="0.09091" stop-color="#414141"/><stop offset="0.1364" stop-color="#414141"/><stop offset="0.1818" stop-color="#404040"/><stop offset="0.2273" stop-color="#3f3f3f"/><stop offset="0.2727" stop-color="#3d3d3d"/><stop offset="0.3182" stop-color="#3c3c3c"/><stop offset="0.3636" stop-color="#3c3c3c"/><stop offset="0.4091" stop-color="#3d3d3d"/><stop offset="0.4545" stop-color="#3f3f3f"/><stop offset="0.5" stop-color="#414141"/><stop offset="0.5455" stop-color="#424242"/><stop offset="0.5909" stop-color="#434343"/><stop offset="0.6364" stop-color="#414141"/><stop offset="0.6818" stop-color="#3e3e3e"/><stop offset="0.7273" stop-color="#3a3a3a"/><stop offset="0.7727" stop-color="#373737"/><stop offset="0.8182" stop-color="#353535"/><stop offset="0.8636" stop-color="#333333"/><stop offset="0.9091" stop-color="#313131"/><stop offset="0.9545" stop-color="#303030"/><stop offset="1" stop-color="#303030"/></linearGradient><linearGradient id="g127" gradientUnits="userSpaceOnUse" x1="-9.4" x2="197.4" y1="0" y2="0"><stop offset="0" stop-color="#404040"/><stop offset="0.04545" stop-color="#404040"/><stop offset="0.09091" stop-color="#414141"/><stop offset="0.1364" stop-color="#404040"/><stop offset="0.1818" stop-color="#3f3f3f"/><stop offset="0.2273" stop-color="#3d3d3d"/><stop offset="0.2727" stop-color="#3c3c3c"/><stop offset="0.3182" stop-color="#3c3c3c"/><stop offset="0.3636" stop-color="#3c3c3c"/><stop offset="0.4091" stop-color="#3d3d3d"/><stop offset="0.4545" stop-color="#404040"/><stop offset="0.5" stop-color="#424242"/><stop offset="0.5455" stop-color="#444444"/><stop offset="0.5909" stop-color="#454545"/><stop offset="0.6364" stop-color="#434343"/><stop offset="0.6818" stop-color="#3f3f3f"/><stop offset="0.7273" stop-color="#3b3b3b"/><stop offset="0.7727" stop-color="#373737"/><stop offset="0.8182" stop-color="#343434"/><stop offset="0.8636" stop-color="#323232"/><stop offset="0.9091" stop-color="#303030"/><stop offset="0.9545" stop-color="#2f2f2f"/><stop offset="1" stop-color="#2f2f2f"/></linearGradient><linearGradient id="g128" gradientUnits="userSpaceOnUse" x1="-9.4" x2="197.4" y1="0" y2="0"><stop offset="0" stop-color="#404040"/><stop offset="0.04545" stop-color="#404040"/><stop offset="0.09091" stop-color="#414141"/><stop offset="0.1364" stop-color="#404040"/><stop offset="0.1818" stop-color="#3f3f3f"/><stop offset="0.2273" stop-color="#3d3d3d"/><stop offset="0.2727" stop-color="#3c3c3c"/><stop offset="0.3182" stop-color="#3c3c3c"/><stop offset="0.3636" stop-color="#3d3d3d"/><stop offset="0.4091" stop-color="#3f3f3f"/><stop offset="0.4545" stop-color="#424242"/><stop offset="0.5" stop-color="#444444"/><stop offset="0.5455" stop-color="#474747"/><stop offset="0.5909" stop-color="#484848"/><stop offset="0.6364" stop-color="#464646"/><stop offset="0.6818" stop-color="#414141"/><stop offset="0.7273" stop-color="#3c3c3c"/><stop offset="0.7727" stop-color="#383838"/><stop offset="0.8182" stop-color="#343434"/><stop offset="0.8636" stop-color="#323232"/><stop offset="0.9091" stop-color="#303030"/><stop offset="0.9545" stop-color="#2e2e2e"/><stop offset="1" stop-color="#2e2e2e"/></linearGradient><linearGradient id="g129" gradientUnits="userSpaceOnUse" x1="-9.4" x2="197.4" y1="0" y2="0"><stop offset="0" stop-color="#414141"/><stop offset="0.04545" stop-color="#414141"/><stop offset="0.09091" stop-color="#414141"/><stop offset="0.1364" stop-color="#404040"/><stop offset="0.1818" stop-color="#3f3f3f"/><stop offset="0.2273" stop-color="#3e3e3e"/><stop offset="0.2727" stop-color="#3d3d3d"/><stop offset="0.3182" stop-color="#3d3d3d"/><stop offset="0.3636" stop-color="#3f3f3f"/><stop offset="0.4091" stop-color="#424242"/><stop offset="0.4545" stop-color="#454545"/><stop offset="0.5" stop-color="#484848"/><stop offset="0.5455" stop-color="#4a4a4a"/><stop offset="0.5909" stop-color="#4b4b4b"/><stop offset="0.6364" stop-color="#484848"/><stop offset="0.6818" stop-color="#424242"/><stop offset="0.7273" stop-color="#3d3d3d"/><stop offset="0.7727" stop-color="#383838"/><stop offset="0.8182" stop-color="#343434"/><stop offset="0.8636" stop-color="#323232"/><stop offset="0.9091" stop-color="#303030"/><stop offset="0.9545" stop-color="#2e2e2e"/><stop offset="1" stop-color="#2e2e2e"/></linearGradient><linearGradient id="g130" gradientUnits="userSpaceOnUse" x1="-9.4" x2="197.4" y1="0" y2="0"><stop offset="0" stop-color="#414141"/><stop offset="0.04545" stop-color="#414141"/><stop offset="0.09091" stop-color="#424242"/><stop offset="0.1364" stop-color="#414141"/><stop offset="0.1818" stop-color="#404040"/><stop offset="0.2273" stop-color="#3e3e3e"/><stop offset="0.2727" stop-color="#3e3e3e"/><stop offset="0.3182" stop-color="#3f3f3f"/><stop offset="0.3636" stop-color="#414141"/><stop offset="0.4091" stop-color="#444444"/><stop offset="0.4545" stop-color="#484848"/><stop offset="0.5" stop-color="#4b4b4b"/><stop offset="0.5455" stop-color="#4d4d4d"/><stop offset="0.5909" stop-color="#4d4d4d"/><stop offset="0.6364" stop-color="#494949"/><stop offset="0.6818" stop-color="#434343"/><stop offset="0.7273" stop-color="#3d3d3d"/><stop offset="0.7727" stop-color="#383838"/><stop offset="0.8182" stop-color="#343434"/><stop offset="0.8636" stop-color="#323232"/><stop offset="0.9091" stop-color="#303030"/><stop offset="0.9545" stop-color="#2d2d2d"/><stop offset="1" stop-color="#2d2d2d"/></linearGradient><linearGradient id="g131" gradientUnits="userSpaceOnUse" x1="-9.4" x2="197.4" y1="0" y2="0"><stop offset="0" stop-color="#414141"/><stop offset="0.04545" stop-color="#414141"/><stop offset="0.09091" stop-color="#424242"/><stop offset="0.1364" stop-color="#414141"/><stop offset="0.1818" stop-color="#404040"/><stop offset="0.2273" stop-color="#3e3e3e"/><stop offset="0.2727" stop-color="#3e3e3e"/><stop offset="0.3182" stop-color="#3f3f3f"/><stop offset="0.3636" stop-color="#414141"/><stop offset="0.4091" stop-color="#444444"/><stop offset="0.4545" stop-color="#484848"/><stop offset="0.5" stop-color="#4b4b4b"/><stop offset="0.5455" stop-color="#4d4d4d"/><stop offset="0.5909" stop-color="#4d4d4d"/><stop offset="0.6364" stop-color="#494949"/><stop offset="0.6818" stop-color="#434343"/><stop offset="0.7273" stop-color="#3d3d3d"/><stop offset="0.7727" stop-color="#383838"/><stop offset="0.8182" stop-color="#343434"/><stop offset="0.8636" stop-color="#323232"/><stop offset="0.9091" stop-color="#303030"/><stop offset="0.9545" stop-color="#2d2d2d"/><stop offset="1" stop-color="#2d2d2d"/></linearGradient><linearGradient id="g132" gradientUnits="userSpaceOnUse" x1="-9.4" x2="197.4" y1="0" y2="0"><stop offset="0" stop-color="#414141"/><stop offset="0.04545" stop-color="#414141"/><stop offset="0.09091" stop-color="#424242"/><stop offset="0.1364" stop-color="#414141"/><stop offset="0.1818" stop-color="#404040"/><stop offset="0.2273" stop-color="#3e3e3e"/><stop offset="0.2727" stop-color="#3e3e3e"/><stop offset="0.3182" stop-color="#3f3f3f"/><stop offset="0.3636" stop-color="#414141"/><stop offset="0.4091" stop-color="#444444"/><stop offset="0.4545" stop-color="#484848"/><stop offset="0.5" stop-color="#4b4b4b"/><stop offset="0.5455" stop-color="#4d4d4d"/><stop offset="0.5909" stop-color="#4d4d4d"/><stop offset="0.6364" stop-color="#494949"/><stop offset="0.6818" stop-color="#434343"/><stop offset="0.7273" stop-color="#3d3d3d"/><stop offset="0.7727" stop-color="#383838"/><stop offset="0.8182" stop-color="#343434"/><stop offset="0.8636" stop-color="#323232"/><stop offset="0.9091" stop-color="#303030"/><stop offset="0.9545" stop-color="#2d2d2d"/><stop offset="1" stop-color="#2d2d2d"/></linearGradient><radialGradient id="g4"><stop offset="0" stop-color="#c8c8c8" stop-opacity="1"/><stop offset="0.393443" stop-color="#c2c2c2" stop-opacity="1"/><stop offset="0.57377" stop-color="#b8b8b8" stop-opacity="0.95"/><stop offset="0.721311" stop-color="#a9a9a9" stop-opacity="0.8"/><stop offset="0.852459" stop-color="#9d9d9d" stop-opacity="0.5"/><stop offset="1" stop-color="#989898" stop-opacity="0"/></radialGradient><radialGradient id="g5" fx="0.5" fy="0.397"><stop offset="0" stop-color="#e9e9e9" stop-opacity="1"/><stop offset="0.416667" stop-color="#dedede" stop-opacity="1"/><stop offset="0.791667" stop-color="#cbcbcb" stop-opacity="1"/><stop offset="0.908333" stop-color="#bfbfbf" stop-opacity="1"/><stop offset="0.95" stop-color="#bcbcbc" stop-opacity="0.8"/><stop offset="0.979167" stop-color="#bababa" stop-opacity="0.35"/><stop offset="1" stop-color="#b9b9b9" stop-opacity="0"/></radialGradient><clipPath id="cpc"><rect x="0" y="0" width="188" height="191.1"/></clipPath></defs>
<g transform="translate(31.2 292.05)"><g clip-path="url(#cpc)"><g filter="url(#cm)">
<g filter="url(#bl)">
<rect x="-9.4" y="-5" width="206.8" height="5.6" fill="url(#g91)"/>
<rect x="-9.4" y="0" width="206.8" height="5.6" fill="url(#g92)"/>
<rect x="-9.4" y="5" width="206.8" height="5.6" fill="url(#g93)"/>
<rect x="-9.4" y="10" width="206.8" height="5.6" fill="url(#g94)"/>
<rect x="-9.4" y="15" width="206.8" height="5.6" fill="url(#g95)"/>
<rect x="-9.4" y="20" width="206.8" height="5.6" fill="url(#g96)"/>
<rect x="-9.4" y="25" width="206.8" height="5.6" fill="url(#g97)"/>
<rect x="-9.4" y="30" width="206.8" height="5.6" fill="url(#g98)"/>
<rect x="-9.4" y="35" width="206.8" height="5.6" fill="url(#g99)"/>
<rect x="-9.4" y="40" width="206.8" height="5.6" fill="url(#g100)"/>
<rect x="-9.4" y="45" width="206.8" height="5.6" fill="url(#g101)"/>
<rect x="-9.4" y="50" width="206.8" height="5.6" fill="url(#g102)"/>
<rect x="-9.4" y="55" width="206.8" height="5.6" fill="url(#g103)"/>
<rect x="-9.4" y="60" width="206.8" height="5.6" fill="url(#g104)"/>
<rect x="-9.4" y="65" width="206.8" height="5.6" fill="url(#g105)"/>
<rect x="-9.4" y="70" width="206.8" height="5.6" fill="url(#g106)"/>
<rect x="-9.4" y="75" width="206.8" height="5.6" fill="url(#g107)"/>
<rect x="-9.4" y="80" width="206.8" height="5.6" fill="url(#g108)"/>
<rect x="-9.4" y="85" width="206.8" height="5.6" fill="url(#g109)"/>
<rect x="-9.4" y="90" width="206.8" height="5.6" fill="url(#g110)"/>
<rect x="-9.4" y="95" width="206.8" height="5.6" fill="url(#g111)"/>
<rect x="-9.4" y="100" width="206.8" height="5.6" fill="url(#g112)"/>
<rect x="-9.4" y="105" width="206.8" height="5.6" fill="url(#g113)"/>
<rect x="-9.4" y="110" width="206.8" height="5.6" fill="url(#g114)"/>
<rect x="-9.4" y="115" width="206.8" height="5.6" fill="url(#g115)"/>
<rect x="-9.4" y="120" width="206.8" height="5.6" fill="url(#g116)"/>
<rect x="-9.4" y="125" width="206.8" height="5.6" fill="url(#g117)"/>
<rect x="-9.4" y="130" width="206.8" height="5.6" fill="url(#g118)"/>
<rect x="-9.4" y="135" width="206.8" height="5.6" fill="url(#g119)"/>
<rect x="-9.4" y="140" width="206.8" height="5.6" fill="url(#g120)"/>
<rect x="-9.4" y="145" width="206.8" height="5.6" fill="url(#g121)"/>
<rect x="-9.4" y="150" width="206.8" height="5.6" fill="url(#g122)"/>
<rect x="-9.4" y="155" width="206.8" height="5.6" fill="url(#g123)"/>
<rect x="-9.4" y="160" width="206.8" height="5.6" fill="url(#g124)"/>
<rect x="-9.4" y="165" width="206.8" height="5.6" fill="url(#g125)"/>
<rect x="-9.4" y="170" width="206.8" height="5.6" fill="url(#g126)"/>
<rect x="-9.4" y="175" width="206.8" height="5.6" fill="url(#g127)"/>
<rect x="-9.4" y="180" width="206.8" height="5.6" fill="url(#g128)"/>
<rect x="-9.4" y="185" width="206.8" height="5.6" fill="url(#g129)"/>
<rect x="-9.4" y="190" width="206.8" height="5.6" fill="url(#g130)"/>
<rect x="-9.4" y="195" width="206.8" height="5.6" fill="url(#g131)"/>
<rect x="-9.4" y="200" width="206.8" height="5.6" fill="url(#g132)"/>
</g>
<ellipse cx="100.8" cy="89.25" rx="30.5" ry="25" fill="url(#g4)" transform="rotate(-42 100.8 89.25)"/>
<ellipse cx="96" cy="93.25" rx="24" ry="24.3" fill="url(#g5)"/>
</g></g>
<ellipse cx="93.6" cy="95.15" rx="23.5" ry="23.8" fill="none" stroke="#141414" stroke-width="1.15" stroke-dasharray="3.6 2.34"/>
</g>
<g stroke="#151515" stroke-width="1.05" fill="none">
<path stroke-width="0.6" d="M31.2 292.05V483.15H219.2"/>
<path d="M31.2 292.05h-3.6M31.2 483.15v3.2M31.2 315.94h-1.9M54.7 483.15v1.7M31.2 339.82h-3.6M78.2 483.15v3.2M31.2 363.71h-1.9M101.7 483.15v1.7M31.2 387.6h-3.6M125.2 483.15v3.2M31.2 411.49h-1.9M148.7 483.15v1.7M31.2 435.38h-3.6M172.2 483.15v3.2M31.2 459.26h-1.9M195.7 483.15v1.7M31.2 483.15h-3.6M219.2 483.15v3.2"/>
</g>
<g class="tk">
<text x="24.9" y="294.45" text-anchor="end">20</text>
<text x="24.9" y="342.22" text-anchor="end">10</text>
<text x="24.9" y="390" text-anchor="end">0</text>
<text x="24.9" y="437.77" text-anchor="end">-10</text>
<text x="24.9" y="485.55" text-anchor="end">-20</text>
<text x="31.2" y="495.15" text-anchor="middle">-20</text>
<text x="78.2" y="495.15" text-anchor="middle">-10</text>
<text x="125.2" y="495.15" text-anchor="middle">0</text>
<text x="172.2" y="495.15" text-anchor="middle">10</text>
<text x="219.2" y="495.15" text-anchor="middle">20</text>
</g>
<text class="ax" x="125.2" y="509.7" text-anchor="middle">X (mm)</text>
<text class="ax" x="10.2" y="387.6" text-anchor="middle" transform="rotate(-90 10.2 387.6)">Y (mm)</text>
<text class="an" x="170.3" y="308.45">A= 10 mm</text>
<text class="an" x="170.3" y="320.05">T= 10 mm</text>
<text class="cap" x="119.9" y="564.2" text-anchor="middle" style="letter-spacing:0">(c)</text>
<defs><linearGradient id="g133" gradientUnits="userSpaceOnUse" x1="-9.4" x2="197.4" y1="0" y2="0"><stop offset="0" stop-color="#000000"/><stop offset="0.04545" stop-color="#000000"/><stop offset="0.09091" stop-color="#020202"/><stop offset="0.1364" stop-color="#070707"/><stop offset="0.1818" stop-color="#0b0b0b"/><stop offset="0.2273" stop-color="#0f0f0f"/><stop offset="0.2727" stop-color="#131313"/><stop offset="0.3182" stop-color="#171717"/><stop offset="0.3636" stop-color="#1b1b1b"/><stop offset="0.4091" stop-color="#1f1f1f"/><stop offset="0.4545" stop-color="#222222"/><stop offset="0.5" stop-color="#262626"/><stop offset="0.5455" stop-color="#282828"/><stop offset="0.5909" stop-color="#2b2b2b"/><stop offset="0.6364" stop-color="#2c2c2c"/><stop offset="0.6818" stop-color="#2c2c2c"/><stop offset="0.7273" stop-color="#2c2c2c"/><stop offset="0.7727" stop-color="#2d2d2d"/><stop offset="0.8182" stop-color="#2e2e2e"/><stop offset="0.8636" stop-color="#2f2f2f"/><stop offset="0.9091" stop-color="#2f2f2f"/><stop offset="0.9545" stop-color="#2f2f2f"/><stop offset="1" stop-color="#2f2f2f"/></linearGradient><linearGradient id="g134" gradientUnits="userSpaceOnUse" x1="-9.4" x2="197.4" y1="0" y2="0"><stop offset="0" stop-color="#000000"/><stop offset="0.04545" stop-color="#000000"/><stop offset="0.09091" stop-color="#040404"/><stop offset="0.1364" stop-color="#080808"/><stop offset="0.1818" stop-color="#0c0c0c"/><stop offset="0.2273" stop-color="#101010"/><stop offset="0.2727" stop-color="#141414"/><stop offset="0.3182" stop-color="#181818"/><stop offset="0.3636" stop-color="#1c1c1c"/><stop offset="0.4091" stop-color="#1f1f1f"/><stop offset="0.4545" stop-color="#232323"/><stop offset="0.5" stop-color="#262626"/><stop offset="0.5455" stop-color="#292929"/><stop offset="0.5909" stop-color="#2b2b2b"/><stop offset="0.6364" stop-color="#2d2d2d"/><stop offset="0.6818" stop-color="#2e2e2e"/><stop offset="0.7273" stop-color="#2e2e2e"/><stop offset="0.7727" stop-color="#2f2f2f"/><stop offset="0.8182" stop-color="#303030"/><stop offset="0.8636" stop-color="#313131"/><stop offset="0.9091" stop-color="#313131"/><stop offset="0.9545" stop-color="#303030"/><stop offset="1" stop-color="#303030"/></linearGradient><linearGradient id="g135" gradientUnits="userSpaceOnUse" x1="-9.4" x2="197.4" y1="0" y2="0"><stop offset="0" stop-color="#040404"/><stop offset="0.04545" stop-color="#040404"/><stop offset="0.09091" stop-color="#070707"/><stop offset="0.1364" stop-color="#0b0b0b"/><stop offset="0.1818" stop-color="#0f0f0f"/><stop offset="0.2273" stop-color="#131313"/><stop offset="0.2727" stop-color="#171717"/><stop offset="0.3182" stop-color="#1a1a1a"/><stop offset="0.3636" stop-color="#1e1e1e"/><stop offset="0.4091" stop-color="#212121"/><stop offset="0.4545" stop-color="#242424"/><stop offset="0.5" stop-color="#282828"/><stop offset="0.5455" stop-color="#2b2b2b"/><stop offset="0.5909" stop-color="#2e2e2e"/><stop offset="0.6364" stop-color="#303030"/><stop offset="0.6818" stop-color="#323232"/><stop offset="0.7273" stop-color="#333333"/><stop offset="0.7727" stop-color="#333333"/><stop offset="0.8182" stop-color="#343434"/><stop offset="0.8636" stop-color="#343434"/><stop offset="0.9091" stop-color="#343434"/><stop offset="0.9545" stop-color="#333333"/><stop offset="1" stop-color="#333333"/></linearGradient><linearGradient id="g136" gradientUnits="userSpaceOnUse" x1="-9.4" x2="197.4" y1="0" y2="0"><stop offset="0" stop-color="#070707"/><stop offset="0.04545" stop-color="#070707"/><stop offset="0.09091" stop-color="#0a0a0a"/><stop offset="0.1364" stop-color="#0e0e0e"/><stop offset="0.1818" stop-color="#121212"/><stop offset="0.2273" stop-color="#161616"/><stop offset="0.2727" stop-color="#191919"/><stop offset="0.3182" stop-color="#1d1d1d"/><stop offset="0.3636" stop-color="#212121"/><stop offset="0.4091" stop-color="#242424"/><stop offset="0.4545" stop-color="#272727"/><stop offset="0.5" stop-color="#2a2a2a"/><stop offset="0.5455" stop-color="#2e2e2e"/><stop offset="0.5909" stop-color="#313131"/><stop offset="0.6364" stop-color="#343434"/><stop offset="0.6818" stop-color="#353535"/><stop offset="0.7273" stop-color="#373737"/><stop offset="0.7727" stop-color="#373737"/><stop offset="0.8182" stop-color="#373737"/><stop offset="0.8636" stop-color="#373737"/><stop offset="0.9091" stop-color="#363636"/><stop offset="0.9545" stop-color="#363636"/><stop offset="1" stop-color="#363636"/></linearGradient><linearGradient id="g137" gradientUnits="userSpaceOnUse" x1="-9.4" x2="197.4" y1="0" y2="0"><stop offset="0" stop-color="#0a0a0a"/><stop offset="0.04545" stop-color="#0a0a0a"/><stop offset="0.09091" stop-color="#0e0e0e"/><stop offset="0.1364" stop-color="#111111"/><stop offset="0.1818" stop-color="#141414"/><stop offset="0.2273" stop-color="#181818"/><stop offset="0.2727" stop-color="#1c1c1c"/><stop offset="0.3182" stop-color="#202020"/><stop offset="0.3636" stop-color="#242424"/><stop offset="0.4091" stop-color="#272727"/><stop offset="0.4545" stop-color="#2a2a2a"/><stop offset="0.5" stop-color="#2e2e2e"/><stop offset="0.5455" stop-color="#313131"/><stop offset="0.5909" stop-color="#353535"/><stop offset="0.6364" stop-color="#383838"/><stop offset="0.6818" stop-color="#393939"/><stop offset="0.7273" stop-color="#3b3b3b"/><stop offset="0.7727" stop-color="#3b3b3b"/><stop offset="0.8182" stop-color="#3a3a3a"/><stop offset="0.8636" stop-color="#393939"/><stop offset="0.9091" stop-color="#383838"/><stop offset="0.9545" stop-color="#383838"/><stop offset="1" stop-color="#383838"/></linearGradient><linearGradient id="g138" gradientUnits="userSpaceOnUse" x1="-9.4" x2="197.4" y1="0" y2="0"><stop offset="0" stop-color="#0e0e0e"/><stop offset="0.04545" stop-color="#0e0e0e"/><stop offset="0.09091" stop-color="#111111"/><stop offset="0.1364" stop-color="#141414"/><stop offset="0.1818" stop-color="#171717"/><stop offset="0.2273" stop-color="#1a1a1a"/><stop offset="0.2727" stop-color="#1e1e1e"/><stop offset="0.3182" stop-color="#232323"/><stop offset="0.3636" stop-color="#272727"/><stop offset="0.4091" stop-color="#2b2b2b"/><stop offset="0.4545" stop-color="#2e2e2e"/><stop offset="0.5" stop-color="#323232"/><stop offset="0.5455" stop-color="#363636"/><stop offset="0.5909" stop-color="#393939"/><stop offset="0.6364" stop-color="#3c3c3c"/><stop offset="0.6818" stop-color="#3e3e3e"/><stop offset="0.7273" stop-color="#3e3e3e"/><stop offset="0.7727" stop-color="#3e3e3e"/><stop offset="0.8182" stop-color="#3d3d3d"/><stop offset="0.8636" stop-color="#3c3c3c"/><stop offset="0.9091" stop-color="#3a3a3a"/><stop offset="0.9545" stop-color="#393939"/><stop offset="1" stop-color="#393939"/></linearGradient><linearGradient id="g139" gradientUnits="userSpaceOnUse" x1="-9.4" x2="197.4" y1="0" y2="0"><stop offset="0" stop-color="#111111"/><stop offset="0.04545" stop-color="#111111"/><stop offset="0.09091" stop-color="#141414"/><stop offset="0.1364" stop-color="#171717"/><stop offset="0.1818" stop-color="#1a1a1a"/><stop offset="0.2273" stop-color="#1d1d1d"/><stop offset="0.2727" stop-color="#212121"/><stop offset="0.3182" stop-color="#262626"/><stop offset="0.3636" stop-color="#2b2b2b"/><stop offset="0.4091" stop-color="#2f2f2f"/><stop offset="0.4545" stop-color="#333333"/><stop offset="0.5" stop-color="#363636"/><stop offset="0.5455" stop-color="#3a3a3a"/><stop offset="0.5909" stop-color="#3e3e3e"/><stop offset="0.6364" stop-color="#404040"/><stop offset="0.6818" stop-color="#424242"/><stop offset="0.7273" stop-color="#424242"/><stop offset="0.7727" stop-color="#414141"/><stop offset="0.8182" stop-color="#3f3f3f"/><stop offset="0.8636" stop-color="#3e3e3e"/><stop offset="0.9091" stop-color="#3c3c3c"/><stop offset="0.9545" stop-color="#3b3b3b"/><stop offset="1" stop-color="#3b3b3b"/></linearGradient><linearGradient id="g140" gradientUnits="userSpaceOnUse" x1="-9.4" x2="197.4" y1="0" y2="0"><stop offset="0" stop-color="#131313"/><stop offset="0.04545" stop-color="#131313"/><stop offset="0.09091" stop-color="#171717"/><stop offset="0.1364" stop-color="#1a1a1a"/><stop offset="0.1818" stop-color="#1c1c1c"/><stop offset="0.2273" stop-color="#1f1f1f"/><stop offset="0.2727" stop-color="#232323"/><stop offset="0.3182" stop-color="#292929"/><stop offset="0.3636" stop-color="#2e2e2e"/><stop offset="0.4091" stop-color="#333333"/><stop offset="0.4545" stop-color="#373737"/><stop offset="0.5" stop-color="#3b3b3b"/><stop offset="0.5455" stop-color="#3f3f3f"/><stop offset="0.5909" stop-color="#434343"/><stop offset="0.6364" stop-color="#454545"/><stop offset="0.6818" stop-color="#464646"/><stop offset="0.7273" stop-color="#454545"/><stop offset="0.7727" stop-color="#434343"/><stop offset="0.8182" stop-color="#414141"/><stop offset="0.8636" stop-color="#3f3f3f"/><stop offset="0.9091" stop-color="#3d3d3d"/><stop offset="0.9545" stop-color="#3c3c3c"/><stop offset="1" stop-color="#3c3c3c"/></linearGradient><linearGradient id="g141" gradientUnits="userSpaceOnUse" x1="-9.4" x2="197.4" y1="0" y2="0"><stop offset="0" stop-color="#161616"/><stop offset="0.04545" stop-color="#161616"/><stop offset="0.09091" stop-color="#1a1a1a"/><stop offset="0.1364" stop-color="#1c1c1c"/><stop offset="0.1818" stop-color="#1f1f1f"/><stop offset="0.2273" stop-color="#222222"/><stop offset="0.2727" stop-color="#262626"/><stop offset="0.3182" stop-color="#2c2c2c"/><stop offset="0.3636" stop-color="#323232"/><stop offset="0.4091" stop-color="#373737"/><stop offset="0.4545" stop-color="#3c3c3c"/><stop offset="0.5" stop-color="#404040"/><stop offset="0.5455" stop-color="#444444"/><stop offset="0.5909" stop-color="#484848"/><stop offset="0.6364" stop-color="#4a4a4a"/><stop offset="0.6818" stop-color="#4a4a4a"/><stop offset="0.7273" stop-color="#484848"/><stop offset="0.7727" stop-color="#464646"/><stop offset="0.8182" stop-color="#434343"/><stop offset="0.8636" stop-color="#414141"/><stop offset="0.9091" stop-color="#3e3e3e"/><stop offset="0.9545" stop-color="#3d3d3d"/><stop offset="1" stop-color="#3d3d3d"/></linearGradient><linearGradient id="g142" gradientUnits="userSpaceOnUse" x1="-9.4" x2="197.4" y1="0" y2="0"><stop offset="0" stop-color="#191919"/><stop offset="0.04545" stop-color="#191919"/><stop offset="0.09091" stop-color="#1d1d1d"/><stop offset="0.1364" stop-color="#1f1f1f"/><stop offset="0.1818" stop-color="#222222"/><stop offset="0.2273" stop-color="#252525"/><stop offset="0.2727" stop-color="#292929"/><stop offset="0.3182" stop-color="#2f2f2f"/><stop offset="0.3636" stop-color="#353535"/><stop offset="0.4091" stop-color="#3b3b3b"/><stop offset="0.4545" stop-color="#404040"/><stop offset="0.5" stop-color="#454545"/><stop offset="0.5455" stop-color="#494949"/><stop offset="0.5909" stop-color="#4d4d4d"/><stop offset="0.6364" stop-color="#4e4e4e"/><stop offset="0.6818" stop-color="#4d4d4d"/><stop offset="0.7273" stop-color="#4b4b4b"/><stop offset="0.7727" stop-color="#484848"/><stop offset="0.8182" stop-color="#454545"/><stop offset="0.8636" stop-color="#424242"/><stop offset="0.9091" stop-color="#3f3f3f"/><stop offset="0.9545" stop-color="#3d3d3d"/><stop offset="1" stop-color="#3d3d3d"/></linearGradient><linearGradient id="g143" gradientUnits="userSpaceOnUse" x1="-9.4" x2="197.4" y1="0" y2="0"><stop offset="0" stop-color="#1c1c1c"/><stop offset="0.04545" stop-color="#1c1c1c"/><stop offset="0.09091" stop-color="#1f1f1f"/><stop offset="0.1364" stop-color="#222222"/><stop offset="0.1818" stop-color="#252525"/><stop offset="0.2273" stop-color="#282828"/><stop offset="0.2727" stop-color="#2c2c2c"/><stop offset="0.3182" stop-color="#323232"/><stop offset="0.3636" stop-color="#393939"/><stop offset="0.4091" stop-color="#3f3f3f"/><stop offset="0.4545" stop-color="#444444"/><stop offset="0.5" stop-color="#494949"/><stop offset="0.5455" stop-color="#4e4e4e"/><stop offset="0.5909" stop-color="#525252"/><stop offset="0.6364" stop-color="#535353"/><stop offset="0.6818" stop-color="#515151"/><stop offset="0.7273" stop-color="#4d4d4d"/><stop offset="0.7727" stop-color="#4a4a4a"/><stop offset="0.8182" stop-color="#464646"/><stop offset="0.8636" stop-color="#434343"/><stop offset="0.9091" stop-color="#404040"/><stop offset="0.9545" stop-color="#3e3e3e"/><stop offset="1" stop-color="#3e3e3e"/></linearGradient><linearGradient id="g144" gradientUnits="userSpaceOnUse" x1="-9.4" x2="197.4" y1="0" y2="0"><stop offset="0" stop-color="#1e1e1e"/><stop offset="0.04545" stop-color="#1e1e1e"/><stop offset="0.09091" stop-color="#222222"/><stop offset="0.1364" stop-color="#252525"/><stop offset="0.1818" stop-color="#282828"/><stop offset="0.2273" stop-color="#2b2b2b"/><stop offset="0.2727" stop-color="#2f2f2f"/><stop offset="0.3182" stop-color="#353535"/><stop offset="0.3636" stop-color="#3b3b3b"/><stop offset="0.4091" stop-color="#424242"/><stop offset="0.4545" stop-color="#474747"/><stop offset="0.5" stop-color="#4d4d4d"/><stop offset="0.5455" stop-color="#535353"/><stop offset="0.5909" stop-color="#575757"/><stop offset="0.6364" stop-color="#575757"/><stop offset="0.6818" stop-color="#545454"/><stop offset="0.7273" stop-color="#505050"/><stop offset="0.7727" stop-color="#4b4b4b"/><stop offset="0.8182" stop-color="#484848"/><stop offset="0.8636" stop-color="#444444"/><stop offset="0.9091" stop-color="#414141"/><stop offset="0.9545" stop-color="#3f3f3f"/><stop offset="1" stop-color="#3f3f3f"/></linearGradient><linearGradient id="g145" gradientUnits="userSpaceOnUse" x1="-9.4" x2="197.4" y1="0" y2="0"><stop offset="0" stop-color="#212121"/><stop offset="0.04545" stop-color="#212121"/><stop offset="0.09091" stop-color="#242424"/><stop offset="0.1364" stop-color="#272727"/><stop offset="0.1818" stop-color="#2b2b2b"/><stop offset="0.2273" stop-color="#2e2e2e"/><stop offset="0.2727" stop-color="#333333"/><stop offset="0.3182" stop-color="#383838"/><stop offset="0.3636" stop-color="#3e3e3e"/><stop offset="0.4091" stop-color="#444444"/><stop offset="0.4545" stop-color="#4b4b4b"/><stop offset="0.5" stop-color="#515151"/><stop offset="0.5455" stop-color="#575757"/><stop offset="0.5909" stop-color="#5b5b5b"/><stop offset="0.6364" stop-color="#5b5b5b"/><stop offset="0.6818" stop-color="#575757"/><stop offset="0.7273" stop-color="#525252"/><stop offset="0.7727" stop-color="#4d4d4d"/><stop offset="0.8182" stop-color="#494949"/><stop offset="0.8636" stop-color="#454545"/><stop offset="0.9091" stop-color="#424242"/><stop offset="0.9545" stop-color="#3f3f3f"/><stop offset="1" stop-color="#3f3f3f"/></linearGradient><linearGradient id="g146" gradientUnits="userSpaceOnUse" x1="-9.4" x2="197.4" y1="0" y2="0"><stop offset="0" stop-color="#242424"/><stop offset="0.04545" stop-color="#242424"/><stop offset="0.09091" stop-color="#272727"/><stop offset="0.1364" stop-color="#2a2a2a"/><stop offset="0.1818" stop-color="#2d2d2d"/><stop offset="0.2273" stop-color="#313131"/><stop offset="0.2727" stop-color="#363636"/><stop offset="0.3182" stop-color="#3b3b3b"/><stop offset="0.3636" stop-color="#404040"/><stop offset="0.4091" stop-color="#474747"/><stop offset="0.4545" stop-color="#4e4e4e"/><stop offset="0.5" stop-color="#565656"/><stop offset="0.5455" stop-color="#5b5b5b"/><stop offset="0.5909" stop-color="#5f5f5f"/><stop offset="0.6364" stop-color="#5e5e5e"/><stop offset="0.6818" stop-color="#595959"/><stop offset="0.7273" stop-color="#535353"/><stop offset="0.7727" stop-color="#4e4e4e"/><stop offset="0.8182" stop-color="#494949"/><stop offset="0.8636" stop-color="#464646"/><stop offset="0.9091" stop-color="#424242"/><stop offset="0.9545" stop-color="#404040"/><stop offset="1" stop-color="#404040"/></linearGradient><linearGradient id="g147" gradientUnits="userSpaceOnUse" x1="-9.4" x2="197.4" y1="0" y2="0"><stop offset="0" stop-color="#262626"/><stop offset="0.04545" stop-color="#262626"/><stop offset="0.09091" stop-color="#292929"/><stop offset="0.1364" stop-color="#2c2c2c"/><stop offset="0.1818" stop-color="#303030"/><stop offset="0.2273" stop-color="#343434"/><stop offset="0.2727" stop-color="#383838"/><stop offset="0.3182" stop-color="#3d3d3d"/><stop offset="0.3636" stop-color="#434343"/><stop offset="0.4091" stop-color="#4b4b4b"/><stop offset="0.4545" stop-color="#555555"/><stop offset="0.5" stop-color="#5e5e5e"/><stop offset="0.5455" stop-color="#626262"/><stop offset="0.5909" stop-color="#626262"/><stop offset="0.6364" stop-color="#606060"/><stop offset="0.6818" stop-color="#5b5b5b"/><stop offset="0.7273" stop-color="#545454"/><stop offset="0.7727" stop-color="#4e4e4e"/><stop offset="0.8182" stop-color="#4a4a4a"/><stop offset="0.8636" stop-color="#464646"/><stop offset="0.9091" stop-color="#434343"/><stop offset="0.9545" stop-color="#404040"/><stop offset="1" stop-color="#404040"/></linearGradient><linearGradient id="g148" gradientUnits="userSpaceOnUse" x1="-9.4" x2="197.4" y1="0" y2="0"><stop offset="0" stop-color="#282828"/><stop offset="0.04545" stop-color="#282828"/><stop offset="0.09091" stop-color="#2b2b2b"/><stop offset="0.1364" stop-color="#2e2e2e"/><stop offset="0.1818" stop-color="#323232"/><stop offset="0.2273" stop-color="#363636"/><stop offset="0.2727" stop-color="#3a3a3a"/><stop offset="0.3182" stop-color="#3f3f3f"/><stop offset="0.3636" stop-color="#454545"/><stop offset="0.4091" stop-color="#505050"/><stop offset="0.4545" stop-color="#636363"/><stop offset="0.5" stop-color="#727272"/><stop offset="0.5455" stop-color="#6f6f6f"/><stop offset="0.5909" stop-color="#676767"/><stop offset="0.6364" stop-color="#616161"/><stop offset="0.6818" stop-color="#5b5b5b"/><stop offset="0.7273" stop-color="#545454"/><stop offset="0.7727" stop-color="#4f4f4f"/><stop offset="0.8182" stop-color="#4a4a4a"/><stop offset="0.8636" stop-color="#464646"/><stop offset="0.9091" stop-color="#434343"/><stop offset="0.9545" stop-color="#404040"/><stop offset="1" stop-color="#404040"/></linearGradient><linearGradient id="g149" gradientUnits="userSpaceOnUse" x1="-9.4" x2="197.4" y1="0" y2="0"><stop offset="0" stop-color="#2a2a2a"/><stop offset="0.04545" stop-color="#2a2a2a"/><stop offset="0.09091" stop-color="#2d2d2d"/><stop offset="0.1364" stop-color="#303030"/><stop offset="0.1818" stop-color="#333333"/><stop offset="0.2273" stop-color="#373737"/><stop offset="0.2727" stop-color="#3b3b3b"/><stop offset="0.3182" stop-color="#404040"/><stop offset="0.3636" stop-color="#484848"/><stop offset="0.4091" stop-color="#5a5a5a"/><stop offset="0.4545" stop-color="#858585"/><stop offset="0.5" stop-color="#8a8a8a"/><stop offset="0.5455" stop-color="#8e8e8e"/><stop offset="0.5909" stop-color="#6e6e6e"/><stop offset="0.6364" stop-color="#626262"/><stop offset="0.6818" stop-color="#5b5b5b"/><stop offset="0.7273" stop-color="#545454"/><stop offset="0.7727" stop-color="#4e4e4e"/><stop offset="0.8182" stop-color="#4a4a4a"/><stop offset="0.8636" stop-color="#464646"/><stop offset="0.9091" stop-color="#434343"/><stop offset="0.9545" stop-color="#404040"/><stop offset="1" stop-color="#404040"/></linearGradient><linearGradient id="g150" gradientUnits="userSpaceOnUse" x1="-9.4" x2="197.4" y1="0" y2="0"><stop offset="0" stop-color="#2c2c2c"/><stop offset="0.04545" stop-color="#2c2c2c"/><stop offset="0.09091" stop-color="#2f2f2f"/><stop offset="0.1364" stop-color="#323232"/><stop offset="0.1818" stop-color="#343434"/><stop offset="0.2273" stop-color="#373737"/><stop offset="0.2727" stop-color="#3b3b3b"/><stop offset="0.3182" stop-color="#414141"/><stop offset="0.3636" stop-color="#4b4b4b"/><stop offset="0.4091" stop-color="#6b6b6b"/><stop offset="0.4545" stop-color="#848484"/><stop offset="0.5" stop-color="#898989"/><stop offset="0.5455" stop-color="#8f8f8f"/><stop offset="0.5909" stop-color="#797979"/><stop offset="0.6364" stop-color="#626262"/><stop offset="0.6818" stop-color="#595959"/><stop offset="0.7273" stop-color="#535353"/><stop offset="0.7727" stop-color="#4d4d4d"/><stop offset="0.8182" stop-color="#494949"/><stop offset="0.8636" stop-color="#464646"/><stop offset="0.9091" stop-color="#434343"/><stop offset="0.9545" stop-color="#404040"/><stop offset="1" stop-color="#404040"/></linearGradient><linearGradient id="g151" gradientUnits="userSpaceOnUse" x1="-9.4" x2="197.4" y1="0" y2="0"><stop offset="0" stop-color="#2e2e2e"/><stop offset="0.04545" stop-color="#2e2e2e"/><stop offset="0.09091" stop-color="#313131"/><stop offset="0.1364" stop-color="#333333"/><stop offset="0.1818" stop-color="#343434"/><stop offset="0.2273" stop-color="#373737"/><stop offset="0.2727" stop-color="#3b3b3b"/><stop offset="0.3182" stop-color="#414141"/><stop offset="0.3636" stop-color="#4e4e4e"/><stop offset="0.4091" stop-color="#818181"/><stop offset="0.4545" stop-color="#848484"/><stop offset="0.5" stop-color="#888888"/><stop offset="0.5455" stop-color="#8d8d8d"/><stop offset="0.5909" stop-color="#898989"/><stop offset="0.6364" stop-color="#616161"/><stop offset="0.6818" stop-color="#575757"/><stop offset="0.7273" stop-color="#515151"/><stop offset="0.7727" stop-color="#4c4c4c"/><stop offset="0.8182" stop-color="#484848"/><stop offset="0.8636" stop-color="#454545"/><stop offset="0.9091" stop-color="#434343"/><stop offset="0.9545" stop-color="#404040"/><stop offset="1" stop-color="#404040"/></linearGradient><linearGradient id="g152" gradientUnits="userSpaceOnUse" x1="-9.4" x2="197.4" y1="0" y2="0"><stop offset="0" stop-color="#2f2f2f"/><stop offset="0.04545" stop-color="#2f2f2f"/><stop offset="0.09091" stop-color="#323232"/><stop offset="0.1364" stop-color="#343434"/><stop offset="0.1818" stop-color="#353535"/><stop offset="0.2273" stop-color="#363636"/><stop offset="0.2727" stop-color="#3a3a3a"/><stop offset="0.3182" stop-color="#414141"/><stop offset="0.3636" stop-color="#505050"/><stop offset="0.4091" stop-color="#818181"/><stop offset="0.4545" stop-color="#848484"/><stop offset="0.5" stop-color="#878787"/><stop offset="0.5455" stop-color="#8b8b8b"/><stop offset="0.5909" stop-color="#8e8e8e"/><stop offset="0.6364" stop-color="#606060"/><stop offset="0.6818" stop-color="#555555"/><stop offset="0.7273" stop-color="#4f4f4f"/><stop offset="0.7727" stop-color="#4b4b4b"/><stop offset="0.8182" stop-color="#474747"/><stop offset="0.8636" stop-color="#444444"/><stop offset="0.9091" stop-color="#424242"/><stop offset="0.9545" stop-color="#3f3f3f"/><stop offset="1" stop-color="#3f3f3f"/></linearGradient><linearGradient id="g153" gradientUnits="userSpaceOnUse" x1="-9.4" x2="197.4" y1="0" y2="0"><stop offset="0" stop-color="#303030"/><stop offset="0.04545" stop-color="#303030"/><stop offset="0.09091" stop-color="#333333"/><stop offset="0.1364" stop-color="#343434"/><stop offset="0.1818" stop-color="#343434"/><stop offset="0.2273" stop-color="#363636"/><stop offset="0.2727" stop-color="#393939"/><stop offset="0.3182" stop-color="#414141"/><stop offset="0.3636" stop-color="#505050"/><stop offset="0.4091" stop-color="#818181"/><stop offset="0.4545" stop-color="#828282"/><stop offset="0.5" stop-color="#6f6f6f"/><stop offset="0.5455" stop-color="#888888"/><stop offset="0.5909" stop-color="#8b8b8b"/><stop offset="0.6364" stop-color="#5d5d5d"/><stop offset="0.6818" stop-color="#525252"/><stop offset="0.7273" stop-color="#4d4d4d"/><stop offset="0.7727" stop-color="#494949"/><stop offset="0.8182" stop-color="#454545"/><stop offset="0.8636" stop-color="#434343"/><stop offset="0.9091" stop-color="#404040"/><stop offset="0.9545" stop-color="#3d3d3d"/><stop offset="1" stop-color="#3d3d3d"/></linearGradient><linearGradient id="g154" gradientUnits="userSpaceOnUse" x1="-9.4" x2="197.4" y1="0" y2="0"><stop offset="0" stop-color="#313131"/><stop offset="0.04545" stop-color="#313131"/><stop offset="0.09091" stop-color="#333333"/><stop offset="0.1364" stop-color="#343434"/><stop offset="0.1818" stop-color="#343434"/><stop offset="0.2273" stop-color="#353535"/><stop offset="0.2727" stop-color="#393939"/><stop offset="0.3182" stop-color="#404040"/><stop offset="0.3636" stop-color="#4d4d4d"/><stop offset="0.4091" stop-color="#7e7e7e"/><stop offset="0.4545" stop-color="#7a7a7a"/><stop offset="0.5" stop-color="#6d6d6d"/><stop offset="0.5455" stop-color="#7f7f7f"/><stop offset="0.5909" stop-color="#808080"/><stop offset="0.6364" stop-color="#585858"/><stop offset="0.6818" stop-color="#4f4f4f"/><stop offset="0.7273" stop-color="#4a4a4a"/><stop offset="0.7727" stop-color="#464646"/><stop offset="0.8182" stop-color="#434343"/><stop offset="0.8636" stop-color="#414141"/><stop offset="0.9091" stop-color="#3e3e3e"/><stop offset="0.9545" stop-color="#3c3c3c"/><stop offset="1" stop-color="#3c3c3c"/></linearGradient><linearGradient id="g155" gradientUnits="userSpaceOnUse" x1="-9.4" x2="197.4" y1="0" y2="0"><stop offset="0" stop-color="#313131"/><stop offset="0.04545" stop-color="#313131"/><stop offset="0.09091" stop-color="#333333"/><stop offset="0.1364" stop-color="#333333"/><stop offset="0.1818" stop-color="#333333"/><stop offset="0.2273" stop-color="#343434"/><stop offset="0.2727" stop-color="#383838"/><stop offset="0.3182" stop-color="#3e3e3e"/><stop offset="0.3636" stop-color="#494949"/><stop offset="0.4091" stop-color="#656565"/><stop offset="0.4545" stop-color="#737373"/><stop offset="0.5" stop-color="#6c6c6c"/><stop offset="0.5455" stop-color="#777777"/><stop offset="0.5909" stop-color="#686868"/><stop offset="0.6364" stop-color="#525252"/><stop offset="0.6818" stop-color="#4c4c4c"/><stop offset="0.7273" stop-color="#474747"/><stop offset="0.7727" stop-color="#434343"/><stop offset="0.8182" stop-color="#414141"/><stop offset="0.8636" stop-color="#3e3e3e"/><stop offset="0.9091" stop-color="#3c3c3c"/><stop offset="0.9545" stop-color="#393939"/><stop offset="1" stop-color="#393939"/></linearGradient><linearGradient id="g156" gradientUnits="userSpaceOnUse" x1="-9.4" x2="197.4" y1="0" y2="0"><stop offset="0" stop-color="#313131"/><stop offset="0.04545" stop-color="#313131"/><stop offset="0.09091" stop-color="#323232"/><stop offset="0.1364" stop-color="#333333"/><stop offset="0.1818" stop-color="#333333"/><stop offset="0.2273" stop-color="#343434"/><stop offset="0.2727" stop-color="#373737"/><stop offset="0.3182" stop-color="#3c3c3c"/><stop offset="0.3636" stop-color="#444444"/><stop offset="0.4091" stop-color="#515151"/><stop offset="0.4545" stop-color="#6f6f6f"/><stop offset="0.5" stop-color="#6b6b6b"/><stop offset="0.5455" stop-color="#737373"/><stop offset="0.5909" stop-color="#555555"/><stop offset="0.6364" stop-color="#4c4c4c"/><stop offset="0.6818" stop-color="#484848"/><stop offset="0.7273" stop-color="#444444"/><stop offset="0.7727" stop-color="#404040"/><stop offset="0.8182" stop-color="#3d3d3d"/><stop offset="0.8636" stop-color="#3b3b3b"/><stop offset="0.9091" stop-color="#393939"/><stop offset="0.9545" stop-color="#363636"/><stop offset="1" stop-color="#363636"/></linearGradient><linearGradient id="g157" gradientUnits="userSpaceOnUse" x1="-9.4" x2="197.4" y1="0" y2="0"><stop offset="0" stop-color="#313131"/><stop offset="0.04545" stop-color="#313131"/><stop offset="0.09091" stop-color="#323232"/><stop offset="0.1364" stop-color="#323232"/><stop offset="0.1818" stop-color="#323232"/><stop offset="0.2273" stop-color="#333333"/><stop offset="0.2727" stop-color="#363636"/><stop offset="0.3182" stop-color="#3a3a3a"/><stop offset="0.3636" stop-color="#3f3f3f"/><stop offset="0.4091" stop-color="#444444"/><stop offset="0.4545" stop-color="#4d4d4d"/><stop offset="0.5" stop-color="#555555"/><stop offset="0.5455" stop-color="#4f4f4f"/><stop offset="0.5909" stop-color="#494949"/><stop offset="0.6364" stop-color="#464646"/><stop offset="0.6818" stop-color="#434343"/><stop offset="0.7273" stop-color="#404040"/><stop offset="0.7727" stop-color="#3d3d3d"/><stop offset="0.8182" stop-color="#3a3a3a"/><stop offset="0.8636" stop-color="#383838"/><stop offset="0.9091" stop-color="#363636"/><stop offset="0.9545" stop-color="#333333"/><stop offset="1" stop-color="#333333"/></linearGradient><linearGradient id="g158" gradientUnits="userSpaceOnUse" x1="-9.4" x2="197.4" y1="0" y2="0"><stop offset="0" stop-color="#313131"/><stop offset="0.04545" stop-color="#313131"/><stop offset="0.09091" stop-color="#323232"/><stop offset="0.1364" stop-color="#323232"/><stop offset="0.1818" stop-color="#323232"/><stop offset="0.2273" stop-color="#333333"/><stop offset="0.2727" stop-color="#353535"/><stop offset="0.3182" stop-color="#383838"/><stop offset="0.3636" stop-color="#3b3b3b"/><stop offset="0.4091" stop-color="#3d3d3d"/><stop offset="0.4545" stop-color="#3e3e3e"/><stop offset="0.5" stop-color="#404040"/><stop offset="0.5455" stop-color="#404040"/><stop offset="0.5909" stop-color="#414141"/><stop offset="0.6364" stop-color="#404040"/><stop offset="0.6818" stop-color="#3e3e3e"/><stop offset="0.7273" stop-color="#3b3b3b"/><stop offset="0.7727" stop-color="#393939"/><stop offset="0.8182" stop-color="#363636"/><stop offset="0.8636" stop-color="#343434"/><stop offset="0.9091" stop-color="#323232"/><stop offset="0.9545" stop-color="#303030"/><stop offset="1" stop-color="#303030"/></linearGradient><linearGradient id="g159" gradientUnits="userSpaceOnUse" x1="-9.4" x2="197.4" y1="0" y2="0"><stop offset="0" stop-color="#313131"/><stop offset="0.04545" stop-color="#313131"/><stop offset="0.09091" stop-color="#313131"/><stop offset="0.1364" stop-color="#313131"/><stop offset="0.1818" stop-color="#323232"/><stop offset="0.2273" stop-color="#323232"/><stop offset="0.2727" stop-color="#343434"/><stop offset="0.3182" stop-color="#363636"/><stop offset="0.3636" stop-color="#373737"/><stop offset="0.4091" stop-color="#383838"/><stop offset="0.4545" stop-color="#383838"/><stop offset="0.5" stop-color="#383838"/><stop offset="0.5455" stop-color="#393939"/><stop offset="0.5909" stop-color="#3a3a3a"/><stop offset="0.6364" stop-color="#3b3b3b"/><stop offset="0.6818" stop-color="#393939"/><stop offset="0.7273" stop-color="#373737"/><stop offset="0.7727" stop-color="#353535"/><stop offset="0.8182" stop-color="#323232"/><stop offset="0.8636" stop-color="#303030"/><stop offset="0.9091" stop-color="#2e2e2e"/><stop offset="0.9545" stop-color="#2c2c2c"/><stop offset="1" stop-color="#2c2c2c"/></linearGradient><linearGradient id="g160" gradientUnits="userSpaceOnUse" x1="-9.4" x2="197.4" y1="0" y2="0"><stop offset="0" stop-color="#303030"/><stop offset="0.04545" stop-color="#303030"/><stop offset="0.09091" stop-color="#313131"/><stop offset="0.1364" stop-color="#313131"/><stop offset="0.1818" stop-color="#313131"/><stop offset="0.2273" stop-color="#323232"/><stop offset="0.2727" stop-color="#333333"/><stop offset="0.3182" stop-color="#343434"/><stop offset="0.3636" stop-color="#343434"/><stop offset="0.4091" stop-color="#343434"/><stop offset="0.4545" stop-color="#343434"/><stop offset="0.5" stop-color="#333333"/><stop offset="0.5455" stop-color="#343434"/><stop offset="0.5909" stop-color="#353535"/><stop offset="0.6364" stop-color="#353535"/><stop offset="0.6818" stop-color="#343434"/><stop offset="0.7273" stop-color="#333333"/><stop offset="0.7727" stop-color="#313131"/><stop offset="0.8182" stop-color="#2e2e2e"/><stop offset="0.8636" stop-color="#2c2c2c"/><stop offset="0.9091" stop-color="#2a2a2a"/><stop offset="0.9545" stop-color="#282828"/><stop offset="1" stop-color="#282828"/></linearGradient><linearGradient id="g161" gradientUnits="userSpaceOnUse" x1="-9.4" x2="197.4" y1="0" y2="0"><stop offset="0" stop-color="#303030"/><stop offset="0.04545" stop-color="#303030"/><stop offset="0.09091" stop-color="#303030"/><stop offset="0.1364" stop-color="#313131"/><stop offset="0.1818" stop-color="#313131"/><stop offset="0.2273" stop-color="#313131"/><stop offset="0.2727" stop-color="#313131"/><stop offset="0.3182" stop-color="#323232"/><stop offset="0.3636" stop-color="#323232"/><stop offset="0.4091" stop-color="#313131"/><stop offset="0.4545" stop-color="#313131"/><stop offset="0.5" stop-color="#303030"/><stop offset="0.5455" stop-color="#303030"/><stop offset="0.5909" stop-color="#313131"/><stop offset="0.6364" stop-color="#303030"/><stop offset="0.6818" stop-color="#303030"/><stop offset="0.7273" stop-color="#2e2e2e"/><stop offset="0.7727" stop-color="#2d2d2d"/><stop offset="0.8182" stop-color="#2b2b2b"/><stop offset="0.8636" stop-color="#292929"/><stop offset="0.9091" stop-color="#272727"/><stop offset="0.9545" stop-color="#252525"/><stop offset="1" stop-color="#252525"/></linearGradient><linearGradient id="g162" gradientUnits="userSpaceOnUse" x1="-9.4" x2="197.4" y1="0" y2="0"><stop offset="0" stop-color="#2f2f2f"/><stop offset="0.04545" stop-color="#2f2f2f"/><stop offset="0.09091" stop-color="#2f2f2f"/><stop offset="0.1364" stop-color="#303030"/><stop offset="0.1818" stop-color="#303030"/><stop offset="0.2273" stop-color="#303030"/><stop offset="0.2727" stop-color="#303030"/><stop offset="0.3182" stop-color="#303030"/><stop offset="0.3636" stop-color="#2f2f2f"/><stop offset="0.4091" stop-color="#2f2f2f"/><stop offset="0.4545" stop-color="#2e2e2e"/><stop offset="0.5" stop-color="#2e2e2e"/><stop offset="0.5455" stop-color="#2d2d2d"/><stop offset="0.5909" stop-color="#2d2d2d"/><stop offset="0.6364" stop-color="#2d2d2d"/><stop offset="0.6818" stop-color="#2c2c2c"/><stop offset="0.7273" stop-color="#2b2b2b"/><stop offset="0.7727" stop-color="#292929"/><stop offset="0.8182" stop-color="#272727"/><stop offset="0.8636" stop-color="#252525"/><stop offset="0.9091" stop-color="#232323"/><stop offset="0.9545" stop-color="#222222"/><stop offset="1" stop-color="#222222"/></linearGradient><linearGradient id="g163" gradientUnits="userSpaceOnUse" x1="-9.4" x2="197.4" y1="0" y2="0"><stop offset="0" stop-color="#2d2d2d"/><stop offset="0.04545" stop-color="#2d2d2d"/><stop offset="0.09091" stop-color="#2e2e2e"/><stop offset="0.1364" stop-color="#2e2e2e"/><stop offset="0.1818" stop-color="#2e2e2e"/><stop offset="0.2273" stop-color="#2e2e2e"/><stop offset="0.2727" stop-color="#2e2e2e"/><stop offset="0.3182" stop-color="#2e2e2e"/><stop offset="0.3636" stop-color="#2d2d2d"/><stop offset="0.4091" stop-color="#2c2c2c"/><stop offset="0.4545" stop-color="#2c2c2c"/><stop offset="0.5" stop-color="#2c2c2c"/><stop offset="0.5455" stop-color="#2b2b2b"/><stop offset="0.5909" stop-color="#2b2b2b"/><stop offset="0.6364" stop-color="#2a2a2a"/><stop offset="0.6818" stop-color="#292929"/><stop offset="0.7273" stop-color="#282828"/><stop offset="0.7727" stop-color="#262626"/><stop offset="0.8182" stop-color="#242424"/><stop offset="0.8636" stop-color="#222222"/><stop offset="0.9091" stop-color="#212121"/><stop offset="0.9545" stop-color="#1f1f1f"/><stop offset="1" stop-color="#1f1f1f"/></linearGradient><linearGradient id="g164" gradientUnits="userSpaceOnUse" x1="-9.4" x2="197.4" y1="0" y2="0"><stop offset="0" stop-color="#2c2c2c"/><stop offset="0.04545" stop-color="#2c2c2c"/><stop offset="0.09091" stop-color="#2c2c2c"/><stop offset="0.1364" stop-color="#2c2c2c"/><stop offset="0.1818" stop-color="#2c2c2c"/><stop offset="0.2273" stop-color="#2c2c2c"/><stop offset="0.2727" stop-color="#2c2c2c"/><stop offset="0.3182" stop-color="#2c2c2c"/><stop offset="0.3636" stop-color="#2b2b2b"/><stop offset="0.4091" stop-color="#2a2a2a"/><stop offset="0.4545" stop-color="#2a2a2a"/><stop offset="0.5" stop-color="#2a2a2a"/><stop offset="0.5455" stop-color="#2a2a2a"/><stop offset="0.5909" stop-color="#292929"/><stop offset="0.6364" stop-color="#282828"/><stop offset="0.6818" stop-color="#272727"/><stop offset="0.7273" stop-color="#252525"/><stop offset="0.7727" stop-color="#232323"/><stop offset="0.8182" stop-color="#222222"/><stop offset="0.8636" stop-color="#202020"/><stop offset="0.9091" stop-color="#1e1e1e"/><stop offset="0.9545" stop-color="#1d1d1d"/><stop offset="1" stop-color="#1d1d1d"/></linearGradient><linearGradient id="g165" gradientUnits="userSpaceOnUse" x1="-9.4" x2="197.4" y1="0" y2="0"><stop offset="0" stop-color="#292929"/><stop offset="0.04545" stop-color="#292929"/><stop offset="0.09091" stop-color="#292929"/><stop offset="0.1364" stop-color="#2a2a2a"/><stop offset="0.1818" stop-color="#2a2a2a"/><stop offset="0.2273" stop-color="#2a2a2a"/><stop offset="0.2727" stop-color="#2a2a2a"/><stop offset="0.3182" stop-color="#2a2a2a"/><stop offset="0.3636" stop-color="#292929"/><stop offset="0.4091" stop-color="#292929"/><stop offset="0.4545" stop-color="#282828"/><stop offset="0.5" stop-color="#292929"/><stop offset="0.5455" stop-color="#292929"/><stop offset="0.5909" stop-color="#282828"/><stop offset="0.6364" stop-color="#272727"/><stop offset="0.6818" stop-color="#252525"/><stop offset="0.7273" stop-color="#232323"/><stop offset="0.7727" stop-color="#212121"/><stop offset="0.8182" stop-color="#202020"/><stop offset="0.8636" stop-color="#1e1e1e"/><stop offset="0.9091" stop-color="#1d1d1d"/><stop offset="0.9545" stop-color="#1b1b1b"/><stop offset="1" stop-color="#1b1b1b"/></linearGradient><linearGradient id="g166" gradientUnits="userSpaceOnUse" x1="-9.4" x2="197.4" y1="0" y2="0"><stop offset="0" stop-color="#272727"/><stop offset="0.04545" stop-color="#272727"/><stop offset="0.09091" stop-color="#272727"/><stop offset="0.1364" stop-color="#272727"/><stop offset="0.1818" stop-color="#272727"/><stop offset="0.2273" stop-color="#282828"/><stop offset="0.2727" stop-color="#282828"/><stop offset="0.3182" stop-color="#282828"/><stop offset="0.3636" stop-color="#272727"/><stop offset="0.4091" stop-color="#272727"/><stop offset="0.4545" stop-color="#272727"/><stop offset="0.5" stop-color="#282828"/><stop offset="0.5455" stop-color="#282828"/><stop offset="0.5909" stop-color="#282828"/><stop offset="0.6364" stop-color="#272727"/><stop offset="0.6818" stop-color="#242424"/><stop offset="0.7273" stop-color="#212121"/><stop offset="0.7727" stop-color="#1f1f1f"/><stop offset="0.8182" stop-color="#1e1e1e"/><stop offset="0.8636" stop-color="#1c1c1c"/><stop offset="0.9091" stop-color="#1b1b1b"/><stop offset="0.9545" stop-color="#191919"/><stop offset="1" stop-color="#191919"/></linearGradient><linearGradient id="g167" gradientUnits="userSpaceOnUse" x1="-9.4" x2="197.4" y1="0" y2="0"><stop offset="0" stop-color="#242424"/><stop offset="0.04545" stop-color="#242424"/><stop offset="0.09091" stop-color="#242424"/><stop offset="0.1364" stop-color="#242424"/><stop offset="0.1818" stop-color="#252525"/><stop offset="0.2273" stop-color="#252525"/><stop offset="0.2727" stop-color="#262626"/><stop offset="0.3182" stop-color="#262626"/><stop offset="0.3636" stop-color="#262626"/><stop offset="0.4091" stop-color="#262626"/><stop offset="0.4545" stop-color="#262626"/><stop offset="0.5" stop-color="#272727"/><stop offset="0.5455" stop-color="#282828"/><stop offset="0.5909" stop-color="#282828"/><stop offset="0.6364" stop-color="#272727"/><stop offset="0.6818" stop-color="#242424"/><stop offset="0.7273" stop-color="#202020"/><stop offset="0.7727" stop-color="#1e1e1e"/><stop offset="0.8182" stop-color="#1c1c1c"/><stop offset="0.8636" stop-color="#1b1b1b"/><stop offset="0.9091" stop-color="#1a1a1a"/><stop offset="0.9545" stop-color="#171717"/><stop offset="1" stop-color="#171717"/></linearGradient><linearGradient id="g168" gradientUnits="userSpaceOnUse" x1="-9.4" x2="197.4" y1="0" y2="0"><stop offset="0" stop-color="#222222"/><stop offset="0.04545" stop-color="#222222"/><stop offset="0.09091" stop-color="#212121"/><stop offset="0.1364" stop-color="#212121"/><stop offset="0.1818" stop-color="#222222"/><stop offset="0.2273" stop-color="#232323"/><stop offset="0.2727" stop-color="#242424"/><stop offset="0.3182" stop-color="#242424"/><stop offset="0.3636" stop-color="#242424"/><stop offset="0.4091" stop-color="#252525"/><stop offset="0.4545" stop-color="#252525"/><stop offset="0.5" stop-color="#262626"/><stop offset="0.5455" stop-color="#282828"/><stop offset="0.5909" stop-color="#292929"/><stop offset="0.6364" stop-color="#272727"/><stop offset="0.6818" stop-color="#232323"/><stop offset="0.7273" stop-color="#1f1f1f"/><stop offset="0.7727" stop-color="#1c1c1c"/><stop offset="0.8182" stop-color="#1b1b1b"/><stop offset="0.8636" stop-color="#1a1a1a"/><stop offset="0.9091" stop-color="#181818"/><stop offset="0.9545" stop-color="#161616"/><stop offset="1" stop-color="#161616"/></linearGradient><linearGradient id="g169" gradientUnits="userSpaceOnUse" x1="-9.4" x2="197.4" y1="0" y2="0"><stop offset="0" stop-color="#1f1f1f"/><stop offset="0.04545" stop-color="#1f1f1f"/><stop offset="0.09091" stop-color="#1f1f1f"/><stop offset="0.1364" stop-color="#1f1f1f"/><stop offset="0.1818" stop-color="#202020"/><stop offset="0.2273" stop-color="#212121"/><stop offset="0.2727" stop-color="#222222"/><stop offset="0.3182" stop-color="#232323"/><stop offset="0.3636" stop-color="#232323"/><stop offset="0.4091" stop-color="#242424"/><stop offset="0.4545" stop-color="#252525"/><stop offset="0.5" stop-color="#262626"/><stop offset="0.5455" stop-color="#292929"/><stop offset="0.5909" stop-color="#2a2a2a"/><stop offset="0.6364" stop-color="#282828"/><stop offset="0.6818" stop-color="#232323"/><stop offset="0.7273" stop-color="#1e1e1e"/><stop offset="0.7727" stop-color="#1b1b1b"/><stop offset="0.8182" stop-color="#191919"/><stop offset="0.8636" stop-color="#181818"/><stop offset="0.9091" stop-color="#171717"/><stop offset="0.9545" stop-color="#141414"/><stop offset="1" stop-color="#141414"/></linearGradient><linearGradient id="g170" gradientUnits="userSpaceOnUse" x1="-9.4" x2="197.4" y1="0" y2="0"><stop offset="0" stop-color="#1c1c1c"/><stop offset="0.04545" stop-color="#1c1c1c"/><stop offset="0.09091" stop-color="#1c1c1c"/><stop offset="0.1364" stop-color="#1d1d1d"/><stop offset="0.1818" stop-color="#1e1e1e"/><stop offset="0.2273" stop-color="#1f1f1f"/><stop offset="0.2727" stop-color="#202020"/><stop offset="0.3182" stop-color="#212121"/><stop offset="0.3636" stop-color="#222222"/><stop offset="0.4091" stop-color="#232323"/><stop offset="0.4545" stop-color="#252525"/><stop offset="0.5" stop-color="#272727"/><stop offset="0.5455" stop-color="#292929"/><stop offset="0.5909" stop-color="#2b2b2b"/><stop offset="0.6364" stop-color="#292929"/><stop offset="0.6818" stop-color="#232323"/><stop offset="0.7273" stop-color="#1d1d1d"/><stop offset="0.7727" stop-color="#1a1a1a"/><stop offset="0.8182" stop-color="#181818"/><stop offset="0.8636" stop-color="#171717"/><stop offset="0.9091" stop-color="#161616"/><stop offset="0.9545" stop-color="#121212"/><stop offset="1" stop-color="#121212"/></linearGradient><linearGradient id="g171" gradientUnits="userSpaceOnUse" x1="-9.4" x2="197.4" y1="0" y2="0"><stop offset="0" stop-color="#1a1a1a"/><stop offset="0.04545" stop-color="#1a1a1a"/><stop offset="0.09091" stop-color="#1a1a1a"/><stop offset="0.1364" stop-color="#1b1b1b"/><stop offset="0.1818" stop-color="#1c1c1c"/><stop offset="0.2273" stop-color="#1e1e1e"/><stop offset="0.2727" stop-color="#1f1f1f"/><stop offset="0.3182" stop-color="#212121"/><stop offset="0.3636" stop-color="#222222"/><stop offset="0.4091" stop-color="#232323"/><stop offset="0.4545" stop-color="#252525"/><stop offset="0.5" stop-color="#272727"/><stop offset="0.5455" stop-color="#2a2a2a"/><stop offset="0.5909" stop-color="#2c2c2c"/><stop offset="0.6364" stop-color="#292929"/><stop offset="0.6818" stop-color="#232323"/><stop offset="0.7273" stop-color="#1c1c1c"/><stop offset="0.7727" stop-color="#191919"/><stop offset="0.8182" stop-color="#171717"/><stop offset="0.8636" stop-color="#161616"/><stop offset="0.9091" stop-color="#141414"/><stop offset="0.9545" stop-color="#101010"/><stop offset="1" stop-color="#101010"/></linearGradient><linearGradient id="g172" gradientUnits="userSpaceOnUse" x1="-9.4" x2="197.4" y1="0" y2="0"><stop offset="0" stop-color="#181818"/><stop offset="0.04545" stop-color="#181818"/><stop offset="0.09091" stop-color="#191919"/><stop offset="0.1364" stop-color="#1a1a1a"/><stop offset="0.1818" stop-color="#1b1b1b"/><stop offset="0.2273" stop-color="#1d1d1d"/><stop offset="0.2727" stop-color="#1f1f1f"/><stop offset="0.3182" stop-color="#202020"/><stop offset="0.3636" stop-color="#222222"/><stop offset="0.4091" stop-color="#232323"/><stop offset="0.4545" stop-color="#252525"/><stop offset="0.5" stop-color="#282828"/><stop offset="0.5455" stop-color="#2b2b2b"/><stop offset="0.5909" stop-color="#2c2c2c"/><stop offset="0.6364" stop-color="#292929"/><stop offset="0.6818" stop-color="#222222"/><stop offset="0.7273" stop-color="#1c1c1c"/><stop offset="0.7727" stop-color="#181818"/><stop offset="0.8182" stop-color="#161616"/><stop offset="0.8636" stop-color="#141414"/><stop offset="0.9091" stop-color="#121212"/><stop offset="0.9545" stop-color="#0e0e0e"/><stop offset="1" stop-color="#0e0e0e"/></linearGradient><linearGradient id="g173" gradientUnits="userSpaceOnUse" x1="-9.4" x2="197.4" y1="0" y2="0"><stop offset="0" stop-color="#181818"/><stop offset="0.04545" stop-color="#181818"/><stop offset="0.09091" stop-color="#191919"/><stop offset="0.1364" stop-color="#1a1a1a"/><stop offset="0.1818" stop-color="#1b1b1b"/><stop offset="0.2273" stop-color="#1d1d1d"/><stop offset="0.2727" stop-color="#1f1f1f"/><stop offset="0.3182" stop-color="#202020"/><stop offset="0.3636" stop-color="#222222"/><stop offset="0.4091" stop-color="#232323"/><stop offset="0.4545" stop-color="#252525"/><stop offset="0.5" stop-color="#282828"/><stop offset="0.5455" stop-color="#2b2b2b"/><stop offset="0.5909" stop-color="#2c2c2c"/><stop offset="0.6364" stop-color="#292929"/><stop offset="0.6818" stop-color="#222222"/><stop offset="0.7273" stop-color="#1c1c1c"/><stop offset="0.7727" stop-color="#181818"/><stop offset="0.8182" stop-color="#161616"/><stop offset="0.8636" stop-color="#141414"/><stop offset="0.9091" stop-color="#121212"/><stop offset="0.9545" stop-color="#0e0e0e"/><stop offset="1" stop-color="#0e0e0e"/></linearGradient><linearGradient id="g174" gradientUnits="userSpaceOnUse" x1="-9.4" x2="197.4" y1="0" y2="0"><stop offset="0" stop-color="#181818"/><stop offset="0.04545" stop-color="#181818"/><stop offset="0.09091" stop-color="#191919"/><stop offset="0.1364" stop-color="#1a1a1a"/><stop offset="0.1818" stop-color="#1b1b1b"/><stop offset="0.2273" stop-color="#1d1d1d"/><stop offset="0.2727" stop-color="#1f1f1f"/><stop offset="0.3182" stop-color="#202020"/><stop offset="0.3636" stop-color="#222222"/><stop offset="0.4091" stop-color="#232323"/><stop offset="0.4545" stop-color="#252525"/><stop offset="0.5" stop-color="#282828"/><stop offset="0.5455" stop-color="#2b2b2b"/><stop offset="0.5909" stop-color="#2c2c2c"/><stop offset="0.6364" stop-color="#292929"/><stop offset="0.6818" stop-color="#222222"/><stop offset="0.7273" stop-color="#1c1c1c"/><stop offset="0.7727" stop-color="#181818"/><stop offset="0.8182" stop-color="#161616"/><stop offset="0.8636" stop-color="#141414"/><stop offset="0.9091" stop-color="#121212"/><stop offset="0.9545" stop-color="#0e0e0e"/><stop offset="1" stop-color="#0e0e0e"/></linearGradient><radialGradient id="g6" fx="0.491" fy="0.473"><stop offset="0" stop-color="#b1b1b1" stop-opacity="1"/><stop offset="0.178571" stop-color="#b0b0b0" stop-opacity="1"/><stop offset="0.375" stop-color="#a6a6a6" stop-opacity="1"/><stop offset="0.535714" stop-color="#9a9a9a" stop-opacity="1"/><stop offset="0.660714" stop-color="#8e8e8e" stop-opacity="0.95"/><stop offset="0.767857" stop-color="#818181" stop-opacity="0.8"/><stop offset="0.875" stop-color="#747474" stop-opacity="0.45"/><stop offset="1" stop-color="#6f6f6f" stop-opacity="0"/></radialGradient><clipPath id="cpd"><rect x="0" y="0" width="188" height="191.1"/></clipPath></defs>
<g transform="translate(334.7 292.05)"><g clip-path="url(#cpd)"><g filter="url(#cm)">
<g filter="url(#bl)">
<rect x="-9.4" y="-5" width="206.8" height="5.6" fill="url(#g133)"/>
<rect x="-9.4" y="0" width="206.8" height="5.6" fill="url(#g134)"/>
<rect x="-9.4" y="5" width="206.8" height="5.6" fill="url(#g135)"/>
<rect x="-9.4" y="10" width="206.8" height="5.6" fill="url(#g136)"/>
<rect x="-9.4" y="15" width="206.8" height="5.6" fill="url(#g137)"/>
<rect x="-9.4" y="20" width="206.8" height="5.6" fill="url(#g138)"/>
<rect x="-9.4" y="25" width="206.8" height="5.6" fill="url(#g139)"/>
<rect x="-9.4" y="30" width="206.8" height="5.6" fill="url(#g140)"/>
<rect x="-9.4" y="35" width="206.8" height="5.6" fill="url(#g141)"/>
<rect x="-9.4" y="40" width="206.8" height="5.6" fill="url(#g142)"/>
<rect x="-9.4" y="45" width="206.8" height="5.6" fill="url(#g143)"/>
<rect x="-9.4" y="50" width="206.8" height="5.6" fill="url(#g144)"/>
<rect x="-9.4" y="55" width="206.8" height="5.6" fill="url(#g145)"/>
<rect x="-9.4" y="60" width="206.8" height="5.6" fill="url(#g146)"/>
<rect x="-9.4" y="65" width="206.8" height="5.6" fill="url(#g147)"/>
<rect x="-9.4" y="70" width="206.8" height="5.6" fill="url(#g148)"/>
<rect x="-9.4" y="75" width="206.8" height="5.6" fill="url(#g149)"/>
<rect x="-9.4" y="80" width="206.8" height="5.6" fill="url(#g150)"/>
<rect x="-9.4" y="85" width="206.8" height="5.6" fill="url(#g151)"/>
<rect x="-9.4" y="90" width="206.8" height="5.6" fill="url(#g152)"/>
<rect x="-9.4" y="95" width="206.8" height="5.6" fill="url(#g153)"/>
<rect x="-9.4" y="100" width="206.8" height="5.6" fill="url(#g154)"/>
<rect x="-9.4" y="105" width="206.8" height="5.6" fill="url(#g155)"/>
<rect x="-9.4" y="110" width="206.8" height="5.6" fill="url(#g156)"/>
<rect x="-9.4" y="115" width="206.8" height="5.6" fill="url(#g157)"/>
<rect x="-9.4" y="120" width="206.8" height="5.6" fill="url(#g158)"/>
<rect x="-9.4" y="125" width="206.8" height="5.6" fill="url(#g159)"/>
<rect x="-9.4" y="130" width="206.8" height="5.6" fill="url(#g160)"/>
<rect x="-9.4" y="135" width="206.8" height="5.6" fill="url(#g161)"/>
<rect x="-9.4" y="140" width="206.8" height="5.6" fill="url(#g162)"/>
<rect x="-9.4" y="145" width="206.8" height="5.6" fill="url(#g163)"/>
<rect x="-9.4" y="150" width="206.8" height="5.6" fill="url(#g164)"/>
<rect x="-9.4" y="155" width="206.8" height="5.6" fill="url(#g165)"/>
<rect x="-9.4" y="160" width="206.8" height="5.6" fill="url(#g166)"/>
<rect x="-9.4" y="165" width="206.8" height="5.6" fill="url(#g167)"/>
<rect x="-9.4" y="170" width="206.8" height="5.6" fill="url(#g168)"/>
<rect x="-9.4" y="175" width="206.8" height="5.6" fill="url(#g169)"/>
<rect x="-9.4" y="180" width="206.8" height="5.6" fill="url(#g170)"/>
<rect x="-9.4" y="185" width="206.8" height="5.6" fill="url(#g171)"/>
<rect x="-9.4" y="190" width="206.8" height="5.6" fill="url(#g172)"/>
<rect x="-9.4" y="195" width="206.8" height="5.6" fill="url(#g173)"/>
<rect x="-9.4" y="200" width="206.8" height="5.6" fill="url(#g174)"/>
</g>
<ellipse cx="93.6" cy="92.95" rx="28" ry="28" fill="url(#g6)"/>
</g></g>
<ellipse cx="93.6" cy="95.15" rx="23.5" ry="23.8" fill="none" stroke="#141414" stroke-width="1.15" stroke-dasharray="3.6 2.34"/>
</g>
<g stroke="#151515" stroke-width="1.05" fill="none">
<path stroke-width="0.6" d="M334.7 292.05V483.15H522.7"/>
<path d="M334.7 292.05h-3.6M334.7 483.15v3.2M334.7 315.94h-1.9M358.2 483.15v1.7M334.7 339.82h-3.6M381.7 483.15v3.2M334.7 363.71h-1.9M405.2 483.15v1.7M334.7 387.6h-3.6M428.7 483.15v3.2M334.7 411.49h-1.9M452.2 483.15v1.7M334.7 435.38h-3.6M475.7 483.15v3.2M334.7 459.26h-1.9M499.2 483.15v1.7M334.7 483.15h-3.6M522.7 483.15v3.2"/>
</g>
<g class="tk">
<text x="328.4" y="294.45" text-anchor="end">20</text>
<text x="328.4" y="342.22" text-anchor="end">10</text>
<text x="328.4" y="390" text-anchor="end">0</text>
<text x="328.4" y="437.77" text-anchor="end">-10</text>
<text x="328.4" y="485.55" text-anchor="end">-20</text>
<text x="334.7" y="495.15" text-anchor="middle">-20</text>
<text x="381.7" y="495.15" text-anchor="middle">-10</text>
<text x="428.7" y="495.15" text-anchor="middle">0</text>
<text x="475.7" y="495.15" text-anchor="middle">10</text>
<text x="522.7" y="495.15" text-anchor="middle">20</text>
</g>
<text class="ax" x="428.7" y="509.7" text-anchor="middle">X (mm)</text>
<text class="ax" x="313.7" y="387.6" text-anchor="middle" transform="rotate(-90 313.7 387.6)">Y (mm)</text>
<text class="an" x="473.8" y="308.45">A= 10 mm</text>
<text class="an" x="473.8" y="320.05">T= 15 mm</text>
<text class="cap" x="423.8" y="544.3" text-anchor="middle">(d)</text>
<defs><linearGradient id="cb" x1="0" x2="1" y1="0" y2="0">
<stop offset="0" stop-color="#0000ff"/><stop offset="0.25" stop-color="#00ffff"/><stop offset="0.5" stop-color="#00ff00"/><stop offset="0.75" stop-color="#ffff00"/><stop offset="1" stop-color="#ff0000"/></linearGradient></defs>
<rect x="301.6" y="555.9" width="215.3" height="9.1" fill="url(#cb)" stroke="#666" stroke-width="0.8"/>
<g class="cbt">
<text x="298.4" y="582.5" textLength="5.8" lengthAdjust="spacingAndGlyphs">0</text>
<text x="321.7" y="582.5" textLength="17.4" lengthAdjust="spacingAndGlyphs">500</text>
<text x="347.9" y="582.5" textLength="23.2" lengthAdjust="spacingAndGlyphs">1000</text>
<text x="377" y="582.5" textLength="23.2" lengthAdjust="spacingAndGlyphs">1500</text>
<text x="406.1" y="582.5" textLength="23.2" lengthAdjust="spacingAndGlyphs">2000</text>
<text x="435.2" y="582.5" textLength="23.2" lengthAdjust="spacingAndGlyphs">2500</text>
<text x="464.3" y="582.5" textLength="23.2" lengthAdjust="spacingAndGlyphs">3000</text>
<text x="493.4" y="582.5" textLength="23.2" lengthAdjust="spacingAndGlyphs">3500</text>
</g>
<path d="M301.6 565v5.3M330.7 565v5.3M359.8 565v5.3M388.9 565v5.3M418 565v5.3M447.1 565v5.3M476.2 565v5.3M505.3 565v5.3" stroke="#444" stroke-width="0.8" fill="none"/>
<text class="cbu" x="522.6" y="582.5">W/m<tspan dy="-5" font-size="7.5">3</tspan></text>
</svg></body></html>
